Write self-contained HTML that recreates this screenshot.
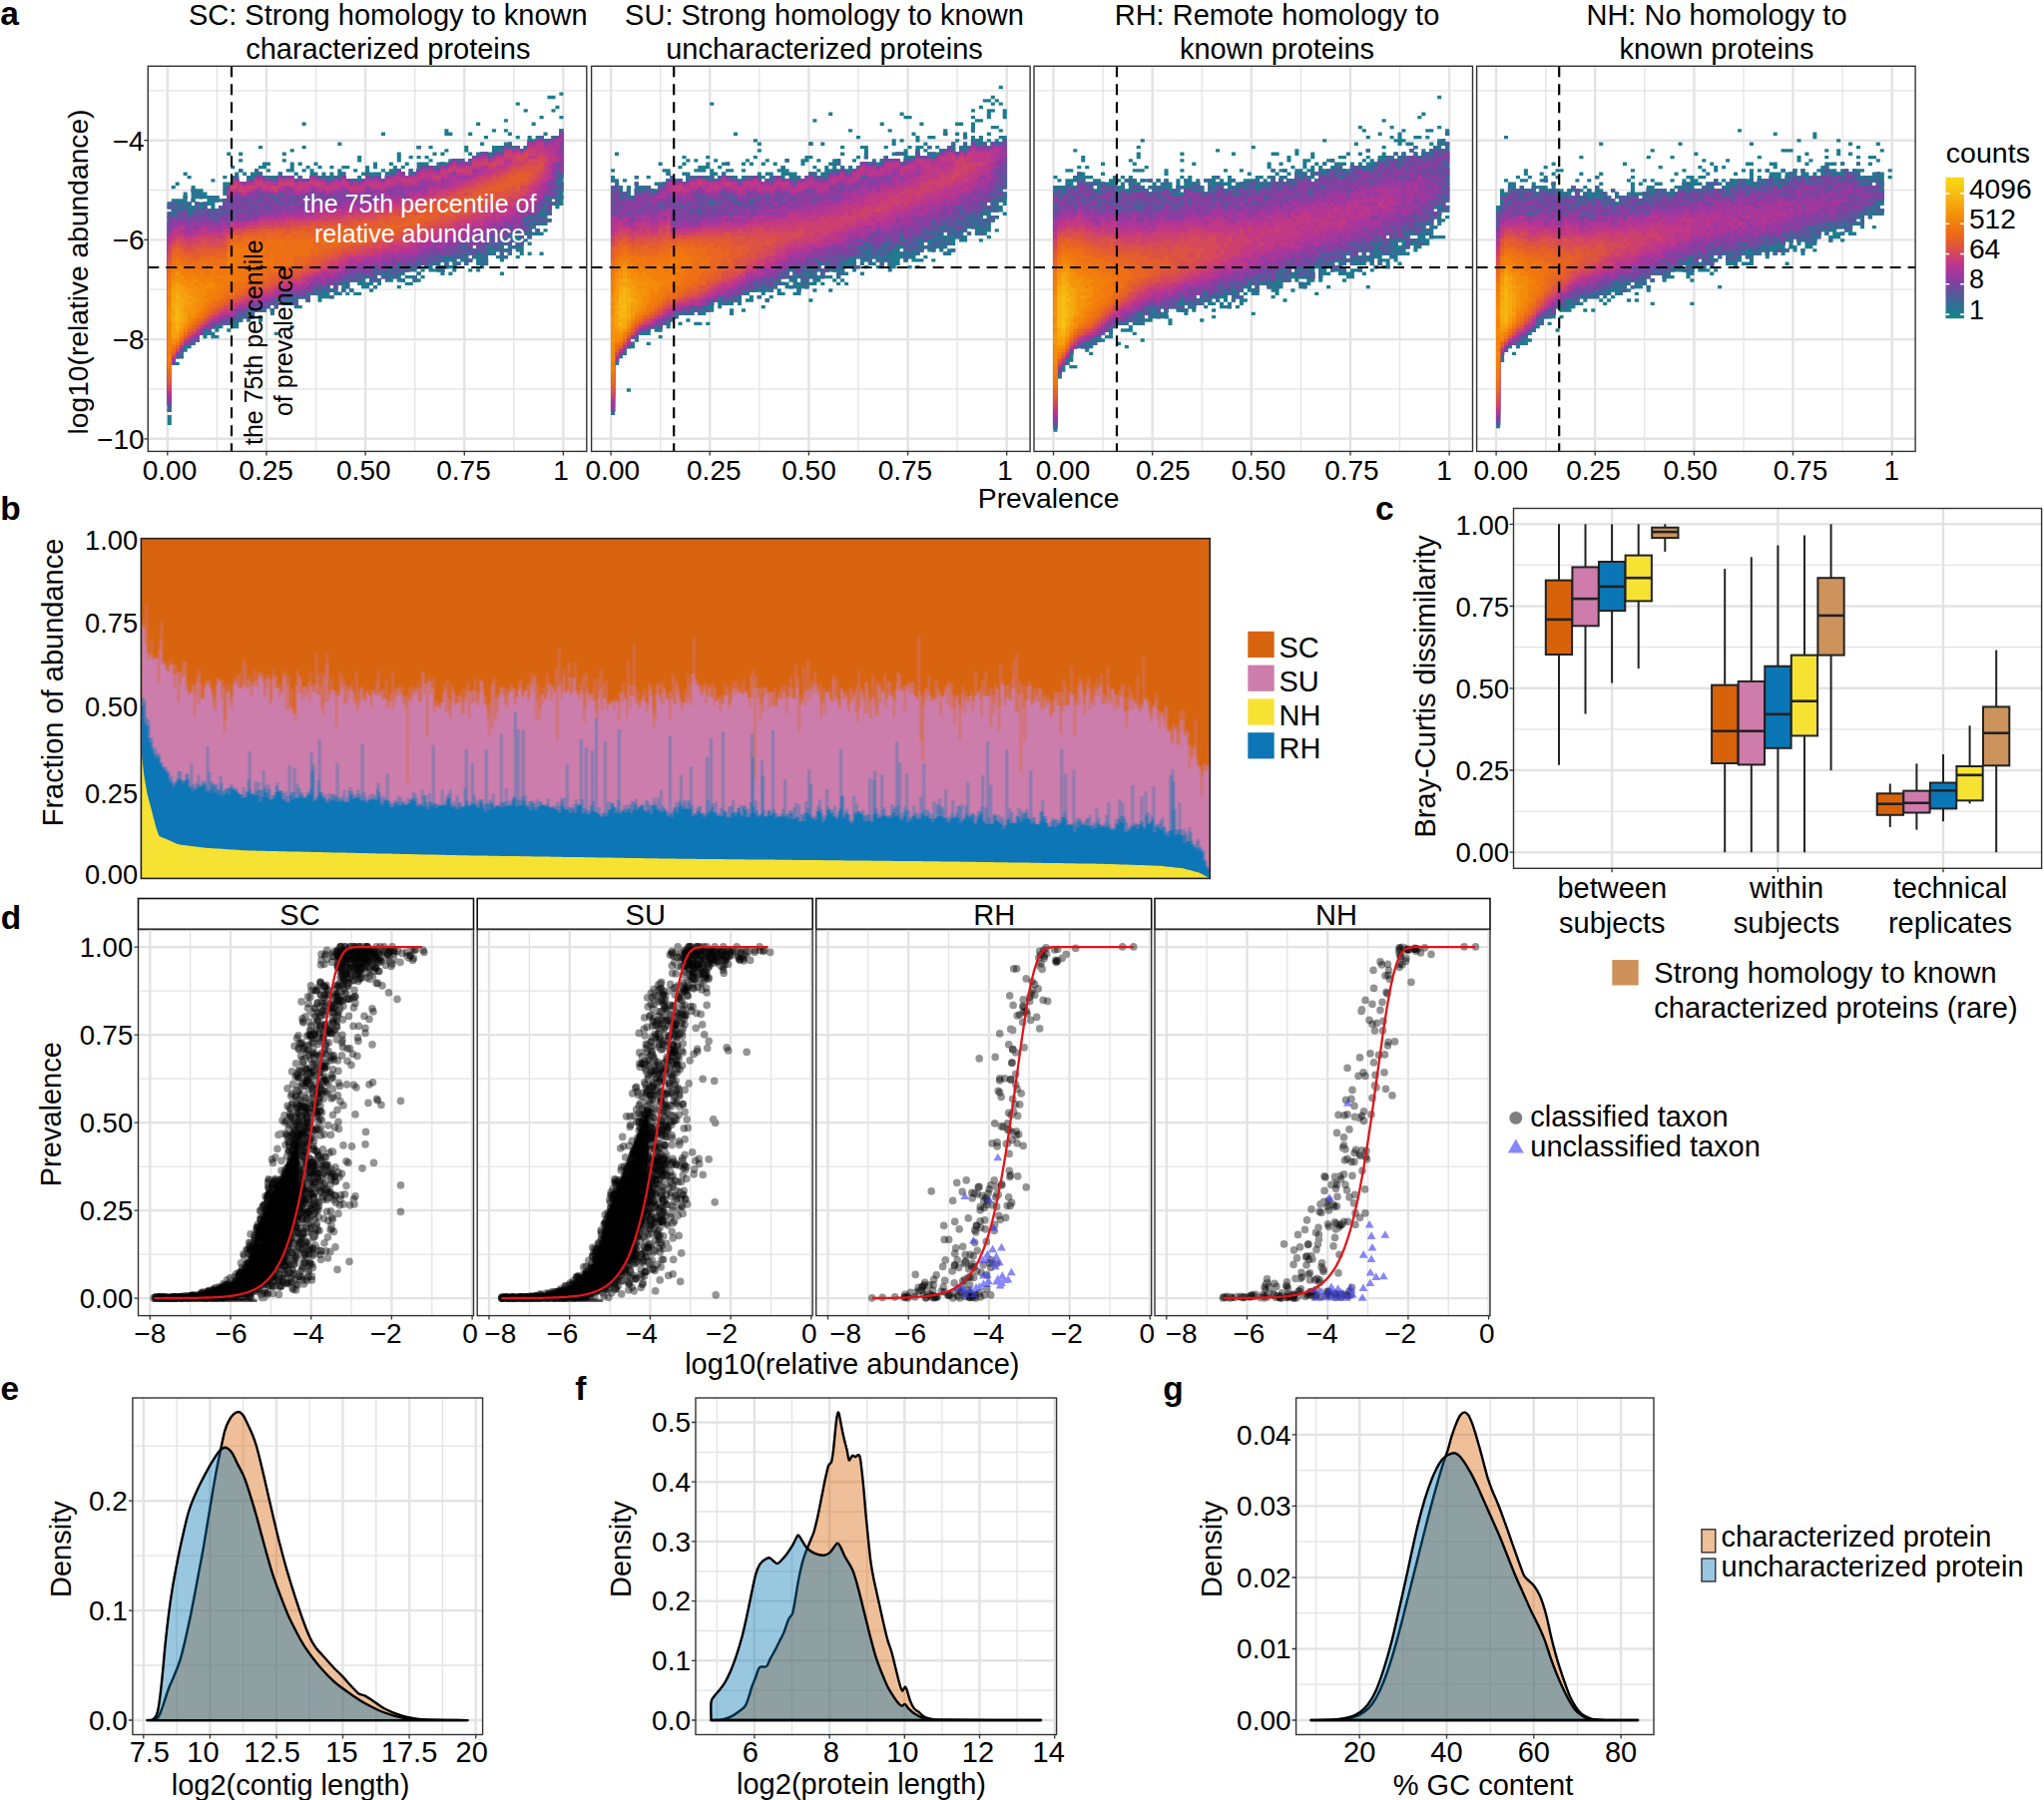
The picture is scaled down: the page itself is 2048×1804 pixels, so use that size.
<!DOCTYPE html>
<html><head><meta charset="utf-8"><title>Figure</title>
<style>html,body{margin:0;padding:0;background:#fff}svg{display:block}text{font-family:"Liberation Sans", Arial, sans-serif}</style>
</head><body>
<svg width="2048" height="1804" viewBox="0 0 2048 1804">
<rect width="2048" height="1804" fill="#fff"/>
<clipPath id="ca0"><rect x="148.3" y="66.3" width="439.5" height="386.1"/></clipPath>
<g clip-path="url(#ca0)">
<path d="M217.4 66.3V452.4M316.5 66.3V452.4M415.7 66.3V452.4M514.8 66.3V452.4M148.3 90.8H587.8M148.3 190.5H587.8M148.3 290.2H587.8M148.3 389.9H587.8" stroke="#e3e3e3" stroke-width="1.3" fill="none"/>
<path d="M167.8 66.3V452.4M267.0 66.3V452.4M366.1 66.3V452.4M465.3 66.3V452.4M564.4 66.3V452.4M148.3 140.7H587.8M148.3 240.4H587.8M148.3 340.1H587.8M148.3 439.8H587.8" stroke="#e3e3e3" stroke-width="2.4" fill="none"/>
<g transform="translate(169.78 85.86) scale(3.966 3.335)" fill="none" stroke-width="1.03">
<path d="M0 35v2M0 38v60M0 99v3M1 30v1M1 34v50M2 29v1M2 34v48M2 83v1M3 34v48M4 26v1M4 32v48M5 27v1M5 35v44M6 30v5M6 36v42M7 31v3M7 35v42M8 31v3M8 35v40M9 32v2M9 35v41M10 33v3M10 37v38M11 28v1M11 33v40M11 74v2M12 33v2M12 37v37M12 75v1M13 34v1M13 36v37M14 27v1M14 29v4M14 34v38M15 20v1M15 29v43M15 73v1M16 24v1M16 27v46M17 26v47M18 20v1M18 22v1M18 25v1M18 29v42M19 26v1M19 29v41M20 27v44M21 26v44M22 25v43M23 18v1M23 24v1M23 26v42M23 69v2M24 23v2M24 27v41M25 23v1M25 25v1M25 27v40M26 27v39M26 67v2M27 27v40M27 74v1M28 26v39M29 20v1M29 22v1M29 27v39M30 25v1M30 27v39M31 19v1M31 23v3M31 27v39M31 72v1M32 26v1M32 28v39M33 23v1M33 27v37M33 66v1M34 11v1M34 18v1M34 25v1M34 28v36M35 24v1M35 28v37M36 25v38M37 23v1M37 26v37M38 24v1M38 27v38M39 26v38M40 27v37M41 24v1M41 26v34M41 61v1M41 63v1M42 27v36M43 17v1M43 25v35M43 62v1M44 24v1M44 26v36M45 24v1M45 28v33M45 62v1M46 28v31M46 61v1M47 25v1M47 28v31M47 62v1M48 21v2M48 27v33M48 62v1M49 26v1M49 28v33M50 24v34M50 59v2M51 26v34M51 61v1M52 23v2M52 26v33M52 60v1M53 26v31M53 58v2M54 14v1M54 25v1M54 28v30M55 26v33M56 23v1M56 25v34M57 24v34M58 20v3M58 25v34M58 60v1M59 24v1M59 26v31M59 58v1M60 23v1M60 27v29M60 57v1M60 59v1M61 21v1M61 25v31M61 57v1M61 59v1M62 26v30M62 57v2M63 18v1M63 21v1M63 23v32M63 56v1M63 58v1M64 23v31M64 55v1M64 57v1M65 21v1M65 23v32M66 18v1M66 22v1M66 24v32M67 20v1M67 24v30M67 55v1M68 23v33M69 20v1M69 23v30M69 54v3M70 13v2M70 19v1M70 23v32M71 14v1M71 22v31M71 54v1M71 56v1M72 22v34M73 22v30M73 53v1M74 22v31M75 18v2M75 23v31M76 14v1M76 20v1M76 22v29M76 52v1M76 55v1M77 21v27M77 49v3M78 11v1M78 20v34M78 55v1M79 17v1M79 20v35M80 15v1M80 20v34M81 20v31M82 13v1M82 18v33M83 18v32M83 51v1M84 18v35M84 56v1M85 10v1M85 13v1M85 17v31M85 49v1M85 51v1M86 14v1M86 17v34M87 18v29M87 48v1M88 5v1M88 15v1M88 18v32M88 51v1M89 19v32M90 7v1M90 18v27M90 46v1M91 15v31M91 47v1M91 50v1M92 11v1M92 16v27M92 44v1M93 15v27M93 43v2M94 9v1M94 15v27M94 44v1M94 50v1M95 14v1M95 16v26M95 43v1M96 3v1M96 16v23M96 40v1M97 3v1M97 7v1M97 15v19M97 35v1M98 6v1M98 15v22M99 2v1M99 9v1M99 13v23" stroke="#1e7c8e"/>
<path d="M0 35v2M0 38v60M1 35v49M2 35v47M3 35v47M4 33v1M4 36v42M5 35v1M5 37v1M5 39v39M6 31v1M6 34v1M6 37v41M7 32v1M7 35v42M8 33v1M8 37v38M9 35v39M10 37v37M11 33v1M11 37v36M12 33v2M12 37v35M13 36v36M14 34v38M15 30v41M16 28v43M17 27v44M18 25v1M18 29v42M19 29v41M20 28v40M20 69v1M21 28v42M22 25v1M22 27v41M23 26v42M24 27v41M25 28v39M26 28v38M26 67v1M27 27v37M27 65v2M28 26v39M29 27v38M30 27v37M30 65v1M31 27v39M32 28v38M33 27v37M34 28v36M35 28v37M36 27v36M37 27v34M37 62v1M38 27v36M39 27v34M40 27v35M41 28v32M41 61v1M41 63v1M42 27v35M43 27v33M43 62v1M44 26v33M44 61v1M45 28v33M46 28v31M46 61v1M47 28v31M48 29v30M49 28v30M50 26v31M51 27v32M52 27v32M52 60v1M53 27v30M53 58v1M54 28v28M54 57v1M55 26v32M56 26v31M57 26v32M58 25v28M58 55v2M59 26v30M59 58v1M60 27v29M61 25v30M62 26v29M62 57v2M63 18v1M63 25v30M63 56v1M64 24v30M65 24v31M66 24v30M67 24v30M68 24v29M68 55v1M69 23v30M69 55v1M70 24v27M70 53v2M71 23v29M72 22v31M72 54v1M73 22v30M73 53v1M74 22v30M75 23v31M76 22v29M76 52v1M77 21v27M77 49v3M78 21v30M79 20v30M79 51v2M80 20v31M80 52v2M81 21v27M82 19v30M82 50v1M83 20v29M84 18v1M84 20v28M84 49v3M85 18v30M85 49v1M85 51v1M86 17v31M86 49v2M87 18v29M87 48v1M88 18v27M88 47v2M89 19v29M90 18v27M91 16v23M91 40v6M92 17v26M93 16v26M93 43v1M94 15v22M94 39v2M95 16v20M95 37v2M95 40v1M96 16v23M96 40v1M97 15v19M97 35v1M98 15v20M99 13v15M99 29v3M99 33v1" stroke="#2a7491"/>
<path d="M0 35v2M0 38v60M1 35v49M2 35v47M3 35v47M4 33v1M4 36v42M5 35v1M5 37v1M5 39v39M6 31v1M6 34v1M6 37v41M7 32v1M7 35v42M8 33v1M8 37v38M9 35v39M10 37v37M11 33v1M11 37v36M12 33v2M12 37v35M13 36v36M14 34v38M15 30v41M16 28v43M17 27v44M18 25v1M18 29v42M19 29v41M20 28v40M20 69v1M21 28v42M22 25v1M22 27v41M23 26v42M24 27v41M25 28v39M26 28v38M26 67v1M27 27v37M27 65v2M28 26v39M29 27v38M30 27v37M30 65v1M31 27v39M32 28v38M33 27v37M34 28v36M35 28v37M36 27v36M37 27v34M37 62v1M38 27v36M39 27v34M40 27v35M41 28v32M41 61v1M41 63v1M42 27v35M43 27v33M43 62v1M44 26v33M44 61v1M45 28v33M46 28v31M46 61v1M47 28v31M48 29v30M49 28v30M50 26v31M51 27v32M52 27v32M52 60v1M53 27v30M53 58v1M54 28v28M54 57v1M55 26v32M56 26v31M57 26v32M58 25v28M58 55v2M59 26v30M59 58v1M60 27v29M61 25v30M62 26v29M62 57v2M63 18v1M63 25v30M63 56v1M64 24v30M65 24v31M66 24v30M67 24v30M68 24v29M68 55v1M69 23v30M69 55v1M70 24v27M70 53v2M71 23v29M72 22v31M72 54v1M73 22v30M73 53v1M74 22v30M75 23v31M76 22v29M76 52v1M77 21v27M77 49v3M78 21v30M79 20v30M79 51v2M80 20v31M80 52v2M81 21v27M82 19v30M82 50v1M83 20v29M84 18v1M84 20v28M84 49v3M85 18v30M85 49v1M85 51v1M86 17v31M86 49v2M87 18v29M87 48v1M88 18v27M88 47v2M89 19v29M90 18v27M91 16v23M91 40v6M92 17v26M93 16v26M93 43v1M94 15v22M94 39v2M95 16v20M95 37v2M95 40v1M96 16v23M96 40v1M97 15v19M97 35v1M98 15v20M99 13v15M99 29v3M99 33v1" stroke="#376b94"/>
<path d="M0 36v1M0 38v58M0 97v1M1 35v2M1 39v45M2 36v1M2 38v44M3 37v43M4 36v42M5 35v1M5 39v39M6 38v39M7 35v42M8 37v38M9 35v1M9 37v36M10 37v37M11 38v35M12 37v35M13 36v36M14 34v38M15 30v41M16 28v42M17 28v43M18 29v40M19 29v41M20 28v39M20 69v1M21 28v40M21 69v1M22 25v1M22 27v41M23 26v41M24 27v41M25 28v38M26 28v38M26 67v1M27 28v36M27 65v2M28 27v38M29 27v38M30 27v37M31 27v37M31 65v1M32 28v36M32 65v1M33 28v36M34 28v36M35 28v34M35 63v2M36 27v36M37 27v34M38 28v34M39 28v33M40 29v33M41 28v32M41 63v1M42 27v34M43 28v32M44 27v32M45 28v31M46 28v31M47 28v31M48 29v30M49 28v30M50 26v31M51 28v31M52 27v29M52 57v2M53 27v30M53 58v1M54 28v28M54 57v1M55 27v29M55 57v1M56 27v27M56 55v2M57 26v29M57 56v2M58 25v28M58 55v1M59 26v30M60 27v29M61 26v29M62 27v28M63 25v28M63 54v1M64 24v30M65 24v30M66 24v30M67 24v29M68 25v28M69 24v29M70 24v27M70 53v1M71 23v29M72 22v29M73 23v27M73 51v1M73 53v1M74 22v26M74 49v2M75 23v25M75 49v1M76 22v29M76 52v1M77 21v27M77 49v2M78 21v28M79 20v30M80 20v31M81 21v27M82 21v26M82 48v1M83 20v29M84 20v27M84 49v2M85 18v30M86 18v30M86 49v1M87 19v26M87 46v1M88 18v27M88 47v2M89 19v29M90 19v21M90 41v3M91 17v22M91 40v1M91 42v2M91 45v1M92 17v23M93 16v26M93 43v1M94 15v22M94 40v1M95 17v19M95 37v1M95 40v1M96 16v18M96 35v4M97 16v15M97 32v2M97 35v1M98 15v13M98 29v4M98 34v1M99 14v13M99 29v2" stroke="#496199"/>
<path d="M0 36v1M0 39v1M0 41v55M1 35v1M1 40v44M2 38v44M3 38v42M4 37v41M5 39v39M6 38v39M7 35v1M7 37v40M8 37v38M9 37v36M10 37v37M11 38v35M12 37v3M12 41v31M13 36v35M14 34v3M14 38v34M15 30v41M16 28v42M17 28v42M18 29v40M19 29v39M20 28v39M20 69v1M21 28v39M22 27v39M22 67v1M23 27v40M24 28v39M25 28v38M26 28v37M27 28v5M27 34v30M27 65v1M28 27v5M28 33v31M29 27v36M29 64v1M30 27v37M31 27v37M32 29v34M32 65v1M33 28v36M34 28v36M35 28v34M35 63v1M36 27v6M36 34v28M37 27v34M38 28v34M39 28v33M40 29v31M41 28v32M42 28v31M42 60v1M43 28v32M44 27v31M45 28v29M45 58v1M46 29v29M47 28v30M48 29v28M49 28v30M50 27v30M51 28v30M52 27v27M53 27v28M53 56v1M54 28v28M55 27v28M55 57v1M56 27v27M57 27v28M57 56v1M58 25v28M58 55v1M59 26v29M60 27v27M60 55v1M61 26v29M62 27v28M63 25v27M63 54v1M64 24v30M65 24v30M66 24v29M67 25v28M68 25v26M68 52v1M69 24v27M70 24v27M71 23v28M72 22v29M73 23v27M73 51v1M74 22v26M74 49v2M75 23v25M75 49v1M76 22v27M76 50v1M76 52v1M77 21v27M77 49v2M78 21v28M79 20v28M79 49v1M80 20v29M80 50v1M81 22v26M82 21v24M82 46v1M82 48v1M83 20v29M84 20v27M85 18v27M85 46v1M86 19v26M86 46v1M87 19v26M88 18v26M89 19v26M89 47v1M90 19v21M90 41v3M91 17v22M91 40v1M92 17v22M93 16v22M93 39v2M94 15v22M94 40v1M95 17v16M95 34v2M95 37v1M95 40v1M96 16v17M96 35v2M97 16v15M97 32v1M98 15v11M98 27v1M98 30v1M99 14v12" stroke="#5c569d"/>
<path d="M0 39v1M0 41v55M1 40v44M2 40v41M3 38v1M3 40v40M4 38v40M5 40v37M6 39v38M7 39v37M8 39v36M9 37v36M10 40v33M11 40v32M12 38v1M12 41v31M13 39v32M14 35v2M14 38v32M14 71v1M15 30v6M15 37v1M15 39v32M16 29v6M16 36v4M16 41v29M17 28v9M17 38v30M18 29v8M18 38v30M19 29v39M20 29v5M20 36v2M20 39v28M21 29v7M21 37v30M22 27v7M22 35v1M22 37v29M22 67v1M23 27v5M23 33v1M23 35v32M24 28v38M25 28v4M25 33v3M25 38v28M26 29v4M26 34v31M27 29v4M27 35v29M28 27v5M28 33v1M28 36v28M29 28v35M30 27v35M31 27v6M31 34v28M31 63v1M32 29v5M32 35v28M33 28v35M34 28v7M34 36v27M35 28v34M36 27v5M36 34v28M37 27v7M37 35v26M38 28v32M39 28v6M39 35v25M40 29v31M41 29v4M41 34v26M42 28v5M42 34v25M42 60v1M43 28v31M44 27v31M45 28v29M46 29v29M47 29v27M48 29v27M49 28v5M49 34v22M50 27v30M51 28v29M52 27v27M53 28v27M54 28v28M55 27v28M56 27v27M57 27v28M58 25v28M58 55v1M59 26v28M60 27v27M61 27v26M62 27v26M63 25v26M64 24v29M65 25v26M66 24v28M67 25v26M68 25v26M69 24v27M70 24v25M70 50v1M71 23v26M71 50v1M72 22v4M72 27v23M73 23v25M74 23v25M74 49v1M75 23v23M76 23v26M77 21v27M78 21v28M79 21v27M79 49v1M80 20v28M81 22v23M81 46v1M82 21v24M82 46v1M83 20v27M84 20v25M85 19v26M86 19v23M86 43v1M87 19v24M87 44v1M88 19v24M89 20v23M90 19v20M90 42v1M91 17v22M91 40v1M92 17v22M93 16v20M93 37v1M94 16v19M94 36v1M95 17v16M95 40v1M96 16v17M96 36v1M97 16v15M97 32v1M98 15v8M98 24v2M99 14v12" stroke="#704a9f"/>
<path d="M0 41v2M0 44v52M1 40v43M2 40v41M3 40v39M4 38v40M5 41v36M6 40v36M7 39v1M7 41v35M8 39v1M8 41v34M9 39v34M10 40v33M11 40v31M12 41v31M13 40v31M14 36v1M14 39v31M15 30v4M15 39v1M15 42v29M16 29v5M16 36v2M16 41v29M17 28v9M17 39v29M18 29v5M18 36v1M18 38v30M19 29v5M19 35v2M19 38v30M20 29v5M20 36v1M20 40v26M21 29v5M21 35v1M21 37v29M22 27v7M22 35v1M22 39v26M23 27v5M23 36v2M23 39v27M24 28v4M24 33v1M24 35v1M24 37v29M25 28v4M25 33v3M25 38v26M26 29v4M26 34v1M26 36v29M27 29v4M27 35v29M28 27v5M28 33v1M28 36v28M29 28v4M29 34v1M29 36v27M30 28v7M30 37v25M31 27v6M31 36v26M32 29v5M32 36v26M33 28v5M33 34v28M34 28v5M34 34v1M34 36v25M35 29v33M36 27v5M36 35v27M37 27v7M37 35v25M38 28v4M38 34v25M39 28v6M39 35v25M40 29v30M41 29v4M41 34v26M42 28v5M42 34v25M43 28v30M44 27v5M44 33v25M45 28v5M45 34v21M45 56v1M46 29v27M47 29v27M48 29v27M49 28v5M49 34v22M50 27v29M51 28v27M51 56v1M52 27v27M53 28v5M53 34v21M54 29v26M55 27v28M56 27v27M57 27v27M58 26v27M59 26v7M59 34v20M60 27v26M61 27v26M62 27v26M63 25v26M64 25v28M65 25v26M66 24v26M67 25v25M68 25v25M69 24v27M70 25v24M70 50v1M71 23v26M72 22v4M72 27v23M73 23v24M74 23v23M74 47v1M75 23v23M76 24v22M76 47v2M77 22v24M77 47v1M78 21v24M78 48v1M79 21v27M79 49v1M80 20v26M81 22v23M82 21v24M83 20v23M83 45v1M84 21v24M85 19v26M86 19v23M86 43v1M87 19v24M88 19v24M89 20v21M90 19v20M91 17v22M92 17v21M93 16v19M93 37v1M94 16v19M95 17v16M96 17v16M96 36v1M97 16v12M97 29v2M97 32v1M98 16v7M98 24v1M99 14v12" stroke="#8340a0"/>
<path d="M0 44v50M1 40v1M1 42v41M2 41v40M3 41v38M4 41v37M5 42v35M6 41v35M7 41v1M7 43v32M8 42v32M9 40v33M10 41v32M11 42v29M12 42v29M13 40v30M14 41v29M15 31v2M15 42v27M16 29v4M16 41v28M17 28v4M17 40v27M18 29v4M18 38v1M18 41v26M19 29v4M19 39v28M20 29v4M20 40v26M21 29v3M21 39v26M22 28v3M22 35v1M22 40v25M23 27v5M23 37v1M23 39v26M24 28v4M24 39v26M25 28v4M25 38v26M26 29v3M26 36v1M26 38v26M27 29v4M27 35v1M27 38v26M28 28v4M28 38v26M29 28v4M29 34v1M29 37v25M30 28v3M30 32v1M30 38v24M31 27v5M31 36v1M31 38v24M32 29v4M32 38v24M33 28v5M33 35v1M33 37v25M34 29v4M34 34v1M34 36v25M35 29v3M35 37v23M35 61v1M36 27v5M36 36v23M37 28v4M37 36v23M38 28v4M38 34v25M39 28v4M39 35v25M40 29v4M40 34v1M40 36v22M41 29v4M41 36v22M42 28v5M42 37v21M43 28v4M43 36v20M44 28v3M44 33v1M44 35v22M45 28v4M45 34v21M46 30v3M46 34v21M47 29v26M48 29v3M48 34v20M49 28v5M49 34v1M49 36v18M50 28v2M50 33v1M50 35v20M51 28v4M51 35v20M52 28v3M52 32v21M53 28v5M53 34v21M54 29v24M55 28v3M55 32v21M56 27v4M56 33v19M56 53v1M57 27v25M58 26v4M58 31v1M58 33v20M59 27v5M59 34v18M60 27v25M61 27v24M62 27v25M63 26v4M63 31v20M64 25v3M64 29v21M65 25v24M66 25v24M67 26v22M68 26v21M68 48v1M69 24v4M69 29v20M70 25v23M71 24v23M72 23v3M72 27v19M72 47v1M73 24v23M74 24v22M75 23v23M76 24v22M77 22v3M77 26v20M77 47v1M78 21v24M79 21v23M80 21v23M80 45v1M81 22v21M82 21v22M83 21v22M84 21v21M85 19v22M85 42v1M86 19v22M87 19v22M88 19v24M89 20v20M90 19v20M91 17v21M92 17v19M93 16v19M93 37v1M94 17v17M95 18v14M96 17v12M97 16v10M97 27v1M97 30v1M98 16v7M99 15v3M99 20v3M99 24v2" stroke="#943ba0"/>
<path d="M0 45v49M1 40v1M1 43v39M2 42v38M3 42v37M4 42v36M5 44v33M6 41v1M6 43v33M7 43v32M8 42v31M9 42v30M10 41v1M10 43v29M11 42v29M12 42v29M13 41v1M13 43v27M14 41v28M15 31v2M15 42v27M16 29v4M16 41v28M17 28v4M17 40v27M18 29v4M18 41v26M19 30v3M19 41v26M20 29v3M20 41v25M21 29v3M21 40v25M22 28v3M22 40v25M23 28v3M23 39v26M24 28v4M24 39v25M25 28v4M25 39v25M26 29v3M26 39v25M27 29v4M27 39v24M28 28v3M28 39v23M29 28v4M29 38v24M30 28v3M30 38v23M31 28v3M31 36v1M31 38v24M32 29v4M32 38v24M33 29v4M33 37v24M34 29v3M34 38v23M35 29v3M35 37v23M36 27v4M36 37v22M37 28v3M37 36v21M38 28v4M38 36v23M39 28v4M39 37v22M40 30v3M40 36v21M41 29v3M41 36v22M42 28v3M42 37v20M43 29v2M43 37v19M44 28v3M44 36v20M45 29v2M45 35v20M46 30v3M46 36v18M47 29v3M47 36v19M48 30v2M48 36v17M49 29v4M49 34v1M49 36v17M50 28v2M50 35v19M51 28v3M51 36v18M52 28v3M52 32v1M52 34v19M53 28v4M53 35v19M54 29v4M54 34v18M55 28v3M55 33v1M55 35v17M56 28v3M56 33v18M57 27v3M57 34v17M58 26v4M58 33v17M58 51v1M59 27v3M59 34v17M60 27v4M60 32v1M60 34v17M61 27v3M61 32v19M62 27v4M62 32v19M63 26v4M63 32v18M64 25v3M64 31v18M65 25v5M65 32v17M66 25v4M66 30v18M67 26v3M67 30v18M68 26v21M68 48v1M69 24v4M69 29v19M70 25v3M70 29v16M70 46v2M71 24v22M72 23v3M72 27v19M73 24v23M74 24v22M75 24v22M76 24v21M77 22v3M77 26v18M78 22v22M79 21v23M80 21v23M81 22v21M82 22v19M83 21v20M84 21v21M85 19v22M86 19v22M87 20v19M88 19v21M89 20v18M90 19v19M91 17v19M91 37v1M92 17v19M93 16v17M93 34v1M94 17v17M95 18v14M96 17v11M97 17v7M97 25v1M97 27v1M98 16v7M99 15v2M99 21v2" stroke="#a4379d"/>
<path d="M0 45v48M1 43v39M2 43v37M3 42v37M4 44v33M5 45v31M6 43v32M7 43v32M8 43v30M9 42v30M10 44v27M11 43v28M12 44v26M13 44v25M14 42v27M15 32v1M15 43v26M16 29v3M16 41v27M17 29v3M17 41v26M18 30v3M18 41v25M19 30v3M19 41v25M20 29v3M20 41v25M21 29v3M21 41v24M22 28v3M22 41v24M23 28v3M23 40v24M24 29v3M24 39v25M25 29v3M25 40v24M26 29v3M26 40v23M27 30v2M27 40v22M28 28v3M28 39v22M29 28v3M29 39v22M30 28v2M30 39v22M31 28v3M31 39v22M32 29v3M32 39v21M33 29v3M33 39v22M34 29v3M34 38v22M35 29v3M35 39v21M36 28v2M36 39v19M37 28v3M37 38v19M38 29v3M38 37v20M39 29v2M39 38v18M39 57v1M40 30v2M40 36v1M40 38v19M41 29v3M41 37v20M42 29v2M42 37v19M43 29v2M43 37v19M44 28v2M44 37v18M45 29v2M45 37v17M46 30v2M46 37v16M47 29v3M47 36v18M48 30v2M48 37v16M49 29v3M49 37v15M50 28v2M50 36v16M51 29v2M51 37v15M52 28v3M52 34v18M53 29v2M53 35v17M54 29v3M54 35v16M55 28v3M55 35v15M55 51v1M56 28v2M56 35v15M57 27v3M57 34v17M58 27v2M58 33v1M58 35v15M59 28v2M59 34v16M60 27v3M60 34v16M61 27v3M61 32v18M62 27v3M62 33v17M63 26v3M63 32v16M64 26v2M64 33v15M65 26v2M65 32v15M66 25v3M66 30v17M67 26v3M67 31v16M68 26v21M69 25v3M69 31v16M70 25v3M70 29v1M70 31v14M71 24v2M71 29v17M72 23v3M72 27v17M73 24v3M73 28v16M74 24v3M74 29v15M75 24v3M75 28v17M76 24v3M76 28v15M77 22v3M77 27v15M77 43v1M78 22v3M78 26v17M79 22v3M79 26v17M80 21v21M81 23v18M82 22v19M83 21v20M84 21v19M85 19v20M86 19v21M87 20v19M88 19v19M89 20v17M90 19v18M91 18v16M91 35v1M92 18v15M93 17v16M94 17v14M95 18v11M96 17v11M97 18v5M98 17v2M98 21v2" stroke="#b43693"/>
<path d="M0 47v45M1 44v38M2 43v37M3 42v1M3 44v34M4 45v32M5 45v31M6 45v30M7 45v29M8 44v29M9 43v29M10 44v27M11 44v26M12 44v26M13 44v25M14 43v25M15 43v25M16 29v3M16 41v26M17 29v2M17 42v25M18 30v2M18 42v24M19 30v3M19 42v24M20 30v2M20 41v24M21 30v1M21 41v23M22 28v3M22 41v23M23 28v2M23 40v24M24 29v2M24 41v22M25 29v2M25 40v23M26 30v2M26 40v23M27 30v2M27 40v22M28 28v3M28 40v21M29 29v1M29 40v21M30 28v2M30 40v20M31 28v2M31 39v22M32 30v2M32 40v20M33 29v2M33 40v20M34 29v2M34 40v19M35 29v2M35 39v19M36 28v2M36 39v19M37 29v1M37 38v19M38 29v2M38 38v19M39 29v2M39 38v18M40 30v2M40 38v18M41 30v1M41 38v18M42 29v2M42 38v17M43 30v1M43 37v17M44 28v2M44 38v16M45 29v2M45 37v16M46 30v2M46 38v14M47 30v2M47 37v15M48 30v2M48 38v15M49 30v1M49 38v14M50 29v1M50 36v15M51 29v2M51 37v14M52 29v2M52 37v14M53 29v2M53 36v15M54 30v1M54 36v14M55 28v2M55 36v14M56 28v2M56 35v15M57 28v1M57 35v15M58 27v1M58 35v15M59 28v1M59 34v15M60 28v2M60 35v14M61 28v1M61 34v14M62 28v2M62 33v15M63 27v1M63 33v14M64 26v2M64 33v14M65 26v2M65 33v13M66 26v1M66 31v15M67 26v2M67 31v15M68 27v2M68 31v14M69 25v2M69 31v15M70 25v3M70 31v14M71 24v2M71 31v14M72 24v1M72 30v14M73 25v2M73 29v14M74 24v2M74 29v14M75 24v3M75 29v13M76 24v3M76 28v14M77 22v3M77 28v14M78 22v3M78 27v14M78 42v1M79 22v2M79 27v15M80 22v2M80 26v14M81 23v17M82 22v17M83 21v3M83 25v15M84 21v18M85 20v2M85 24v15M86 19v3M86 23v15M87 20v17M88 20v17M89 20v16M90 20v15M91 18v16M92 18v15M93 17v14M94 17v12M95 19v10M96 20v4M96 25v1M97 21v2" stroke="#c13885"/>
<path d="M0 48v44M1 46v36M2 45v35M3 45v33M4 46v31M5 46v30M6 46v29M7 45v29M8 45v28M9 45v27M10 45v26M11 45v25M12 45v24M13 46v22M14 44v24M15 44v24M16 30v1M16 43v24M17 29v2M17 43v23M18 30v2M18 43v22M19 31v1M19 43v22M20 30v1M20 42v22M21 30v1M21 42v22M22 29v1M22 42v22M23 29v1M23 41v22M24 30v1M24 41v22M25 41v21M26 30v1M26 41v21M27 30v2M27 41v20M28 29v1M28 41v20M29 29v1M29 41v19M30 29v1M30 40v19M31 29v1M31 40v19M32 40v19M33 30v1M33 40v19M34 40v18M35 40v17M36 40v17M37 29v1M37 40v16M38 29v1M38 40v16M39 39v16M40 39v16M41 39v15M42 39v15M43 39v14M44 39v14M45 38v14M46 39v12M47 38v13M48 38v13M49 38v13M50 38v13M51 38v13M52 37v13M53 37v13M54 37v12M55 37v12M56 37v11M57 36v12M58 36v12M59 28v1M59 36v12M60 35v13M61 28v1M61 35v12M62 35v12M63 34v12M64 34v12M65 33v13M66 33v12M67 27v1M67 33v11M68 27v1M68 32v13M69 26v1M69 32v12M70 31v12M71 25v1M71 31v12M72 24v1M72 31v12M73 25v1M73 31v10M74 25v1M74 30v12M75 25v1M75 29v12M76 25v1M76 29v12M77 23v1M77 28v12M78 23v1M78 28v12M79 23v1M79 27v13M80 22v2M80 27v12M81 23v2M81 27v12M82 23v2M82 26v12M83 22v2M83 25v12M84 22v2M84 25v12M85 20v2M85 25v11M86 20v2M86 24v12M87 21v15M88 20v15M89 21v14M90 20v13M91 19v2M91 22v10M92 19v2M92 22v8M93 21v9M94 20v8M95 21v5" stroke="#cc406f"/>
<path d="M0 50v41M1 47v34M2 46v34M3 46v32M4 47v29M5 48v27M6 47v27M7 47v26M8 46v26M9 46v25M10 46v24M11 47v22M12 46v23M13 46v22M14 46v21M15 45v22M16 30v1M16 44v22M17 43v22M18 43v22M19 43v21M20 43v21M21 43v20M22 42v21M23 42v20M24 42v20M25 42v20M26 42v19M27 41v19M28 42v18M29 42v17M30 41v18M31 41v17M32 41v17M33 41v17M34 41v16M35 41v16M36 41v15M37 41v15M38 40v15M39 41v14M40 41v13M41 40v13M42 40v13M43 40v12M44 40v11M45 39v12M46 39v12M47 39v12M48 39v11M49 39v11M50 39v10M51 39v10M52 38v11M53 38v11M54 38v10M55 38v10M56 37v10M57 37v10M58 37v10M59 36v11M60 36v10M61 36v9M62 35v10M63 36v9M64 35v10M65 35v9M66 34v10M67 34v9M68 33v10M69 33v9M70 33v10M71 32v10M72 32v9M73 31v10M74 31v9M75 31v9M76 30v9M77 30v9M78 29v9M79 29v9M80 28v10M81 28v9M82 23v1M82 27v10M83 27v8M84 26v10M85 26v9M86 25v9M87 24v10M88 21v1M88 24v10M89 21v2M89 24v9M90 20v2M90 23v9M91 22v8M92 22v7M93 22v6M94 21v5M95 22v1" stroke="#d54959"/>
<path d="M0 52v38M1 48v33M2 47v32M3 48v30M4 48v28M5 49v26M6 48v26M7 48v25M8 48v24M9 47v24M10 48v22M11 48v21M12 48v20M13 48v19M14 47v19M15 45v21M16 44v21M17 44v21M18 44v20M19 44v19M20 43v20M21 43v19M22 43v19M23 43v19M24 43v18M25 43v18M26 43v17M27 43v17M28 43v16M29 42v16M30 43v15M31 42v15M32 42v16M33 42v15M34 42v14M35 42v14M36 41v14M37 41v13M38 41v13M39 41v12M40 41v12M41 41v11M42 41v11M43 41v10M44 41v9M45 41v9M46 40v10M47 40v9M48 41v8M49 40v8M50 40v8M51 40v8M52 40v7M53 39v8M54 39v8M55 39v8M56 38v8M57 38v8M58 39v7M59 38v7M60 38v7M61 37v7M62 37v7M63 37v7M64 36v7M65 35v8M66 35v7M67 35v7M68 34v7M69 34v8M70 34v7M71 33v7M72 33v7M73 32v7M74 32v7M75 31v1M75 33v6M76 31v7M77 31v7M78 30v7M79 30v7M80 29v7M81 29v6M82 28v7M83 28v6M84 27v7M85 27v7M86 26v7M87 25v7M88 25v7M89 25v5M90 24v6M91 24v5M92 24v4M93 24v2M94 23v2" stroke="#dd5342"/>
<path d="M0 53v36M1 49v32M2 48v31M3 49v28M4 50v26M5 50v24M6 50v24M7 49v23M8 49v22M9 49v21M10 49v20M11 49v19M12 49v18M13 49v18M14 49v17M15 46v19M16 45v19M17 45v19M18 45v18M19 44v19M20 44v18M21 44v17M22 44v17M23 44v17M24 43v17M25 43v17M26 44v15M27 43v16M28 43v14M29 43v14M30 44v13M31 43v14M32 43v13M33 43v13M34 42v13M35 43v11M36 42v12M37 43v10M38 43v10M39 42v10M40 42v9M41 42v9M42 42v8M43 42v8M44 42v7M45 42v7M46 42v6M47 41v7M48 41v7M49 41v7M50 41v6M51 41v6M52 41v5M53 40v6M54 40v5M55 41v4M56 39v6M57 39v6M58 39v5M59 40v4M60 39v4M61 38v5M62 39v4M63 38v4M64 38v4M65 37v4M66 37v4M67 36v4M68 36v4M69 37v2M70 35v4M71 35v4M72 34v4M73 34v3M74 34v3M75 33v2M76 33v2M77 32v4M78 32v3M79 31v3M80 31v2M81 30v3M81 34v1M82 30v2M82 33v1M83 29v3M84 29v3M85 28v3M86 27v4M87 27v3M88 26v5M89 26v3M90 26v3M91 26v1" stroke="#e45d2e"/>
<path d="M0 54v34M1 50v30M2 49v30M3 50v27M4 51v24M5 51v23M6 52v21M7 52v20M8 51v20M9 51v19M10 51v17M11 51v16M12 50v17M13 50v16M14 50v15M15 47v17M16 45v19M17 45v18M18 46v17M19 45v17M20 45v16M21 45v16M22 45v14M23 44v16M24 45v14M25 44v14M26 44v13M27 44v13M28 44v12M29 45v11M30 45v10M31 44v11M32 44v10M33 44v10M34 44v10M35 44v9M36 45v6M37 43v8M38 44v7M39 44v6M40 44v6M41 44v5M42 44v5M43 45v3M44 42v1M44 44v3M45 44v3M46 43v5M47 43v3M48 44v2M49 45v1M50 43v1M51 43v3M52 43v2M53 43v1M54 43v1M55 42v2M56 42v1M56 44v1M57 42v1M58 42v1M60 41v1M61 41v1M62 40v2M63 39v1M64 39v1" stroke="#e86621"/>
<path d="M0 56v30M1 52v28M2 51v27M3 52v24M4 52v23M5 53v20M6 52v20M7 53v18M8 52v18M9 52v17M10 52v16M11 51v16M12 52v13M13 52v13M14 52v12M15 49v14M16 47v16M17 47v15M18 47v14M19 46v15M20 46v13M21 46v13M22 46v12M23 46v12M24 47v10M25 46v9M26 46v10M27 46v10M28 46v8M29 46v9M30 45v1M30 47v7M31 46v8M32 46v5M33 46v5M34 46v5M35 46v5M36 46v3M37 49v1M38 46v1M39 46v2M42 47v1" stroke="#ed6f16"/>
<path d="M0 58v27M1 54v25M2 52v26M3 53v23M4 55v19M5 55v18M6 54v18M7 55v15M8 54v16M9 53v15M10 54v12M11 54v11M12 54v11M13 55v9M14 54v8M15 50v11M16 48v12M17 48v11M18 49v10M19 48v5M19 54v5M20 48v7M20 56v1M21 49v6M21 56v1M22 49v6M23 48v6M23 56v1M24 49v1M24 52v2M26 50v1M26 52v2M28 47v1" stroke="#f1770f"/>
<path d="M0 61v19M0 81v2M1 55v23M2 54v23M3 54v21M4 56v18M5 56v16M6 56v15M7 57v13M8 56v12M9 57v10M10 57v8M11 56v8M12 57v1M12 59v3M13 57v1M13 59v2M14 58v1M15 53v1M15 57v1M16 51v1" stroke="#f3800a"/>
<path d="M0 67v4M1 57v21M2 56v21M3 57v18M4 58v15M5 59v12M6 58v12M7 58v1M7 60v8M8 59v8M9 60v3M9 64v1M10 59v2M11 59v2" stroke="#f48b0b"/>
<path d="M1 59v17M2 56v1M2 58v18M3 57v1M3 59v15M4 60v12M5 61v8M6 61v1M6 63v6M7 64v1" stroke="#f5950c"/>
<path d="M1 61v15M2 59v17M3 60v13M4 62v5M4 68v3M5 63v1M5 65v1" stroke="#f6a00e"/>
<path d="M1 65v2M1 69v2M2 62v12M3 64v7" stroke="#f6ab0f"/>
<path d="M2 63v1M2 66v5M2 72v1" stroke="#f7b611"/>
</g>
<path d="M148.3 268H587.8M232.0 66.3V452.4" stroke="#000" stroke-width="2.2" stroke-dasharray="11 7" fill="none"/>
</g>
<rect x="148.3" y="66.3" width="439.5" height="386.1" fill="none" stroke="#333" stroke-width="1.4"/>
<path d="M167.8 452.4v4M267.0 452.4v4M366.1 452.4v4M465.3 452.4v4M564.4 452.4v4" stroke="#333" stroke-width="1.3" fill="none"/>
<text x="170.0" y="480.6" font-size="28" text-anchor="middle">0.00</text>
<text x="266.6" y="480.6" font-size="28" text-anchor="middle">0.25</text>
<text x="364.3" y="480.6" font-size="28" text-anchor="middle">0.50</text>
<text x="464.5" y="480.6" font-size="28" text-anchor="middle">0.75</text>
<text x="562.0" y="480.6" font-size="28" text-anchor="middle">1</text>
<clipPath id="ca1"><rect x="592.6" y="66.3" width="439.5" height="386.1"/></clipPath>
<g clip-path="url(#ca1)">
<path d="M661.7 66.3V452.4M760.8 66.3V452.4M860.0 66.3V452.4M959.1 66.3V452.4M592.6 90.8H1032.1M592.6 190.5H1032.1M592.6 290.2H1032.1M592.6 389.9H1032.1" stroke="#e3e3e3" stroke-width="1.3" fill="none"/>
<path d="M612.1 66.3V452.4M711.2 66.3V452.4M810.4 66.3V452.4M909.6 66.3V452.4M1008.7 66.3V452.4M592.6 140.7H1032.1M592.6 240.4H1032.1M592.6 340.1H1032.1M592.6 439.8H1032.1" stroke="#e3e3e3" stroke-width="2.4" fill="none"/>
<g transform="translate(614.08 85.86) scale(3.966 3.335)" fill="none" stroke-width="1.03">
<path d="M0 25v1M0 27v2M0 30v69M1 20v1M1 28v56M2 30v52M3 28v1M3 32v49M4 30v49M4 91v1M5 33v43M5 77v2M6 27v1M6 29v48M7 30v45M8 30v45M9 27v1M9 30v45M9 77v1M10 31v42M11 29v1M11 31v43M12 23v1M12 29v45M12 75v1M13 25v1M13 29v43M14 25v2M14 28v45M15 27v44M16 28v42M17 24v1M17 28v41M17 71v1M18 21v1M18 23v1M18 26v1M18 29v40M19 22v1M19 26v43M19 70v1M20 27v42M21 22v1M21 25v1M21 27v41M21 71v1M22 24v2M22 27v42M22 71v1M23 24v2M23 27v42M24 21v1M24 23v2M24 27v41M24 71v1M25 5v1M25 25v43M26 22v1M26 26v1M26 28v37M27 24v1M27 27v40M28 23v1M28 26v40M29 23v1M29 25v1M29 27v39M30 25v1M30 27v39M30 67v2M31 14v1M31 27v38M32 28v38M33 23v1M33 25v1M33 27v36M33 67v1M34 22v1M34 27v36M34 64v1M35 23v1M35 27v35M35 63v2M36 16v1M36 21v1M36 27v35M37 17v1M37 19v1M37 26v36M37 63v1M38 23v1M38 27v1M38 29v34M38 66v1M39 22v1M39 26v1M39 28v34M39 64v1M40 26v36M40 63v1M41 23v1M41 27v34M42 25v1M42 27v33M42 61v2M43 24v34M43 59v1M43 62v1M44 22v1M44 25v2M44 28v30M44 59v2M45 26v30M45 57v2M45 60v1M46 26v35M46 62v1M47 27v31M47 59v4M48 22v2M48 28v33M49 21v2M49 27v34M50 17v1M50 21v1M50 26v32M50 59v1M50 64v1M51 10v1M51 24v1M51 26v34M51 61v1M52 22v1M52 25v1M52 27v29M52 57v2M53 17v1M53 26v28M53 55v3M53 59v1M54 24v32M54 57v1M55 8v1M55 23v1M55 25v31M55 57v1M55 61v1M56 22v34M56 58v1M57 22v2M57 25v33M57 59v1M58 18v1M58 20v1M58 24v33M58 58v1M59 25v30M59 56v1M59 59v1M60 13v1M60 24v31M61 22v1M61 25v31M62 15v1M62 21v1M62 24v28M62 54v1M63 18v1M63 23v31M63 56v1M64 18v4M64 23v30M64 54v1M65 23v31M66 22v30M66 53v1M67 23v30M67 54v1M68 11v1M68 22v33M69 18v1M69 21v32M70 13v1M70 22v34M71 16v2M71 20v1M71 22v33M72 20v1M72 22v32M73 8v1M73 16v1M73 20v1M73 23v26M73 50v2M74 9v1M74 19v34M75 9v1M75 18v1M75 21v31M75 54v1M76 14v1M76 21v32M77 15v2M77 18v33M77 52v1M77 54v1M78 11v1M78 18v1M78 21v29M78 52v1M79 17v1M79 19v1M79 21v26M79 48v1M79 51v1M80 15v1M80 18v1M80 20v30M81 15v1M81 20v30M81 52v1M82 18v1M82 20v29M83 19v31M84 13v2M84 19v25M84 45v4M84 50v1M85 18v30M85 49v2M86 17v31M86 49v1M87 11v1M87 14v1M87 16v1M87 20v26M88 11v1M88 18v29M89 14v2M89 17v27M89 45v2M90 18v25M90 44v1M91 7v1M91 9v1M91 11v3M91 15v28M92 10v1M92 16v29M93 6v1M93 10v1M93 15v30M93 46v1M94 4v1M94 17v22M94 40v5M95 4v1M95 7v3M95 14v1M95 16v1M95 18v17M95 36v8M95 45v1M96 3v1M96 5v1M96 7v1M96 12v1M96 17v21M96 39v2M97 4v1M97 12v1M97 16v22M97 39v1M97 43v1M98 0v1M98 5v1M98 13v1M98 15v1M98 17v18M98 36v2M99 7v3M99 15v16M99 32v4M99 38v1" stroke="#1e7c8e"/>
<path d="M0 28v1M0 30v68M1 29v54M2 30v1M2 32v1M2 34v47M3 32v49M4 31v1M4 33v46M5 33v43M5 77v1M6 27v1M6 29v1M6 31v45M7 31v43M8 30v44M9 30v44M10 31v42M11 32v41M12 30v43M13 29v43M14 26v1M14 28v44M15 27v43M16 28v40M16 69v1M17 28v41M18 29v40M19 27v42M20 27v40M20 68v1M21 27v41M22 27v42M23 27v40M24 28v38M24 67v1M25 27v39M26 28v37M27 27v37M28 26v40M29 23v1M29 27v38M30 27v38M31 28v37M32 29v34M32 64v1M33 28v35M34 27v35M35 27v35M36 27v35M37 27v34M37 63v1M38 29v33M39 28v33M39 64v1M40 28v34M41 27v32M41 60v1M42 27v31M42 59v1M43 24v1M43 28v30M43 59v1M44 22v1M44 28v30M45 28v27M45 57v1M45 60v1M46 28v29M46 58v1M47 28v29M47 61v1M48 28v32M49 27v29M49 57v4M50 17v1M50 26v28M50 55v3M51 26v32M52 27v26M52 54v1M53 27v27M53 55v3M54 27v29M55 26v29M56 25v31M57 22v2M57 26v29M57 56v2M58 24v29M58 54v3M59 26v27M60 26v26M61 25v27M61 53v2M62 24v28M62 54v1M63 23v29M63 53v1M64 21v1M64 23v29M65 23v27M65 52v1M66 23v29M67 24v27M67 52v1M68 22v30M68 53v1M69 21v30M69 52v1M70 22v29M70 52v3M71 22v27M72 20v1M72 22v27M73 20v1M73 23v25M73 50v1M74 22v28M74 51v2M75 22v30M76 22v28M77 19v32M78 21v25M78 47v1M78 49v1M79 21v26M79 48v1M80 18v1M80 20v26M80 48v1M81 20v1M81 22v24M81 47v3M82 21v24M82 46v2M83 19v23M83 43v6M84 14v1M84 19v25M84 46v2M84 50v1M85 18v27M85 46v2M86 17v26M86 44v1M86 49v1M87 20v26M88 18v28M89 15v1M89 17v1M89 19v25M90 18v22M90 41v1M90 44v1M91 13v1M91 16v27M92 16v1M92 18v24M92 44v1M93 17v26M93 44v1M94 17v21M94 40v3M95 18v17M95 36v2M95 39v3M96 17v21M96 39v2M97 17v18M97 36v2M97 39v1M98 17v18M99 16v15M99 32v2" stroke="#2a7491"/>
<path d="M0 28v1M0 30v68M1 29v54M2 30v1M2 32v1M2 34v47M3 32v49M4 31v1M4 33v46M5 33v43M5 77v1M6 27v1M6 29v1M6 31v45M7 31v43M8 30v44M9 30v44M10 31v42M11 32v41M12 30v43M13 29v43M14 26v1M14 28v44M15 27v43M16 28v40M16 69v1M17 28v41M18 29v40M19 27v42M20 27v40M20 68v1M21 27v41M22 27v42M23 27v40M24 28v38M24 67v1M25 27v39M26 28v37M27 27v37M28 26v40M29 23v1M29 27v38M30 27v38M31 28v37M32 29v34M32 64v1M33 28v35M34 27v35M35 27v35M36 27v35M37 27v34M37 63v1M38 29v33M39 28v33M39 64v1M40 28v34M41 27v32M41 60v1M42 27v31M42 59v1M43 24v1M43 28v30M43 59v1M44 22v1M44 28v30M45 28v27M45 57v1M45 60v1M46 28v29M46 58v1M47 28v29M47 61v1M48 28v32M49 27v29M49 57v4M50 17v1M50 26v28M50 55v3M51 26v32M52 27v26M52 54v1M53 27v27M53 55v3M54 27v29M55 26v29M56 25v31M57 22v2M57 26v29M57 56v2M58 24v29M58 54v3M59 26v27M60 26v26M61 25v27M61 53v2M62 24v28M62 54v1M63 23v29M63 53v1M64 21v1M64 23v29M65 23v27M65 52v1M66 23v29M67 24v27M67 52v1M68 22v30M68 53v1M69 21v30M69 52v1M70 22v29M70 52v3M71 22v27M72 20v1M72 22v27M73 20v1M73 23v25M73 50v1M74 22v28M74 51v2M75 22v30M76 22v28M77 19v32M78 21v25M78 47v1M78 49v1M79 21v26M79 48v1M80 18v1M80 20v26M80 48v1M81 20v1M81 22v24M81 47v3M82 21v24M82 46v2M83 19v23M83 43v6M84 14v1M84 19v25M84 46v2M84 50v1M85 18v27M85 46v2M86 17v26M86 44v1M86 49v1M87 20v26M88 18v28M89 15v1M89 17v1M89 19v25M90 18v22M90 41v1M90 44v1M91 13v1M91 16v27M92 16v1M92 18v24M92 44v1M93 17v26M93 44v1M94 17v21M94 40v3M95 18v17M95 36v2M95 39v3M96 17v21M96 39v2M97 17v18M97 36v2M97 39v1M98 17v18M99 16v15M99 32v2" stroke="#376b94"/>
<path d="M0 30v68M1 30v53M2 32v1M2 34v47M3 32v48M4 34v44M5 34v42M6 29v1M6 31v45M7 32v42M8 30v1M8 32v42M9 30v43M10 33v40M11 32v40M12 30v5M12 36v37M13 30v42M14 28v43M15 27v43M16 29v39M17 28v41M18 29v39M19 29v39M20 28v39M21 27v41M22 27v41M23 28v39M24 28v38M24 67v1M25 27v7M25 36v29M26 28v37M27 28v36M28 27v39M29 27v38M30 28v37M31 28v36M32 29v6M32 36v27M33 28v35M34 27v35M35 27v7M35 35v26M36 27v34M37 28v33M37 63v1M38 29v31M39 28v33M40 28v33M41 27v32M41 60v1M42 27v31M42 59v1M43 28v30M44 28v29M45 28v27M45 57v1M46 29v28M47 28v29M48 28v28M48 57v1M49 27v29M49 57v2M49 60v1M50 26v28M51 27v25M51 53v3M51 57v1M52 27v26M52 54v1M53 28v26M53 55v2M54 28v25M54 54v2M55 26v29M56 26v29M57 26v29M58 25v28M59 26v26M60 26v26M61 25v27M61 54v1M62 25v26M63 23v26M63 50v2M64 23v24M64 48v1M64 51v1M65 24v23M65 48v1M65 52v1M66 23v29M67 24v26M67 52v1M68 24v25M68 50v2M68 53v1M69 21v26M69 49v1M70 22v28M71 22v27M72 20v1M72 22v25M73 23v22M73 47v1M74 22v24M74 47v3M75 22v28M76 22v27M77 20v27M77 48v2M78 21v25M78 49v1M79 21v22M79 44v3M79 48v1M80 21v25M80 48v1M81 22v24M81 47v1M82 21v23M82 46v2M83 20v22M83 43v1M84 19v23M84 43v1M84 47v1M85 18v24M85 43v2M86 20v23M87 20v20M87 41v4M88 19v22M88 42v1M89 20v23M90 18v22M90 41v1M90 44v1M91 17v22M91 40v1M91 42v1M92 18v22M93 18v20M93 40v3M93 44v1M94 17v19M94 37v1M94 40v1M94 42v1M95 18v17M95 36v1M95 40v1M96 17v17M96 35v1M96 39v1M97 17v17M98 17v14M98 32v2M99 16v15" stroke="#496199"/>
<path d="M0 30v1M0 32v66M1 31v52M2 32v1M2 34v47M3 32v48M4 34v44M5 34v42M6 29v1M6 31v44M7 32v42M8 32v42M9 31v4M9 36v37M10 33v40M11 32v40M12 30v5M12 36v37M13 30v6M13 37v34M14 28v43M15 28v42M16 29v39M17 28v40M18 29v7M18 37v31M19 29v6M19 36v32M20 28v39M21 28v38M21 67v1M22 27v10M22 38v29M23 28v38M24 28v38M25 28v6M25 36v29M26 29v8M26 38v27M27 28v36M28 27v38M29 27v37M30 28v37M31 28v6M31 35v29M32 29v6M32 36v27M33 28v33M33 62v1M34 28v34M35 28v6M35 35v26M36 27v34M37 28v33M38 29v30M39 28v5M39 34v26M40 29v31M41 27v32M42 27v31M42 59v1M43 28v28M43 57v1M44 28v27M44 56v1M45 28v27M45 57v1M46 30v26M47 28v29M48 28v27M48 57v1M49 27v27M50 27v27M51 28v6M51 35v17M51 53v1M51 55v1M52 27v25M52 54v1M53 28v25M53 55v2M54 28v25M54 55v1M55 26v29M56 26v28M57 26v28M58 25v28M59 26v26M60 26v25M61 25v26M62 25v21M62 47v1M62 49v2M63 23v25M64 23v24M64 48v1M65 24v23M65 52v1M66 23v25M66 49v2M67 24v25M68 24v24M68 50v1M69 22v25M69 49v1M70 22v25M70 48v1M71 22v27M72 22v25M73 23v22M73 47v1M74 22v24M74 47v2M75 22v26M76 22v24M76 47v2M77 20v26M78 21v24M79 21v22M79 45v2M80 21v23M80 45v1M81 22v19M81 42v2M81 45v1M81 47v1M82 21v22M83 20v22M83 43v1M84 19v22M84 43v1M85 18v24M85 43v2M86 20v21M86 42v1M87 20v20M87 41v3M88 20v18M88 39v2M88 42v1M89 20v19M89 40v1M90 19v20M90 41v1M91 17v21M92 18v21M93 18v17M93 36v1M94 18v18M95 19v16M95 36v1M95 40v1M96 17v15M96 33v1M96 39v1M97 18v15M98 17v14M98 32v2M99 16v12M99 29v2" stroke="#5c569d"/>
<path d="M0 30v1M0 32v2M0 35v63M1 31v6M1 38v45M2 34v2M2 37v44M3 32v1M3 34v45M4 34v44M5 35v41M6 33v42M7 32v5M7 38v36M8 32v42M9 32v3M9 36v37M10 33v40M11 32v40M12 30v5M12 37v35M13 31v5M13 37v34M14 29v41M15 28v6M15 35v34M16 29v39M17 29v6M17 37v31M18 29v7M18 37v30M19 29v6M19 36v32M20 28v9M20 38v29M21 28v9M21 38v28M22 27v6M22 34v1M22 36v1M22 39v28M23 28v5M23 34v32M24 28v7M24 36v30M25 29v5M25 37v28M26 29v6M26 36v1M26 38v27M27 28v7M27 36v27M28 27v5M28 33v30M29 27v6M29 34v30M30 28v4M30 35v3M30 39v24M31 28v6M31 35v28M32 29v6M32 36v27M33 29v32M34 28v8M34 37v23M34 61v1M35 28v6M35 36v25M36 27v7M36 35v24M37 28v5M37 34v25M38 29v30M39 28v4M39 34v24M39 59v1M40 29v29M40 59v1M41 28v30M42 27v29M42 57v1M43 28v6M43 35v21M43 57v1M44 28v4M44 33v22M45 28v26M46 30v25M47 28v26M47 55v1M48 28v26M49 28v26M50 27v25M50 53v1M51 28v6M51 35v17M51 53v1M52 28v24M53 28v25M54 28v25M55 26v26M56 26v25M56 52v2M57 26v25M58 25v26M59 26v26M60 26v22M60 49v2M61 25v24M61 50v1M62 25v21M62 47v1M62 49v2M63 23v4M63 28v20M64 23v4M64 28v19M65 24v21M65 46v1M66 23v21M66 45v3M66 49v1M67 24v25M68 24v24M69 22v25M70 22v24M70 48v1M71 22v25M72 22v25M73 24v20M73 47v1M74 23v23M75 23v24M76 22v23M77 21v24M78 21v24M79 21v22M79 45v1M80 22v21M80 45v1M81 22v18M82 21v22M83 20v20M83 41v1M84 20v20M85 19v20M85 41v1M86 20v18M86 39v2M87 20v16M87 37v3M87 42v1M88 20v16M88 39v1M88 42v1M89 20v18M90 19v19M91 17v21M92 18v20M93 18v17M93 36v1M94 18v18M95 19v13M95 33v2M95 36v1M96 17v15M96 33v1M97 18v7M97 26v3M97 32v1M98 18v9M98 28v2M98 32v1M99 17v6M99 25v1" stroke="#704a9f"/>
<path d="M0 37v1M0 39v59M1 32v2M1 35v2M1 38v45M2 34v2M2 37v2M2 40v41M3 35v44M4 34v4M4 39v39M5 35v4M5 40v36M6 33v42M7 33v4M7 38v36M8 33v1M8 35v38M9 32v1M9 34v1M9 36v37M10 33v4M10 38v34M11 33v4M11 38v34M12 31v4M12 37v35M13 31v5M13 37v33M14 29v41M15 29v5M15 38v2M15 41v28M16 29v6M16 36v2M16 39v2M16 42v26M17 29v6M17 37v1M17 39v29M18 29v7M18 37v30M19 29v6M19 36v2M19 39v1M19 41v26M20 28v8M20 39v28M21 28v4M21 35v2M21 38v28M22 28v5M22 39v28M23 28v5M23 36v1M23 39v27M24 29v4M24 36v29M25 29v5M25 37v1M25 39v25M26 29v6M26 36v1M26 38v26M27 28v4M27 33v1M27 36v27M28 27v4M28 33v1M28 35v2M28 38v25M29 28v5M29 34v2M29 37v27M30 28v4M30 35v3M30 39v24M31 28v5M31 36v1M31 38v24M32 29v6M32 36v26M33 29v6M33 36v25M34 28v4M34 33v2M34 37v22M34 61v1M35 28v6M35 37v22M35 60v1M36 27v5M36 33v1M36 35v1M36 37v21M37 28v5M37 34v24M38 29v29M39 29v3M39 34v1M39 36v22M40 29v7M40 37v20M40 59v1M41 28v6M41 35v23M42 27v5M42 34v22M43 28v6M43 35v21M44 28v4M44 33v22M45 29v4M45 34v20M46 30v24M47 28v25M47 55v1M48 28v26M49 28v3M49 32v20M50 27v4M50 32v20M50 53v1M51 28v6M51 35v17M51 53v1M52 29v23M53 28v25M54 29v21M55 27v22M55 50v1M56 27v3M56 31v2M56 34v17M56 52v1M57 26v24M58 25v5M58 32v18M59 27v24M60 27v4M60 32v16M60 50v1M61 25v24M62 25v5M62 31v15M62 47v1M63 23v4M63 28v18M63 47v1M64 23v4M64 28v19M65 24v4M65 29v16M65 46v1M66 23v21M66 45v3M67 24v19M67 44v3M68 24v23M69 23v21M70 23v4M70 28v17M71 22v25M72 22v22M72 45v2M73 24v19M74 23v23M75 23v20M75 44v2M76 22v22M77 21v19M77 41v4M78 22v19M78 42v1M79 22v20M80 22v19M80 42v1M81 22v18M82 21v20M83 20v20M84 20v20M85 19v20M85 41v1M86 20v18M86 39v1M87 21v15M87 37v1M88 20v16M88 39v1M89 20v18M90 19v19M91 18v17M92 18v18M92 37v1M93 18v14M93 33v1M93 36v1M94 18v17M95 19v13M96 18v13M97 18v7M97 27v2M98 18v7M99 18v3M99 22v1M99 25v1" stroke="#8340a0"/>
<path d="M0 39v58M1 39v44M2 37v2M2 40v41M3 37v1M3 39v40M4 35v2M4 39v39M5 41v35M6 33v1M6 35v2M6 38v37M7 34v1M7 39v35M8 33v1M8 35v1M8 38v35M9 32v1M9 34v1M9 37v1M9 39v33M10 34v2M10 38v1M10 40v32M11 33v2M11 38v33M12 32v2M12 37v33M13 32v2M13 38v32M14 29v4M14 37v32M15 29v3M15 42v27M16 29v5M16 42v25M17 29v5M17 41v26M18 30v6M18 37v1M18 40v27M19 29v6M19 41v25M20 28v7M20 42v24M21 28v4M21 42v24M22 28v3M22 41v25M23 28v4M23 40v26M24 29v4M24 40v24M25 29v4M25 40v24M26 29v4M26 39v25M27 28v4M27 39v24M28 27v4M28 36v1M28 39v24M29 28v4M29 39v24M30 29v3M30 37v1M30 39v23M31 28v5M31 39v23M32 30v4M32 38v23M33 29v4M33 37v1M33 39v22M34 28v4M34 37v22M35 28v4M35 39v20M36 28v4M36 39v19M37 29v4M37 37v21M38 29v4M38 35v1M38 37v20M39 29v3M39 36v21M40 30v4M40 37v20M41 29v3M41 35v1M41 37v1M41 39v17M42 28v3M42 37v18M43 29v3M43 36v19M44 28v4M44 34v1M44 36v18M45 29v4M45 35v1M45 37v17M46 30v3M46 36v17M47 29v3M47 35v1M47 37v16M48 29v4M48 34v1M48 36v17M49 28v3M49 33v18M50 27v4M50 34v16M50 51v1M51 28v3M51 32v1M51 36v13M51 50v1M51 53v1M52 29v4M52 35v15M53 28v5M53 34v17M54 29v21M55 27v6M55 34v15M56 27v3M56 31v2M56 34v14M57 27v4M57 34v14M58 26v3M58 32v16M59 27v22M60 27v4M60 32v14M61 26v3M61 31v16M61 48v1M62 25v4M62 31v15M62 47v1M63 24v3M63 28v18M64 23v4M64 28v18M65 24v4M65 31v14M66 24v5M66 30v14M67 25v4M67 30v13M68 24v22M69 23v4M69 29v15M70 23v4M70 28v17M71 23v3M71 27v16M72 23v17M72 41v3M73 24v3M73 28v14M74 24v21M75 23v19M76 22v18M76 41v1M77 21v19M77 41v2M78 22v17M79 22v18M79 41v1M80 22v17M80 40v1M81 22v18M82 21v18M82 40v1M83 21v17M84 20v16M85 20v19M86 20v16M86 39v1M87 21v15M88 20v13M88 34v1M89 20v14M90 19v14M90 35v1M91 18v14M91 33v1M92 19v13M93 19v12M93 33v1M94 19v13M95 19v10M95 31v1M96 18v10M96 29v1M97 18v7M98 18v4M99 20v1M99 22v1" stroke="#943ba0"/>
<path d="M0 39v57M1 39v43M2 40v40M3 40v39M4 39v39M5 41v34M6 39v35M7 41v32M8 39v34M9 39v33M10 34v1M10 40v32M11 33v2M11 39v1M11 41v30M12 33v1M12 38v32M13 32v2M13 38v1M13 40v29M14 29v3M14 37v32M15 29v3M15 42v27M16 30v3M16 43v24M17 29v4M17 41v1M17 43v24M18 30v3M18 42v25M19 29v4M19 41v25M20 28v3M20 42v24M21 28v3M21 42v24M22 28v3M22 42v24M23 28v3M23 40v25M24 29v4M24 40v24M25 29v4M25 41v23M26 29v4M26 41v22M27 29v3M27 40v23M28 28v3M28 39v23M29 28v3M29 39v1M29 41v20M30 29v3M30 41v20M31 29v3M31 39v22M32 30v3M32 39v21M33 29v4M33 39v1M33 41v18M34 28v3M34 37v1M34 39v20M35 29v3M35 40v18M36 28v3M36 39v18M37 29v3M37 39v19M38 29v4M38 38v17M38 56v1M39 29v3M39 37v1M39 39v16M40 30v3M40 37v1M40 39v17M41 29v3M41 35v1M41 37v1M41 39v16M42 28v3M42 37v17M43 29v3M43 36v1M43 38v15M43 54v1M44 29v2M44 36v17M45 30v3M45 38v13M46 30v3M46 37v15M47 29v3M47 37v15M48 29v3M48 36v14M48 51v2M49 28v3M49 36v15M50 27v4M50 36v14M51 29v2M51 36v13M52 29v3M52 35v14M53 29v4M53 35v14M54 29v3M54 34v14M55 27v3M55 34v14M56 27v3M56 35v12M57 27v2M57 35v13M58 26v3M58 32v1M58 34v14M59 27v3M59 32v15M60 27v3M60 32v13M61 26v3M61 32v14M62 25v4M62 31v14M63 24v3M63 30v2M63 33v13M64 24v3M64 29v1M64 31v14M65 24v4M65 32v12M66 24v4M66 30v14M67 25v2M67 30v1M67 32v11M68 24v3M68 29v14M69 23v4M69 29v14M70 23v4M70 30v13M71 23v3M71 27v2M71 30v12M72 23v3M72 27v13M72 41v1M73 24v3M73 28v14M74 24v17M75 23v16M75 40v2M76 23v16M77 21v5M77 27v12M78 22v17M79 22v17M79 41v1M80 22v16M81 23v13M81 37v1M82 21v15M82 37v1M83 21v15M84 21v13M84 35v1M85 20v16M86 20v15M87 21v15M88 20v13M88 34v1M89 21v12M90 19v13M91 18v13M91 33v1M92 19v11M93 19v8M93 28v2M94 19v8M94 28v3M95 19v10M96 18v7M97 19v4M97 24v1M98 19v3M99 20v1M99 22v1" stroke="#a4379d"/>
<path d="M0 41v54M1 40v42M2 40v40M3 40v1M3 42v37M4 42v35M5 43v32M6 41v33M7 41v32M8 39v1M8 41v31M9 40v32M10 42v30M11 41v29M12 33v1M12 40v30M13 32v1M13 38v1M13 40v29M14 30v2M14 37v31M15 29v3M15 44v23M16 30v2M16 43v24M17 29v3M17 43v23M18 30v3M18 43v23M19 30v2M19 43v23M20 29v2M20 43v23M21 29v2M21 42v24M22 28v2M22 42v24M23 28v3M23 41v23M24 29v3M24 42v22M25 29v3M25 42v21M26 29v3M26 42v21M27 29v2M27 42v20M28 28v2M28 41v21M29 29v2M29 41v20M30 29v2M30 41v20M31 29v2M31 39v1M31 41v19M32 30v3M32 41v18M33 29v4M33 41v18M34 29v2M34 41v16M35 29v2M35 40v17M36 28v3M36 39v18M37 29v3M37 39v16M37 56v1M38 30v2M38 39v16M38 56v1M39 30v1M39 40v15M40 30v2M40 39v16M41 29v2M41 40v14M42 28v2M42 40v13M43 29v2M43 40v13M44 29v2M44 39v13M45 30v2M45 38v13M46 31v1M46 37v13M47 29v3M47 38v12M48 29v2M48 38v12M49 29v2M49 37v13M50 28v2M50 38v10M50 49v1M51 29v2M51 37v11M52 29v3M52 36v1M52 38v11M53 30v2M53 37v11M54 29v2M54 36v1M54 38v10M55 28v1M55 36v12M56 27v3M56 36v11M57 27v2M57 36v11M58 26v2M58 35v12M59 28v1M59 34v11M60 28v1M60 34v10M61 26v3M61 32v2M61 35v9M62 25v3M62 33v10M63 24v3M63 33v12M64 25v1M64 31v11M65 25v2M65 32v10M66 25v2M66 31v12M67 26v1M67 32v9M68 25v2M68 30v12M69 23v3M69 30v13M70 23v4M70 30v11M71 23v2M71 28v1M71 30v11M72 23v2M72 28v10M73 24v3M73 30v10M74 24v2M74 27v1M74 29v10M74 40v1M75 24v3M75 28v11M76 23v3M76 27v10M77 22v2M77 27v10M78 22v14M78 38v1M79 22v16M80 22v13M81 23v13M82 22v14M83 21v14M84 21v13M85 20v15M86 20v14M87 21v12M88 20v12M89 21v11M90 20v12M91 19v12M92 20v8M92 29v1M93 19v8M94 20v7M95 20v6M95 27v1M96 19v4M97 19v2" stroke="#b43693"/>
<path d="M0 44v50M1 42v39M2 41v39M3 42v36M4 42v35M5 43v32M6 41v1M6 43v31M7 41v32M8 41v31M9 42v30M10 42v29M11 42v28M12 41v28M13 41v28M14 40v28M15 30v2M15 44v23M16 30v2M16 44v22M17 30v2M17 43v23M18 31v1M18 43v23M19 31v1M19 43v23M20 29v2M20 43v22M21 29v2M21 43v22M22 28v2M22 43v21M23 29v1M23 42v22M24 31v1M24 42v21M25 30v1M25 42v21M26 29v2M26 42v20M27 30v1M27 42v19M28 28v2M28 41v20M29 29v1M29 41v20M30 29v2M30 42v18M31 30v1M31 42v17M32 31v1M32 42v17M33 30v1M33 42v16M34 29v1M34 41v15M35 29v1M35 41v15M36 28v2M36 40v16M37 30v1M37 41v14M38 41v14M39 30v1M39 41v13M40 31v1M40 40v13M41 30v1M41 40v13M42 29v1M42 40v12M43 29v2M43 40v12M44 29v1M44 40v10M45 38v12M46 31v1M46 39v10M47 30v1M47 38v11M48 30v1M48 40v9M49 29v1M49 39v9M50 39v9M51 38v10M52 39v9M53 39v8M54 30v1M54 36v1M54 38v8M55 38v8M56 28v1M56 37v10M57 36v1M57 38v6M58 27v1M58 36v8M59 35v9M60 28v1M60 36v7M61 35v8M62 26v2M62 35v7M63 24v2M63 36v6M64 34v8M65 26v1M65 33v9M66 25v1M66 32v8M66 41v1M67 26v1M67 33v8M68 25v1M68 32v9M69 32v8M70 24v1M70 31v8M71 31v7M72 23v1M72 30v8M73 25v2M73 31v7M74 24v2M74 29v8M75 24v1M75 30v7M76 24v1M76 29v7M77 22v1M77 28v8M78 22v2M78 27v8M79 23v12M80 23v10M81 24v2M81 27v7M82 23v10M82 34v1M83 21v2M83 25v7M84 21v2M84 24v7M84 32v1M85 20v3M85 24v8M86 21v10M86 32v1M87 22v8M88 21v9M88 31v1M89 21v8M89 30v1M90 20v9M91 19v9M92 20v2M92 23v5M93 20v6M94 20v4M95 20v3M95 24v1M96 22v1M97 19v1" stroke="#c13885"/>
<path d="M0 45v49M1 44v37M2 43v36M3 43v35M4 43v33M5 44v31M6 44v29M7 43v29M8 44v28M9 43v28M10 44v26M11 44v26M12 42v27M13 42v26M14 41v26M15 45v22M16 44v22M17 30v1M17 44v21M18 44v21M19 44v21M20 44v20M21 44v20M22 29v1M22 44v20M23 43v20M24 43v19M25 43v18M26 43v18M27 43v17M28 43v16M29 29v1M29 43v16M30 43v16M31 43v15M32 43v14M33 43v14M34 42v14M35 42v13M36 42v13M37 42v12M38 42v12M39 41v1M39 43v9M40 42v11M41 42v9M42 42v8M43 42v8M44 41v7M45 42v6M46 41v6M47 41v7M48 41v6M49 41v6M50 41v6M51 41v5M52 41v3M52 45v1M53 39v6M54 40v5M55 39v5M56 40v3M57 39v5M58 39v4M59 38v3M60 39v3M61 37v4M62 38v2M63 37v3M64 36v4M65 36v3M66 37v1M67 36v2M68 34v4M69 35v3M70 33v4M71 33v3M72 33v3M73 32v1M73 34v1M74 31v2M74 34v2M75 31v4M76 31v2M77 31v3M78 29v4M79 29v3M80 28v4M81 28v2M81 31v1M82 28v3M83 26v5M84 27v3M85 26v4M86 21v1M86 25v4M87 22v6M88 21v7M89 22v5M89 28v1M90 21v1M90 23v3M91 23v3M92 23v1M93 23v1" stroke="#cc406f"/>
<path d="M0 47v46M1 45v36M2 44v35M3 44v34M4 45v31M5 46v29M6 45v28M7 45v27M8 45v26M9 44v27M10 45v25M11 45v24M12 43v26M13 44v23M14 42v25M15 45v21M16 45v20M17 45v20M18 45v20M19 45v19M20 45v19M21 44v20M22 44v19M23 44v18M24 44v18M25 44v17M26 44v16M27 44v15M28 44v15M29 44v15M30 44v14M31 44v14M32 43v14M33 44v12M34 44v10M35 44v10M36 43v10M37 43v9M38 43v9M39 44v7M40 43v8M41 44v5M42 44v4M43 44v4M44 44v3M45 44v2M46 44v2M47 43v3M48 43v2M50 44v1M52 43v1M67 37v1M86 27v1M87 26v1M89 24v1" stroke="#d54959"/>
<path d="M0 48v44M1 46v34M2 46v33M3 45v32M4 46v30M5 47v27M6 46v27M7 46v26M8 46v25M9 46v24M10 46v24M11 45v24M12 46v22M13 45v22M14 44v22M15 46v20M16 46v19M17 45v19M18 46v18M19 45v18M20 45v18M21 45v18M22 45v17M23 45v17M24 45v16M25 45v15M26 45v14M27 45v14M28 45v12M29 44v13M30 45v12M31 45v11M32 45v11M33 45v9M34 46v7M35 45v7M36 45v7M37 46v4M38 45v1M38 47v1M38 49v1M39 46v2M40 46v2M41 45v2" stroke="#dd5342"/>
<path d="M0 49v42M1 48v32M2 47v32M3 46v31M4 47v28M5 48v26M6 47v25M7 48v23M8 48v22M9 47v23M10 47v22M11 47v21M12 47v20M13 46v20M14 46v19M15 47v18M16 46v18M17 46v18M18 46v17M19 46v17M20 46v16M21 46v16M22 46v14M23 46v14M24 46v13M25 47v12M26 46v12M27 46v12M28 46v10M29 46v9M30 47v8M31 48v4M32 48v4M33 48v1M33 50v1M34 48v2" stroke="#e45d2e"/>
<path d="M0 52v38M1 49v31M2 47v31M3 48v29M4 48v27M5 49v24M6 49v23M7 49v22M8 48v22M9 49v20M10 49v19M11 49v18M12 48v18M13 48v17M14 47v17M15 47v17M16 48v16M17 47v16M18 47v15M19 47v14M20 47v14M21 48v13M22 47v13M23 48v12M24 48v10M25 47v10M26 49v7M27 48v6M28 50v2M29 49v2M29 52v1" stroke="#e86621"/>
<path d="M0 53v36M1 51v28M2 50v28M3 48v28M4 50v24M5 51v22M6 50v21M7 51v19M8 51v18M9 51v18M10 51v17M11 51v16M12 50v16M13 50v14M14 49v14M15 49v15M16 48v15M17 48v14M18 48v13M19 49v11M20 48v12M21 49v10M22 49v8M23 49v2M23 52v4M24 51v4" stroke="#ed6f16"/>
<path d="M0 56v31M1 52v26M2 51v26M3 50v26M4 51v23M5 51v1M5 53v19M6 51v20M7 52v18M8 51v18M9 53v15M10 53v14M11 52v14M12 52v13M13 52v12M14 52v10M15 50v12M16 50v10M17 50v10M18 50v7M18 58v1M19 51v4M19 56v1M20 52v1M20 54v1" stroke="#f1770f"/>
<path d="M0 58v28M1 54v23M2 52v25M3 52v23M4 52v22M5 53v18M6 54v16M7 54v15M8 55v13M9 55v11M10 54v11M11 54v1M11 56v8M12 54v8M13 55v6M14 56v4M15 52v7M16 53v1M16 55v1" stroke="#f3800a"/>
<path d="M0 62v21M1 56v21M2 54v22M3 53v21M4 54v19M5 54v17M6 56v13M7 57v11M8 56v11M9 57v8M10 58v3M11 59v3M12 59v1" stroke="#f48b0b"/>
<path d="M0 64v1M0 66v1M0 69v3M0 73v1M0 76v1M1 58v17M2 56v19M3 54v20M4 56v16M5 58v12M6 58v10M7 59v1M7 61v5M8 59v1M8 61v2" stroke="#f5950c"/>
<path d="M1 62v1M1 64v9M2 58v16M3 56v17M4 58v13M5 60v7M5 68v1M6 62v1M6 64v2" stroke="#f6a00e"/>
<path d="M1 66v1M1 68v1M2 60v13M3 58v1M3 60v13M4 61v9M5 64v1" stroke="#f6ab0f"/>
<path d="M2 63v7M2 71v1M3 61v9M4 64v1" stroke="#f7b611"/>
<path d="M3 66v1" stroke="#f7c112"/>
</g>
<path d="M592.6 268H1032.1M675.2 66.3V452.4" stroke="#000" stroke-width="2.2" stroke-dasharray="11 7" fill="none"/>
</g>
<rect x="592.6" y="66.3" width="439.5" height="386.1" fill="none" stroke="#333" stroke-width="1.4"/>
<path d="M612.1 452.4v4M711.2 452.4v4M810.4 452.4v4M909.6 452.4v4M1008.7 452.4v4" stroke="#333" stroke-width="1.3" fill="none"/>
<text x="613.8" y="480.6" font-size="28" text-anchor="middle">0.00</text>
<text x="715.3" y="480.6" font-size="28" text-anchor="middle">0.25</text>
<text x="810.5" y="480.6" font-size="28" text-anchor="middle">0.50</text>
<text x="906.9" y="480.6" font-size="28" text-anchor="middle">0.75</text>
<text x="1007.1" y="480.6" font-size="28" text-anchor="middle">1</text>
<clipPath id="ca2"><rect x="1036.0" y="66.3" width="439.5" height="386.1"/></clipPath>
<g clip-path="url(#ca2)">
<path d="M1105.1 66.3V452.4M1204.2 66.3V452.4M1303.4 66.3V452.4M1402.5 66.3V452.4M1036.0 90.8H1475.5M1036.0 190.5H1475.5M1036.0 290.2H1475.5M1036.0 389.9H1475.5" stroke="#e3e3e3" stroke-width="1.3" fill="none"/>
<path d="M1055.5 66.3V452.4M1154.7 66.3V452.4M1253.8 66.3V452.4M1353.0 66.3V452.4M1452.1 66.3V452.4M1036.0 140.7H1475.5M1036.0 240.4H1475.5M1036.0 340.1H1475.5M1036.0 439.8H1475.5" stroke="#e3e3e3" stroke-width="2.4" fill="none"/>
<g transform="translate(1057.48 85.86) scale(3.966 3.335)" fill="none" stroke-width="1.03">
<path d="M0 27v1M0 30v74M1 28v1M1 30v58M2 30v56M3 25v1M3 28v56M4 25v1M4 28v55M4 84v1M5 19v1M5 27v2M5 30v49M5 84v1M6 24v1M6 26v53M7 21v2M7 26v53M8 24v1M8 27v1M8 29v51M9 27v1M9 29v50M9 80v1M10 28v2M10 31v47M11 28v49M12 23v1M12 26v1M12 29v46M12 76v1M13 29v45M13 75v1M14 28v48M15 27v46M16 28v1M16 30v42M16 77v1M17 27v1M17 29v43M17 73v1M18 28v1M18 31v41M18 73v1M18 78v1M19 22v1M19 27v44M19 72v2M20 23v1M20 25v1M20 28v44M20 74v1M21 18v1M21 20v2M21 25v1M21 29v43M22 16v1M22 25v1M22 28v1M22 30v42M22 76v1M23 24v1M23 28v1M23 31v38M23 70v1M24 28v1M24 30v1M24 32v39M25 29v41M26 28v1M26 30v40M27 29v38M27 68v2M28 25v2M28 28v42M29 29v38M29 70v2M30 31v36M31 28v40M32 20v1M32 22v1M32 25v1M32 27v1M32 30v1M32 32v36M33 28v38M33 67v2M34 27v40M35 23v1M35 29v39M36 28v35M36 64v2M37 30v36M37 70v1M38 28v1M38 32v33M38 66v1M39 28v38M40 27v37M40 65v1M40 67v1M40 69v1M41 19v1M41 27v1M41 29v36M42 28v36M42 65v2M43 25v1M43 29v1M43 31v34M43 66v1M44 27v36M44 65v2M45 20v1M45 28v1M45 30v35M46 29v35M46 66v1M47 25v1M47 29v33M47 63v3M48 28v33M48 62v1M48 64v1M49 26v1M49 28v34M50 18v1M50 28v32M50 61v2M50 68v1M51 27v36M52 27v1M52 29v31M53 28v32M54 23v2M54 27v1M54 29v32M55 20v1M55 25v1M55 27v35M55 63v1M56 20v1M56 26v1M56 29v34M57 23v1M57 25v1M57 27v34M58 25v1M58 27v1M58 29v30M58 64v1M59 21v2M59 26v1M59 28v31M60 24v1M60 28v27M60 56v2M60 61v1M61 19v2M61 25v34M62 25v33M62 59v2M63 22v3M63 26v32M63 59v2M64 22v1M64 25v1M64 27v33M65 20v2M65 24v4M65 29v30M66 23v1M66 26v1M66 28v27M66 62v1M67 24v35M68 16v1M68 23v1M68 25v32M69 22v1M69 25v30M69 56v1M69 60v1M70 22v1M70 24v32M71 23v30M71 54v2M72 21v1M72 23v34M73 21v1M73 23v1M73 25v29M73 55v2M73 58v1M74 20v1M74 25v26M74 52v1M74 56v2M75 23v31M75 55v3M76 17v1M76 24v30M76 55v1M77 12v1M77 20v1M77 23v27M77 51v3M77 55v1M78 13v1M78 22v1M78 24v30M78 56v1M79 15v1M79 19v1M79 21v1M79 23v27M79 51v2M79 60v1M80 22v32M80 55v1M81 23v29M81 54v1M82 14v1M82 21v33M83 10v1M83 18v1M83 20v31M83 52v1M83 54v1M84 21v24M84 46v5M84 52v3M85 12v1M85 15v1M85 21v31M86 16v1M86 20v1M86 22v31M87 14v4M87 21v26M87 48v3M87 53v1M88 13v1M88 16v1M88 20v31M89 17v1M89 21v28M89 50v1M90 17v1M90 19v1M90 21v24M90 46v2M91 15v1M91 18v1M91 20v25M91 46v4M92 9v1M92 15v1M92 21v28M93 8v1M93 19v29M94 13v1M94 15v1M94 20v22M94 43v2M94 46v2M95 13v1M95 17v1M95 19v27M96 18v19M96 38v2M96 42v1M96 45v1M97 3v1M97 12v1M97 16v26M97 45v1M98 16v2M98 19v19M98 40v1M98 45v1M99 13v2M99 17v18M99 36v2M99 39v1" stroke="#1e7c8e"/>
<path d="M0 30v73M1 31v57M2 30v1M2 32v52M3 30v52M3 83v1M4 30v51M5 27v1M5 30v49M6 26v1M6 28v50M7 28v51M8 29v48M8 78v1M9 29v49M10 29v1M10 32v44M10 77v1M11 29v1M11 31v46M12 29v46M13 30v44M14 30v44M15 28v1M15 30v42M16 32v40M17 30v42M18 28v1M18 32v39M19 28v2M19 31v40M20 28v1M20 30v1M20 32v39M21 30v1M21 32v36M21 69v2M22 28v1M22 30v42M23 31v38M24 28v1M24 30v1M24 32v38M25 30v37M26 28v1M26 30v40M27 30v37M28 28v2M28 31v37M28 69v1M29 32v35M30 31v1M30 33v34M31 30v2M31 33v32M31 66v1M32 30v1M32 33v31M32 66v2M33 28v1M33 31v35M33 67v1M34 30v37M35 29v38M36 29v2M36 32v31M36 64v2M37 30v34M37 65v1M38 28v1M38 32v30M38 63v2M39 28v1M39 30v1M39 32v33M40 30v34M41 27v1M41 29v36M42 29v34M43 31v32M44 31v32M44 66v1M45 28v1M45 30v31M45 62v1M45 64v1M46 31v1M46 33v31M47 29v33M47 63v1M48 29v1M48 31v29M49 29v30M49 60v1M50 29v31M50 61v1M51 28v1M51 31v31M52 29v30M53 29v31M54 29v30M54 60v1M55 25v1M55 27v32M56 29v29M56 60v1M57 28v31M58 25v1M58 27v1M58 29v26M58 56v3M59 28v29M59 58v1M60 28v27M61 26v32M62 28v27M62 56v2M62 59v1M63 26v32M63 60v1M64 28v30M65 26v1M65 29v26M65 56v2M66 26v1M66 28v26M67 25v33M68 23v1M68 26v29M69 25v28M70 22v1M70 25v31M71 24v29M71 54v1M72 24v3M72 28v24M72 53v3M73 25v29M73 55v1M74 26v25M74 52v1M75 24v28M75 53v1M76 24v28M77 24v26M77 52v1M77 55v1M78 24v29M79 19v1M79 24v26M79 51v1M80 24v30M81 23v25M81 54v1M82 22v25M82 48v3M82 52v2M83 23v28M84 21v24M84 46v5M84 54v1M85 21v26M85 48v2M85 51v1M86 20v1M86 22v26M86 50v1M87 21v26M87 49v2M88 20v26M88 48v1M89 21v23M89 45v4M90 19v1M90 21v24M90 46v1M91 18v1M91 20v25M91 46v1M92 21v24M92 47v1M93 20v23M93 47v1M94 20v22M94 43v2M95 19v23M95 45v1M96 18v19M96 38v2M96 42v1M97 17v1M97 19v17M97 37v2M97 40v1M98 16v1M98 19v19M99 14v1M99 17v18M99 36v2" stroke="#2a7491"/>
<path d="M0 30v73M1 31v57M2 30v1M2 32v52M3 30v52M3 83v1M4 30v51M5 27v1M5 30v49M6 26v1M6 28v50M7 28v51M8 29v48M8 78v1M9 29v49M10 29v1M10 32v44M10 77v1M11 29v1M11 31v46M12 29v46M13 30v44M14 30v44M15 28v1M15 30v42M16 32v40M17 30v42M18 28v1M18 32v39M19 28v2M19 31v40M20 28v1M20 30v1M20 32v39M21 30v1M21 32v36M21 69v2M22 28v1M22 30v42M23 31v38M24 28v1M24 30v1M24 32v38M25 30v37M26 28v1M26 30v40M27 30v37M28 28v2M28 31v37M28 69v1M29 32v35M30 31v1M30 33v34M31 30v2M31 33v32M31 66v1M32 30v1M32 33v31M32 66v2M33 28v1M33 31v35M33 67v1M34 30v37M35 29v38M36 29v2M36 32v31M36 64v2M37 30v34M37 65v1M38 28v1M38 32v30M38 63v2M39 28v1M39 30v1M39 32v33M40 30v34M41 27v1M41 29v36M42 29v34M43 31v32M44 31v32M44 66v1M45 28v1M45 30v31M45 62v1M45 64v1M46 31v1M46 33v31M47 29v33M47 63v1M48 29v1M48 31v29M49 29v30M49 60v1M50 29v31M50 61v1M51 28v1M51 31v31M52 29v30M53 29v31M54 29v30M54 60v1M55 25v1M55 27v32M56 29v29M56 60v1M57 28v31M58 25v1M58 27v1M58 29v26M58 56v3M59 28v29M59 58v1M60 28v27M61 26v32M62 28v27M62 56v2M62 59v1M63 26v32M63 60v1M64 28v30M65 26v1M65 29v26M65 56v2M66 26v1M66 28v26M67 25v33M68 23v1M68 26v29M69 25v28M70 22v1M70 25v31M71 24v29M71 54v1M72 24v3M72 28v24M72 53v3M73 25v29M73 55v1M74 26v25M74 52v1M75 24v28M75 53v1M76 24v28M77 24v26M77 52v1M77 55v1M78 24v29M79 19v1M79 24v26M79 51v1M80 24v30M81 23v25M81 54v1M82 22v25M82 48v3M82 52v2M83 23v28M84 21v24M84 46v5M84 54v1M85 21v26M85 48v2M85 51v1M86 20v1M86 22v26M86 50v1M87 21v26M87 49v2M88 20v26M88 48v1M89 21v23M89 45v4M90 19v1M90 21v24M90 46v1M91 18v1M91 20v25M91 46v1M92 21v24M92 47v1M93 20v23M93 47v1M94 20v22M94 43v2M95 19v23M95 45v1M96 18v19M96 38v2M96 42v1M97 17v1M97 19v17M97 37v2M97 40v1M98 16v1M98 19v19M99 14v1M99 17v18M99 36v2" stroke="#376b94"/>
<path d="M0 32v71M1 31v2M1 34v53M2 32v52M3 30v52M4 31v2M4 34v46M5 31v48M6 26v1M6 28v50M7 28v51M8 30v47M8 78v1M9 29v47M10 32v44M10 77v1M11 32v44M12 29v5M12 35v40M13 30v44M14 30v43M15 30v42M16 32v39M17 31v41M18 28v1M18 32v39M19 32v39M20 30v1M20 32v37M20 70v1M21 30v1M21 32v36M22 31v5M22 37v31M22 69v1M23 31v36M23 68v1M24 28v1M24 32v35M25 31v35M26 32v36M26 69v1M27 31v36M28 31v37M29 32v35M30 31v1M30 33v34M31 31v1M31 33v32M31 66v1M32 33v31M32 66v1M33 31v34M34 30v34M34 65v1M35 31v34M36 30v1M36 32v31M36 64v2M37 30v1M37 32v32M37 65v1M38 32v30M38 63v1M39 30v1M39 32v32M40 31v32M41 27v1M41 30v33M42 30v33M43 32v29M44 31v32M45 30v31M45 64v1M46 31v1M46 33v29M46 63v1M47 30v32M47 63v1M48 29v1M48 31v29M49 29v30M50 29v31M51 28v1M51 32v29M52 31v28M53 30v29M54 29v1M54 31v27M54 60v1M55 28v31M56 29v27M56 57v1M57 28v27M58 29v26M58 56v3M59 28v25M59 54v3M59 58v1M60 28v1M60 30v25M61 26v29M62 28v27M62 56v1M63 26v32M64 28v26M64 56v1M65 29v26M65 56v2M66 26v1M66 28v26M67 26v26M67 53v1M68 27v28M69 26v27M70 22v1M70 25v30M71 24v2M71 27v26M71 54v1M72 24v3M72 28v24M72 54v1M73 26v25M73 52v1M73 55v1M74 26v25M74 52v1M75 24v28M75 53v1M76 24v28M77 25v25M77 52v1M78 25v26M79 26v23M80 24v23M80 48v3M81 23v1M81 25v23M82 22v25M82 48v1M83 23v27M84 21v2M84 24v21M84 46v5M85 22v24M85 48v2M86 22v24M87 23v23M88 21v21M88 43v1M88 45v1M89 21v23M89 45v4M90 19v1M90 21v22M90 46v1M91 21v23M91 46v1M92 22v19M92 42v3M92 47v1M93 21v20M93 42v1M94 20v20M94 41v1M94 43v1M95 21v21M96 19v17M96 38v2M97 19v17M97 37v2M98 19v15M98 35v2M99 17v1M99 20v15M99 36v1" stroke="#496199"/>
<path d="M0 32v70M1 31v2M1 34v53M2 33v51M3 30v52M4 31v2M4 34v46M5 31v48M6 29v49M7 29v48M8 30v47M8 78v1M9 29v47M10 32v1M10 34v42M11 33v2M11 36v39M12 29v5M12 35v40M13 30v1M13 32v42M14 31v42M15 30v5M15 36v36M16 33v4M16 38v33M17 32v39M18 32v39M19 32v37M19 70v1M20 30v1M20 32v4M20 37v32M20 70v1M21 30v1M21 32v2M21 35v1M21 38v30M22 31v5M22 37v31M23 32v35M23 68v1M24 33v34M25 32v34M26 33v3M26 37v31M27 32v3M27 36v29M28 31v36M29 32v3M29 36v31M30 33v31M30 65v1M31 33v3M31 37v28M31 66v1M32 33v2M32 36v27M32 66v1M33 31v34M34 31v3M34 35v29M35 32v33M36 30v1M36 32v31M37 32v32M38 32v30M39 30v1M39 32v32M40 32v30M41 30v32M42 30v32M43 32v29M44 31v30M45 32v28M46 31v1M46 33v28M46 63v1M47 31v30M48 31v29M49 30v29M50 29v1M50 31v26M50 58v1M51 32v26M51 60v1M52 31v28M53 31v2M53 34v25M54 31v27M54 60v1M55 28v31M56 29v27M56 57v1M57 28v27M58 29v26M58 56v1M58 58v1M59 29v24M59 54v3M60 30v22M60 53v2M61 27v28M62 28v27M62 56v1M63 27v29M64 28v4M64 33v21M65 29v26M65 57v1M66 26v1M66 29v24M67 27v25M68 27v3M68 31v23M69 26v24M69 51v2M70 25v27M70 54v1M71 27v25M71 54v1M72 26v1M72 28v22M72 51v1M73 28v22M74 26v24M74 52v1M75 24v23M75 48v4M75 53v1M76 24v27M77 25v23M77 52v1M78 25v25M79 26v23M80 26v21M80 48v2M81 25v22M82 23v24M82 48v1M83 23v25M83 49v1M84 22v1M84 24v21M84 46v2M85 22v24M86 22v22M86 45v1M87 25v21M88 22v20M88 43v1M88 45v1M89 22v22M89 45v4M90 21v22M91 21v20M91 42v2M92 22v19M92 42v2M92 47v1M93 21v20M94 21v17M94 39v1M94 43v1M95 21v18M95 40v1M96 19v17M96 38v2M97 19v1M97 21v14M98 19v4M98 24v4M98 29v5M98 35v2M99 17v1M99 20v3M99 25v2M99 28v6M99 36v1" stroke="#5c569d"/>
<path d="M0 33v2M0 38v1M0 40v62M1 34v52M2 33v51M3 33v1M3 35v47M4 31v2M4 34v46M5 32v3M5 36v43M6 29v3M6 33v45M7 29v4M7 35v42M8 30v1M8 32v3M8 36v41M9 31v3M9 35v41M10 32v1M10 34v2M10 37v38M11 33v1M11 37v38M12 30v2M12 33v1M12 35v2M12 38v36M13 32v40M14 31v3M14 35v38M15 33v2M15 36v36M16 35v1M16 38v33M17 32v1M17 34v37M18 33v1M18 35v2M18 38v33M19 33v4M19 38v31M20 30v1M20 32v2M20 37v31M21 32v2M21 38v30M22 32v3M22 37v31M23 32v1M23 34v1M23 36v30M23 68v1M24 33v33M25 32v4M25 37v29M26 34v2M26 37v29M26 67v1M27 32v1M27 37v28M28 31v2M28 34v33M29 32v3M29 36v29M30 34v2M30 37v27M30 65v1M31 33v3M31 37v28M32 34v1M32 36v27M33 31v34M34 31v3M34 36v28M35 32v31M35 64v1M36 32v31M37 33v30M38 34v27M39 32v31M40 33v1M40 35v27M41 32v28M41 61v1M42 31v28M43 33v2M43 37v24M44 32v27M44 60v1M45 33v26M46 31v1M46 33v26M46 60v1M47 31v28M48 31v3M48 35v23M48 59v1M49 33v25M50 29v1M50 31v4M50 36v21M51 33v24M52 31v25M52 58v1M53 31v2M53 34v21M53 56v1M54 31v25M54 57v1M55 30v29M56 29v1M56 31v24M57 32v23M58 30v22M58 53v2M59 31v22M59 55v1M60 30v22M60 53v2M61 28v1M61 30v2M61 33v21M62 28v26M63 28v26M64 28v3M64 33v19M64 53v1M65 29v1M65 31v1M65 33v20M66 29v23M67 27v2M67 31v19M68 27v3M68 31v19M68 51v1M69 28v22M69 52v1M70 26v24M70 51v1M71 27v23M72 26v1M72 28v22M72 51v1M73 28v22M74 27v20M74 48v1M75 27v1M75 29v18M75 48v1M76 24v1M76 26v1M76 28v19M76 49v2M77 25v23M78 26v21M78 49v1M79 26v22M80 26v2M80 30v16M80 48v1M81 25v20M81 46v1M82 23v3M82 27v18M83 23v24M83 49v1M84 22v1M84 24v21M85 23v19M85 43v3M86 22v22M87 25v2M87 28v18M88 22v1M88 24v18M88 45v1M89 22v3M89 26v18M89 47v1M90 21v2M90 24v19M91 21v18M91 40v1M91 43v1M92 22v17M92 40v1M92 43v1M93 23v18M94 22v16M94 39v1M95 22v3M95 26v9M95 36v1M96 20v8M96 29v5M96 35v1M96 38v1M97 21v3M97 25v8M97 34v1M98 20v2M98 24v2M98 27v1M98 29v1M98 32v1M98 35v1M99 20v3M99 25v2M99 31v1" stroke="#704a9f"/>
<path d="M0 33v2M0 38v1M0 40v61M1 34v2M1 38v47M2 33v3M2 37v47M3 33v1M3 35v47M4 31v2M4 34v1M4 36v44M5 32v1M5 37v42M6 30v2M6 33v45M7 30v3M7 36v41M8 32v1M8 36v41M9 35v1M9 37v39M10 34v2M10 37v38M11 33v1M11 37v38M12 33v1M12 35v1M12 38v36M13 32v2M13 36v36M14 31v2M14 36v1M14 38v34M15 36v2M15 39v31M16 39v31M17 32v1M17 34v1M17 38v32M18 33v1M18 38v31M19 33v1M19 36v1M19 38v31M20 30v1M20 32v2M20 37v31M21 32v2M21 38v30M22 32v3M22 38v29M23 34v1M23 36v30M24 33v1M24 37v1M24 39v26M25 38v27M26 34v2M26 38v28M27 32v1M27 37v28M28 31v2M28 35v29M28 65v1M29 33v2M29 36v1M29 38v26M30 34v1M30 37v27M31 33v1M31 35v1M31 37v27M32 37v25M33 31v1M33 33v1M33 35v28M34 32v1M34 37v25M34 63v1M35 32v31M36 32v5M36 38v23M36 62v1M37 33v2M37 36v26M38 34v27M39 33v3M39 37v25M40 37v25M41 32v2M41 35v25M42 31v2M42 35v23M43 33v2M43 37v23M44 32v3M44 36v23M45 33v3M45 37v21M46 34v1M46 37v19M46 57v1M47 31v1M47 33v26M48 32v1M48 35v22M49 33v25M50 31v1M50 33v1M50 36v19M50 56v1M51 33v2M51 36v20M52 32v24M53 31v1M53 35v20M54 32v1M54 34v21M55 30v1M55 32v1M55 34v23M56 31v24M57 32v3M57 36v18M58 30v3M58 35v17M58 53v2M59 31v2M59 34v19M60 30v1M60 32v20M60 53v1M61 30v1M61 33v21M62 29v5M62 35v15M62 51v2M63 28v24M63 53v1M64 28v2M64 33v19M65 29v1M65 33v20M66 29v20M66 50v1M67 28v1M67 32v18M68 28v2M68 31v18M69 28v22M70 26v1M70 28v1M70 30v20M70 51v1M71 28v21M72 28v21M72 51v1M73 28v21M74 27v4M74 32v15M74 48v1M75 29v2M75 32v15M75 48v1M76 26v1M76 28v19M76 50v1M77 25v3M77 29v17M78 26v17M78 44v2M79 26v2M79 29v18M80 27v1M80 30v16M80 48v1M81 26v17M81 44v1M82 24v2M82 28v17M83 26v20M84 25v18M85 23v2M85 26v16M85 43v1M86 25v17M87 25v2M87 28v15M87 44v1M88 24v3M88 28v13M89 23v1M89 26v1M89 28v13M90 21v2M90 24v15M90 40v2M91 21v1M91 23v2M91 26v12M92 22v1M92 24v15M92 40v1M93 23v2M93 27v10M93 39v1M94 23v2M94 26v1M94 28v8M94 39v1M95 23v1M95 27v7M95 36v1M96 20v1M96 22v4M96 27v1M96 29v5M96 35v1M96 38v1M97 21v3M97 28v1M97 30v2M98 21v1M98 27v1M98 29v1M99 20v1M99 25v1" stroke="#8340a0"/>
<path d="M0 40v60M1 39v46M2 35v1M2 37v47M3 37v45M4 37v42M5 39v40M6 36v41M7 37v40M8 32v1M8 36v1M8 39v38M9 37v39M10 35v1M10 37v1M10 39v36M11 39v35M12 33v1M12 39v35M13 32v2M13 38v34M14 38v33M15 39v31M16 39v31M17 34v1M17 38v32M18 40v28M19 38v1M19 40v28M20 33v1M20 38v30M21 38v2M21 41v26M22 41v25M23 39v26M24 40v25M25 40v24M26 38v1M26 40v26M27 38v27M28 36v28M29 38v1M29 40v23M30 40v24M31 39v23M32 37v1M32 40v22M33 33v1M33 35v2M33 38v23M33 62v1M34 32v1M34 37v23M35 33v1M35 35v26M36 38v22M37 36v2M37 39v22M38 34v1M38 39v22M39 34v1M39 37v24M40 37v21M40 59v1M41 35v24M42 37v21M43 38v21M44 36v21M45 37v20M46 34v1M46 38v18M46 57v1M47 35v1M47 37v21M48 37v19M49 33v2M49 37v19M50 31v1M50 33v1M50 36v19M50 56v1M51 33v1M51 38v17M52 33v2M52 37v17M53 37v18M54 35v1M54 37v16M55 34v1M55 36v19M56 33v1M56 35v20M57 32v2M57 37v17M58 30v1M58 35v17M59 32v1M59 36v17M60 34v2M60 37v14M61 34v18M62 35v15M63 29v3M63 33v16M64 34v17M65 35v13M65 49v1M66 29v1M66 32v1M66 34v15M66 50v1M67 33v15M68 31v1M68 34v14M69 32v16M69 49v1M70 31v18M71 32v15M72 28v1M72 31v14M72 46v1M73 32v14M73 47v1M74 34v13M75 30v1M75 32v14M76 29v1M76 31v15M77 30v15M78 26v2M78 30v13M78 44v1M79 26v2M79 29v1M79 31v13M79 45v1M80 30v9M80 40v4M80 45v1M81 30v2M81 33v6M81 40v3M82 30v13M82 44v1M83 26v1M83 28v13M83 45v1M84 28v1M84 30v12M85 28v12M85 43v1M86 25v2M86 29v12M87 26v1M87 28v10M87 40v1M87 42v1M87 44v1M88 29v1M88 31v8M89 26v1M89 29v10M90 25v3M90 29v9M91 28v4M91 33v1M91 36v1M92 24v1M92 27v8M92 37v2M93 28v3M93 32v3M94 23v1M94 28v1M94 31v3M95 29v1M95 31v1M95 33v1M95 36v1M96 27v1M96 29v3M98 21v1M99 20v1" stroke="#943ba0"/>
<path d="M0 40v2M0 43v57M1 39v46M2 38v46M3 39v42M4 38v41M5 39v39M6 37v40M7 38v39M8 39v37M9 38v38M10 41v34M11 39v2M11 42v32M12 39v34M13 38v1M13 40v31M14 39v31M15 39v31M16 39v1M16 41v29M17 41v28M18 40v28M19 40v27M20 39v29M21 41v26M22 41v24M23 40v2M23 43v22M24 41v24M25 40v24M26 38v1M26 40v25M27 39v25M28 41v21M28 63v1M29 40v23M30 41v21M31 40v22M32 41v21M33 39v22M33 62v1M34 39v21M35 38v23M36 39v21M37 39v20M38 39v21M39 39v20M40 37v2M40 40v18M41 37v21M42 37v1M42 39v17M42 57v1M43 38v1M43 40v17M44 38v19M45 37v1M45 40v16M46 38v1M46 40v16M47 35v1M47 38v18M48 37v18M49 40v15M50 39v16M51 38v15M51 54v1M52 37v2M52 40v11M52 52v2M53 37v14M54 39v14M55 36v1M55 38v15M56 36v16M57 37v15M58 35v17M59 36v1M59 38v12M59 51v1M60 35v1M60 37v13M61 35v15M61 51v1M62 35v1M62 37v13M63 36v12M64 36v11M64 48v1M65 35v13M65 49v1M66 34v14M67 34v14M68 35v12M69 33v14M70 34v12M71 32v1M71 34v13M72 33v1M72 35v10M73 33v13M73 47v1M74 34v12M75 32v12M76 31v13M77 30v1M77 32v1M77 34v10M78 31v12M78 44v1M79 31v1M79 33v9M80 31v8M80 40v3M81 31v1M81 33v2M81 36v3M81 41v2M82 30v9M82 40v2M82 44v1M83 29v11M84 31v8M85 29v9M85 39v1M86 30v6M86 37v1M87 30v6M87 37v1M88 31v1M88 37v2M89 29v7M89 37v1M90 29v1M90 31v3M90 35v1M90 37v1M91 29v3M91 33v1M91 36v1M92 27v2M92 32v1M93 30v1M93 32v1M93 34v1M94 33v1M95 33v1" stroke="#a4379d"/>
<path d="M0 43v56M1 41v44M2 40v43M3 40v41M4 40v39M5 39v39M6 38v39M7 39v37M8 40v35M9 41v34M10 42v33M11 42v31M12 40v32M13 41v30M14 40v30M15 41v28M16 43v25M16 69v1M17 42v25M18 42v26M19 41v1M19 43v24M20 39v1M20 42v23M21 42v24M22 42v23M23 41v1M23 43v21M24 42v22M25 43v19M26 41v23M27 40v22M28 41v21M29 41v22M30 41v20M31 41v20M32 41v19M33 40v19M34 41v19M35 40v20M36 40v19M37 41v18M38 39v1M38 42v17M39 39v19M40 40v18M41 39v18M42 39v17M43 40v15M44 39v1M44 41v15M45 42v13M46 41v13M47 38v1M47 40v15M48 40v15M49 40v12M50 40v14M51 40v13M52 38v1M52 40v11M53 39v12M54 39v1M54 41v9M55 39v10M55 51v1M56 38v12M57 38v11M58 39v10M59 40v10M60 38v11M61 37v1M61 39v8M61 48v1M62 37v10M62 48v1M63 36v11M64 38v8M65 36v9M65 46v1M66 37v9M66 47v1M67 35v10M68 35v1M68 37v9M69 36v8M70 35v1M70 37v7M71 36v8M71 46v1M72 33v1M72 36v8M73 37v5M74 35v6M74 42v1M75 35v5M75 41v1M76 34v3M76 38v3M77 32v1M77 34v6M78 33v2M78 36v4M79 34v1M79 36v5M80 33v2M80 36v1M80 38v1M81 31v1M81 34v1M81 36v1M81 38v1M82 31v1M82 34v3M83 31v6M83 38v1M84 31v7M85 33v3M85 37v1M86 31v1M86 35v1M89 30v1M90 32v1M91 29v1M91 31v1" stroke="#b43693"/>
<path d="M0 44v54M1 41v44M2 41v42M3 40v41M4 41v38M5 40v38M6 39v37M7 41v35M8 41v34M9 41v34M10 42v32M11 42v31M12 41v31M13 42v29M14 42v28M15 41v1M15 43v26M16 43v25M17 43v24M18 44v23M19 43v24M20 43v22M21 43v22M22 44v20M23 44v20M24 44v19M25 44v18M26 42v20M27 42v20M28 42v19M29 42v20M30 43v18M31 43v17M32 42v17M33 41v18M34 41v18M35 42v16M36 42v16M37 42v15M38 42v15M39 41v17M40 41v15M41 40v15M42 41v14M43 42v12M44 42v13M45 42v11M45 54v1M46 41v12M47 42v10M47 53v1M48 41v1M48 43v8M48 53v1M49 41v11M50 42v8M51 42v8M52 42v8M53 41v7M53 49v1M54 39v1M54 42v8M55 40v1M55 42v7M56 41v6M57 40v8M58 40v6M58 47v1M59 40v6M60 38v2M60 41v5M60 47v1M61 39v3M61 43v3M61 48v1M62 39v4M62 44v1M63 38v3M63 42v2M64 38v4M65 40v1M65 42v1M66 40v1M66 43v1M67 40v3M68 40v2M69 38v2M69 41v1M70 39v1M70 41v1M71 36v2M72 38v1M72 40v3M73 40v2M74 36v2M75 39v1M76 34v1M76 36v1M77 38v1M78 36v1M79 37v1M82 35v1M83 36v1M85 34v1" stroke="#c13885"/>
<path d="M0 46v51M1 43v41M2 43v39M3 42v38M4 42v36M5 42v35M6 42v34M7 42v33M8 43v32M9 43v31M10 44v29M11 44v28M12 43v28M13 44v26M14 44v25M15 44v24M16 45v22M17 45v22M18 45v21M19 45v20M20 45v19M21 44v19M22 45v18M23 45v17M24 45v16M25 44v17M26 44v17M27 44v17M28 44v16M29 44v16M30 44v15M31 44v15M32 44v15M33 44v14M34 43v15M35 43v14M36 43v14M37 43v13M38 44v12M39 44v11M40 44v11M41 44v10M42 44v9M43 45v8M44 44v8M45 44v1M45 46v5M46 45v6M47 43v6M48 45v3M49 43v1M49 46v2M51 45v1M52 44v1M52 47v1M54 43v1M56 43v1" stroke="#cc406f"/>
<path d="M0 47v49M1 44v40M2 44v38M3 43v37M4 43v35M5 44v33M6 43v33M7 43v32M8 44v30M9 44v30M10 45v28M11 45v27M12 45v26M13 45v24M14 45v23M15 46v21M16 46v21M17 47v18M18 47v18M19 47v17M20 47v17M21 46v16M22 48v14M23 47v14M24 47v13M25 47v13M26 47v12M27 46v13M28 46v13M29 46v13M30 47v12M31 46v12M32 45v12M33 46v11M34 45v11M35 45v11M36 45v10M37 46v8M38 46v7M39 45v8M40 45v7M41 47v2M41 51v1M42 49v2M43 47v2M44 46v1" stroke="#d54959"/>
<path d="M0 49v46M1 45v38M2 44v38M3 45v35M4 45v33M5 44v32M6 44v31M7 45v30M8 46v28M9 46v27M10 47v25M11 47v24M12 46v24M13 47v22M14 46v22M15 48v18M16 48v18M17 48v17M18 49v15M19 48v14M20 48v14M21 48v13M22 48v12M23 49v11M24 48v11M25 50v9M26 49v10M27 48v9M28 49v8M29 50v7M30 49v8M31 48v6M31 55v1M32 49v4M33 48v5M34 49v1M34 52v2M35 49v1M35 52v1M36 49v3M37 49v1" stroke="#dd5342"/>
<path d="M0 50v44M1 46v37M2 46v35M3 46v33M4 46v31M5 46v30M6 46v29M7 47v27M8 47v26M9 48v25M10 48v23M11 49v21M12 49v20M13 49v19M14 48v19M15 49v17M16 50v15M17 50v14M18 50v13M19 50v12M20 50v10M21 50v10M22 51v8M23 51v7M24 50v1M24 52v6M25 52v5M26 52v5M27 53v2M28 51v4M29 53v1M30 54v1" stroke="#e45d2e"/>
<path d="M0 52v41M1 48v34M2 47v34M3 46v33M4 47v30M5 48v27M6 48v26M7 48v25M8 49v24M9 49v23M10 50v21M11 50v20M12 51v17M13 51v16M14 51v15M15 51v14M16 52v12M17 51v12M18 52v10M19 53v6M20 53v6M21 54v4M22 55v3M23 54v1M23 56v1" stroke="#e86621"/>
<path d="M0 54v37M1 50v32M2 48v32M3 49v30M4 49v27M5 49v26M6 49v24M7 50v23M8 51v21M9 51v20M10 52v18M11 52v17M12 52v15M13 53v13M14 53v12M15 54v9M16 54v8M17 54v7M18 55v4M19 56v2" stroke="#ed6f16"/>
<path d="M0 56v34M1 51v31M2 50v30M3 50v28M4 50v26M5 51v23M6 52v21M7 51v1M7 53v19M8 53v18M9 53v17M10 55v13M11 55v12M12 56v10M13 56v9M14 56v7M15 57v2M15 60v2" stroke="#f1770f"/>
<path d="M0 59v29M1 53v28M2 51v29M3 52v25M4 52v23M5 54v19M6 54v18M7 55v16M8 54v1M8 56v14M9 55v1M9 57v11M10 56v11M11 57v8M12 58v3M12 62v2M13 58v1" stroke="#f3800a"/>
<path d="M0 62v22M1 54v26M2 53v26M3 53v24M4 55v19M5 56v17M6 57v14M7 57v13M8 58v2M8 61v6M9 58v1M9 60v4M9 65v1" stroke="#f48b0b"/>
<path d="M0 66v1M0 68v1M0 71v2M0 74v4M1 56v23M2 55v23M3 55v21M4 56v18M5 58v12M5 71v1M6 58v11M7 60v2M7 63v4M8 61v1M8 63v1" stroke="#f5950c"/>
<path d="M1 58v20M2 56v22M3 56v19M4 60v12M5 61v8M7 63v1" stroke="#f6a00e"/>
<path d="M1 60v16M2 57v19M3 59v14M4 61v1M4 63v7" stroke="#f6ab0f"/>
<path d="M1 63v10M2 60v15M3 62v1M3 64v1M3 66v4M3 71v1" stroke="#f7b611"/>
<path d="M2 63v10" stroke="#f7c112"/>
</g>
<path d="M1036.0 268H1475.5M1119.0 66.3V452.4" stroke="#000" stroke-width="2.2" stroke-dasharray="11 7" fill="none"/>
</g>
<rect x="1036.0" y="66.3" width="439.5" height="386.1" fill="none" stroke="#333" stroke-width="1.4"/>
<path d="M1055.5 452.4v4M1154.7 452.4v4M1253.8 452.4v4M1353.0 452.4v4M1452.1 452.4v4" stroke="#333" stroke-width="1.3" fill="none"/>
<text x="1065.0" y="480.6" font-size="28" text-anchor="middle">0.00</text>
<text x="1165.3" y="480.6" font-size="28" text-anchor="middle">0.25</text>
<text x="1261.0" y="480.6" font-size="28" text-anchor="middle">0.50</text>
<text x="1354.4" y="480.6" font-size="28" text-anchor="middle">0.75</text>
<text x="1447.1" y="480.6" font-size="28" text-anchor="middle">1</text>
<clipPath id="ca3"><rect x="1479.6" y="66.3" width="439.5" height="386.1"/></clipPath>
<g clip-path="url(#ca3)">
<path d="M1548.7 66.3V452.4M1647.8 66.3V452.4M1747.0 66.3V452.4M1846.1 66.3V452.4M1479.6 90.8H1919.1M1479.6 190.5H1919.1M1479.6 290.2H1919.1M1479.6 389.9H1919.1" stroke="#e3e3e3" stroke-width="1.3" fill="none"/>
<path d="M1499.1 66.3V452.4M1598.2 66.3V452.4M1697.4 66.3V452.4M1796.5 66.3V452.4M1895.7 66.3V452.4M1479.6 140.7H1919.1M1479.6 240.4H1919.1M1479.6 340.1H1919.1M1479.6 439.8H1919.1" stroke="#e3e3e3" stroke-width="2.4" fill="none"/>
<g transform="translate(1501.08 85.86) scale(3.966 3.335)" fill="none" stroke-width="1.03">
<path d="M0 36v67M1 31v52M2 15v1M2 28v1M2 32v48M3 29v50M4 29v49M4 80v1M5 27v1M5 31v48M6 28v1M6 30v48M7 25v2M7 28v1M7 31v47M8 27v1M8 31v44M8 76v1M9 29v45M10 30v1M10 32v41M11 26v1M11 28v1M11 30v42M12 24v1M12 27v2M12 30v40M13 31v39M13 71v1M14 23v1M14 26v1M14 29v41M15 25v1M15 27v1M15 31v36M15 73v1M16 25v1M16 31v37M16 69v1M17 32v36M18 31v37M19 30v2M19 33v34M20 28v1M20 31v35M21 21v1M21 26v1M21 31v1M21 33v31M21 65v1M22 30v1M22 32v33M22 67v1M23 28v1M23 31v33M24 32v32M24 67v1M25 27v1M25 30v34M26 17v1M26 26v1M26 29v1M26 31v32M26 64v1M27 32v32M27 65v1M28 33v30M28 64v1M29 31v1M29 34v28M29 63v1M30 32v2M30 35v28M31 33v30M32 23v1M32 33v29M33 28v1M33 32v28M33 61v1M33 64v1M34 25v1M34 27v1M34 29v30M34 60v1M35 32v29M35 62v1M35 64v1M36 29v1M36 32v1M36 34v27M37 28v1M37 32v28M38 21v1M38 30v28M38 60v2M39 19v1M39 28v1M39 30v27M39 58v1M39 65v1M40 29v1M40 31v26M41 24v1M41 29v1M41 31v26M42 31v28M43 32v26M44 21v1M44 28v1M44 31v25M44 57v1M45 26v1M45 30v1M45 32v24M46 17v1M46 30v26M47 25v1M47 28v26M47 55v1M48 27v1M48 29v29M49 27v30M49 58v1M49 65v1M50 20v1M50 28v2M50 31v24M51 24v1M51 27v1M51 29v1M51 31v21M51 53v3M52 22v1M52 25v1M52 27v1M52 30v26M53 26v1M53 29v25M53 55v1M54 23v1M54 29v26M54 56v1M55 24v2M55 28v2M55 31v20M55 52v1M55 55v1M56 29v1M56 31v21M56 60v1M57 24v1M57 28v1M57 30v21M58 22v1M58 29v25M59 28v26M60 26v1M60 28v27M61 13v1M61 28v25M62 25v1M62 28v23M62 53v1M63 23v1M63 28v24M63 53v1M64 17v1M64 23v1M64 25v29M65 29v22M66 21v1M66 25v1M66 27v24M67 28v22M68 25v1M68 28v24M69 23v1M69 26v24M70 14v1M70 23v2M70 26v25M71 26v24M72 19v1M72 25v1M72 28v23M73 19v1M73 26v21M73 49v1M73 53v1M74 19v1M74 26v23M75 25v21M75 48v2M76 16v1M76 21v2M76 27v21M77 25v22M77 49v2M78 20v1M78 23v1M78 26v23M79 22v1M79 27v22M80 14v2M80 26v22M80 49v1M81 25v1M81 27v19M82 24v20M83 19v1M83 21v1M83 23v22M84 23v1M84 25v19M84 45v2M85 23v1M85 25v21M86 16v1M86 19v2M86 26v17M86 44v2M87 23v1M87 25v18M87 44v1M87 46v1M88 25v19M89 17v1M89 20v1M89 26v19M90 25v17M90 44v1M91 18v1M91 21v1M91 23v1M91 25v15M91 41v1M92 25v1M92 27v16M93 27v12M94 21v1M94 23v1M94 27v13M95 21v1M95 26v3M95 30v9M95 42v1M96 17v1M96 22v1M96 26v13M97 19v1M97 26v10M97 37v2M99 25v1M99 27v1" stroke="#1e7c8e"/>
<path d="M0 38v64M1 33v1M1 35v46M1 82v1M2 33v47M3 30v48M4 31v47M5 31v47M6 30v47M7 31v45M8 31v43M9 30v44M10 32v40M11 31v41M12 28v1M12 31v39M13 31v39M14 29v1M14 31v38M15 31v36M16 33v33M17 32v35M18 31v1M18 33v31M19 30v1M19 33v33M20 31v35M21 33v31M22 32v32M23 31v1M23 34v30M24 33v31M25 27v1M25 30v2M25 34v30M26 32v1M26 34v29M27 32v31M28 33v28M28 62v1M29 31v1M29 34v27M30 32v1M30 35v24M30 60v1M31 33v29M32 33v26M32 60v2M33 33v27M34 32v27M34 60v1M35 33v27M36 34v25M37 32v26M37 59v1M38 31v27M38 60v1M39 32v25M39 58v1M40 31v26M41 31v26M42 31v27M43 32v25M44 31v1M44 33v23M45 32v22M46 30v22M46 53v2M47 29v1M47 31v23M47 55v1M48 29v23M48 54v2M49 31v21M49 53v1M49 55v1M50 31v23M51 31v21M51 54v1M52 30v25M53 29v25M54 29v22M54 52v2M55 28v2M55 31v20M55 52v1M56 31v21M57 31v19M58 29v1M58 31v22M59 28v22M59 51v1M60 30v23M61 28v23M62 28v19M62 48v3M63 30v19M63 51v1M64 28v1M64 30v20M64 51v1M65 29v22M66 28v23M67 28v20M67 49v1M68 25v1M68 28v23M69 27v21M70 28v1M70 30v18M70 50v1M71 28v2M71 31v16M71 49v1M72 25v1M72 28v20M72 49v1M73 27v19M73 49v1M74 26v21M74 48v1M75 25v1M75 27v19M76 27v20M77 25v1M77 27v19M77 49v1M78 28v19M79 27v20M80 27v18M80 46v1M81 27v19M82 25v1M82 27v16M83 24v21M84 26v17M84 46v1M85 26v17M86 26v17M87 23v1M87 27v16M87 44v1M88 25v19M89 26v17M90 25v16M91 23v1M91 26v14M91 41v1M92 28v14M93 27v12M94 28v10M94 39v1M95 28v1M95 30v7M95 38v1M96 26v9M96 36v3M97 29v1M97 31v4M97 37v1" stroke="#2a7491"/>
<path d="M0 38v64M1 33v1M1 35v46M1 82v1M2 33v47M3 30v48M4 31v47M5 31v47M6 30v47M7 31v45M8 31v43M9 30v44M10 32v40M11 31v41M12 28v1M12 31v39M13 31v39M14 29v1M14 31v38M15 31v36M16 33v33M17 32v35M18 31v1M18 33v31M19 30v1M19 33v33M20 31v35M21 33v31M22 32v32M23 31v1M23 34v30M24 33v31M25 27v1M25 30v2M25 34v30M26 32v1M26 34v29M27 32v31M28 33v28M28 62v1M29 31v1M29 34v27M30 32v1M30 35v24M30 60v1M31 33v29M32 33v26M32 60v2M33 33v27M34 32v27M34 60v1M35 33v27M36 34v25M37 32v26M37 59v1M38 31v27M38 60v1M39 32v25M39 58v1M40 31v26M41 31v26M42 31v27M43 32v25M44 31v1M44 33v23M45 32v22M46 30v22M46 53v2M47 29v1M47 31v23M47 55v1M48 29v23M48 54v2M49 31v21M49 53v1M49 55v1M50 31v23M51 31v21M51 54v1M52 30v25M53 29v25M54 29v22M54 52v2M55 28v2M55 31v20M55 52v1M56 31v21M57 31v19M58 29v1M58 31v22M59 28v22M59 51v1M60 30v23M61 28v23M62 28v19M62 48v3M63 30v19M63 51v1M64 28v1M64 30v20M64 51v1M65 29v22M66 28v23M67 28v20M67 49v1M68 25v1M68 28v23M69 27v21M70 28v1M70 30v18M70 50v1M71 28v2M71 31v16M71 49v1M72 25v1M72 28v20M72 49v1M73 27v19M73 49v1M74 26v21M74 48v1M75 25v1M75 27v19M76 27v20M77 25v1M77 27v19M77 49v1M78 28v19M79 27v20M80 27v18M80 46v1M81 27v19M82 25v1M82 27v16M83 24v21M84 26v17M84 46v1M85 26v17M86 26v17M87 23v1M87 27v16M87 44v1M88 25v19M89 26v17M90 25v16M91 23v1M91 26v14M91 41v1M92 28v14M93 27v12M94 28v10M94 39v1M95 28v1M95 30v7M95 38v1M96 26v9M96 36v3M97 29v1M97 31v4M97 37v1" stroke="#376b94"/>
<path d="M0 38v64M1 33v1M1 36v45M2 33v47M3 31v4M3 36v42M4 31v47M5 31v46M6 30v47M7 32v44M8 31v7M8 39v35M9 31v42M10 33v39M11 31v39M12 28v1M12 32v38M13 32v35M13 68v1M14 29v1M14 31v38M15 33v33M16 33v33M17 33v32M17 66v1M18 33v31M19 30v1M19 33v32M20 31v4M20 36v29M21 34v29M22 33v31M23 34v29M24 33v29M25 34v28M26 32v1M26 34v28M27 32v29M27 62v1M28 33v28M29 31v1M29 34v1M29 36v24M30 36v23M31 33v27M31 61v1M32 33v26M32 61v1M33 33v27M34 33v26M34 60v1M35 33v26M36 34v1M36 36v21M36 58v1M37 32v26M38 31v1M38 33v25M39 33v24M39 58v1M40 31v25M41 31v26M42 32v24M43 33v20M43 54v2M44 33v22M45 32v22M46 31v21M46 53v1M47 31v22M48 30v1M48 32v20M48 54v1M49 31v20M49 53v1M50 31v23M51 32v20M51 54v1M52 30v24M53 30v23M54 31v20M54 52v2M55 28v2M55 31v20M56 31v20M57 31v1M57 33v17M58 32v19M58 52v1M59 31v19M59 51v1M60 30v23M61 28v23M62 29v18M62 48v2M63 30v19M63 51v1M64 30v19M65 31v19M66 28v21M67 30v18M68 28v18M68 47v2M69 27v21M70 30v18M70 50v1M71 28v2M71 31v16M71 49v1M72 28v1M72 30v18M73 28v1M73 30v16M73 49v1M74 26v1M74 28v17M74 46v1M75 27v19M76 27v20M77 25v1M77 27v19M78 28v19M79 27v15M79 43v1M79 45v2M80 27v16M80 44v1M81 28v13M81 42v3M82 27v16M83 24v17M83 42v1M84 26v15M84 42v1M85 27v15M86 27v16M87 27v1M87 29v12M88 25v15M88 41v2M89 26v2M89 29v12M89 42v1M90 26v15M91 26v1M91 28v11M92 28v1M92 30v8M93 28v1M93 30v7M93 38v1M94 29v9M95 28v1M95 30v6M96 26v1M96 28v7M96 37v1M97 29v1M97 31v3M97 37v1" stroke="#496199"/>
<path d="M0 38v64M1 33v1M1 37v44M2 33v47M3 32v3M3 36v42M4 31v47M5 32v45M6 31v1M6 34v42M7 32v2M7 35v40M8 32v6M8 39v35M9 32v1M9 34v4M9 39v34M10 33v4M10 38v32M11 31v2M11 34v35M12 32v36M13 32v35M13 68v1M14 31v38M15 33v33M16 34v32M17 34v4M17 39v25M17 66v1M18 33v31M19 30v1M19 33v31M20 31v4M20 36v28M21 35v28M22 34v1M22 36v27M23 35v27M24 34v1M24 36v3M24 40v22M25 34v28M26 34v27M27 36v25M28 35v26M29 34v1M29 36v23M30 36v23M31 33v1M31 35v22M31 58v1M32 33v25M33 33v25M34 33v4M34 38v20M35 33v25M36 34v1M36 36v21M36 58v1M37 32v1M37 35v23M38 34v24M39 33v1M39 35v22M40 32v23M41 32v1M41 34v20M41 55v2M42 33v23M43 34v19M43 54v2M44 33v21M45 32v22M46 31v21M47 32v21M48 33v19M48 54v1M49 32v19M50 31v22M51 32v1M51 34v16M51 51v1M52 31v21M52 53v1M53 32v21M54 31v18M54 50v1M54 53v1M55 29v1M55 31v20M56 31v20M57 31v1M57 33v17M58 33v17M59 31v1M59 33v17M59 51v1M60 31v20M60 52v1M61 28v21M61 50v1M62 29v1M62 31v16M62 48v2M63 30v1M63 33v16M64 30v19M65 31v18M66 31v18M67 30v18M68 28v1M68 30v16M68 47v1M69 28v2M69 31v16M70 30v16M71 31v16M71 49v1M72 30v14M72 45v3M73 30v16M74 29v16M75 27v17M75 45v1M76 29v17M77 27v18M78 29v16M79 28v14M79 46v1M80 27v15M81 28v13M81 42v3M82 27v16M83 25v1M83 27v14M83 42v1M84 27v14M85 27v14M86 27v15M87 29v12M88 25v15M89 26v2M89 29v12M89 42v1M90 27v12M90 40v1M91 29v10M92 28v1M92 30v8M93 30v7M94 30v7M95 30v1M95 32v4M96 30v5M96 37v1M97 32v2" stroke="#5c569d"/>
<path d="M0 38v1M0 40v1M0 43v58M1 37v1M1 39v42M2 34v2M2 37v42M3 33v1M3 36v42M4 32v1M4 34v44M5 33v44M6 35v40M7 32v2M7 35v40M8 32v1M8 34v2M8 37v1M8 39v35M9 34v2M9 37v1M9 39v33M10 33v4M10 38v32M11 32v1M11 34v3M11 38v31M12 32v3M12 36v32M13 33v34M14 33v1M14 35v1M14 37v31M15 34v32M16 35v30M17 34v1M17 36v2M17 39v25M18 34v1M18 37v27M19 34v2M19 37v26M20 31v3M20 37v26M21 36v2M21 39v23M22 36v2M22 39v22M23 35v3M23 39v23M24 36v3M24 40v21M25 34v25M25 60v1M26 35v26M27 37v1M27 39v21M28 36v23M29 34v1M29 38v20M30 36v22M31 36v21M31 58v1M32 36v3M32 40v18M33 34v2M33 37v20M34 34v2M34 38v17M34 56v2M35 34v1M35 36v2M35 39v19M36 34v1M36 36v1M36 38v19M37 35v21M38 35v3M38 39v17M39 37v18M40 33v22M41 35v19M42 33v19M42 53v2M43 35v18M43 54v1M44 34v20M45 33v21M46 32v20M47 32v21M48 34v17M49 32v2M49 35v16M50 32v19M50 52v1M51 32v1M51 34v16M51 51v1M52 33v18M53 32v17M54 33v2M54 36v11M54 48v1M55 31v17M56 32v16M56 50v1M57 31v1M57 34v16M58 33v17M59 31v1M59 34v15M60 32v1M60 34v13M60 48v1M61 31v17M62 31v16M63 30v1M63 33v14M63 48v1M64 31v17M65 31v17M66 32v15M67 30v1M67 32v13M67 46v1M68 30v1M68 32v13M69 29v1M69 31v16M70 30v15M71 31v15M72 30v2M72 33v11M72 45v2M73 30v14M74 29v14M75 28v1M75 31v13M76 29v15M77 28v8M77 37v5M78 30v13M78 44v1M79 28v1M79 30v12M80 27v1M80 29v13M81 29v12M82 27v14M83 27v4M83 32v7M83 40v1M84 27v3M84 31v10M85 28v1M85 30v11M86 27v1M86 29v11M87 29v10M87 40v1M88 26v14M89 27v1M89 29v4M89 34v4M89 40v1M90 28v10M90 40v1M91 30v3M91 34v4M92 30v6M92 37v1M93 30v6M94 30v1M94 32v2M94 35v1M95 30v1M95 32v3M96 30v1M96 32v2M97 32v2" stroke="#704a9f"/>
<path d="M0 43v58M1 39v41M2 34v2M2 38v41M3 33v1M3 36v42M4 32v1M4 35v1M4 37v1M4 39v38M5 35v1M5 38v39M6 35v1M6 37v1M6 39v36M7 33v1M7 35v1M7 37v1M7 39v36M8 32v1M8 35v1M8 37v1M8 39v34M9 34v2M9 37v1M9 39v33M10 35v2M10 39v31M11 36v1M11 38v31M12 33v1M12 36v32M13 34v2M13 39v28M14 33v1M14 35v1M14 37v31M15 34v3M15 39v27M16 36v1M16 38v27M17 34v1M17 36v2M17 39v25M18 34v1M18 38v26M19 34v2M19 38v24M20 37v24M21 36v2M21 40v22M22 36v1M22 39v22M23 35v3M23 40v22M24 36v1M24 40v21M25 34v2M25 37v22M25 60v1M26 36v23M27 37v1M27 39v20M28 36v23M29 38v20M30 36v1M30 39v19M31 36v21M32 36v3M32 40v17M33 37v1M33 39v18M34 34v2M34 38v17M34 56v2M35 37v1M35 39v15M35 55v2M36 36v1M36 38v17M37 35v2M37 39v17M38 36v2M38 39v15M39 37v17M40 35v18M40 54v1M41 35v1M41 37v15M41 53v1M42 33v3M42 37v15M42 53v1M43 35v18M44 34v20M45 35v18M46 32v3M46 36v14M46 51v1M47 32v1M47 36v15M48 34v1M48 36v15M49 32v1M49 35v15M50 33v1M50 35v15M50 52v1M51 35v15M52 33v1M52 35v15M53 32v16M54 34v1M54 36v11M54 48v1M55 31v17M56 32v2M56 35v13M57 31v1M57 34v13M58 33v15M59 31v1M59 34v14M60 32v1M60 34v13M60 48v1M61 31v16M62 32v15M63 30v1M63 33v12M63 46v1M64 32v14M65 32v15M66 32v1M66 34v11M67 32v13M68 32v13M69 32v13M70 30v15M71 31v14M72 31v1M72 33v11M72 46v1M73 30v1M73 33v11M74 29v3M74 33v10M75 28v1M75 31v2M75 34v10M76 29v1M76 31v12M77 28v8M77 37v5M78 30v12M79 30v10M79 41v1M80 27v1M80 30v2M80 33v7M80 41v1M81 30v11M82 27v1M82 31v10M83 28v3M83 32v6M83 40v1M84 32v2M84 35v6M85 28v1M85 30v1M85 32v8M86 27v1M86 29v2M86 32v5M87 29v6M87 36v1M88 28v1M88 30v5M88 36v3M89 27v1M89 29v4M89 34v1M89 36v1M90 29v2M90 32v5M91 31v2M91 35v2M92 30v6M93 32v4M94 30v1M94 32v2M94 35v1M95 30v1M95 32v1M96 30v1M96 32v1M97 33v1" stroke="#8340a0"/>
<path d="M0 44v1M0 46v54M1 40v40M2 38v41M3 36v1M3 40v37M4 39v37M5 39v37M6 37v1M6 39v36M7 35v1M7 39v35M8 35v1M8 39v34M9 39v33M10 39v30M11 38v30M12 37v1M12 39v29M13 39v28M14 38v1M14 40v26M15 36v1M15 40v25M16 40v23M16 64v1M17 39v24M18 38v24M19 38v23M20 38v1M20 40v20M21 41v20M22 36v1M22 40v20M23 40v19M24 41v19M25 35v1M25 37v22M26 39v19M27 39v18M28 39v18M29 39v19M30 39v18M31 37v1M31 39v17M32 38v1M32 40v17M33 37v1M33 39v17M34 38v17M35 39v15M36 38v17M37 39v15M38 39v15M39 37v15M39 53v1M40 37v16M41 37v15M42 37v15M43 38v12M43 51v1M44 36v14M44 52v1M45 37v13M46 34v1M46 37v13M47 36v14M48 36v12M48 49v1M49 35v1M49 37v10M49 48v1M50 36v12M51 35v12M51 48v1M52 36v12M52 49v1M53 34v1M53 36v11M54 34v1M54 36v11M55 34v12M55 47v1M56 35v11M57 34v11M57 46v1M58 34v10M58 45v1M59 35v10M59 46v1M60 34v1M60 36v8M60 45v1M61 33v12M62 33v12M62 46v1M63 34v11M63 46v1M64 33v9M64 43v1M65 33v1M65 35v11M66 35v1M66 37v8M67 34v10M68 33v1M68 35v7M68 43v1M69 33v11M70 31v1M70 35v9M71 31v1M71 34v11M72 34v8M72 43v1M73 34v7M74 35v6M74 42v1M75 32v1M75 34v5M75 40v1M76 31v9M76 42v1M77 30v1M77 33v1M77 35v1M77 37v1M78 30v1M78 34v6M79 31v1M79 34v4M79 39v1M80 33v6M81 30v1M81 34v4M81 40v1M82 32v5M82 38v1M83 33v1M83 35v3M84 32v2M84 35v5M85 30v1M85 32v1M85 34v5M86 29v1M86 34v2M87 32v1M87 34v1M87 36v1M88 31v4M89 30v2M91 31v1M91 36v1M92 33v1M93 32v2" stroke="#943ba0"/>
<path d="M0 44v1M0 46v53M1 41v39M2 40v38M3 40v37M4 40v36M5 39v36M6 39v35M7 40v34M8 41v32M9 40v32M10 39v30M11 38v1M11 40v28M12 39v1M12 42v25M13 41v26M14 40v25M15 42v22M16 42v21M16 64v1M17 39v24M18 40v22M19 39v1M19 41v20M20 38v1M20 40v20M21 41v19M22 40v1M22 42v18M23 41v18M24 41v18M25 40v19M26 41v17M27 41v16M28 39v18M29 42v16M30 41v15M31 39v17M32 40v15M33 39v17M34 39v15M35 39v15M36 38v1M36 40v14M37 39v13M37 53v1M38 39v14M39 37v15M39 53v1M40 37v14M40 52v1M41 38v14M42 39v11M43 38v12M44 39v11M44 52v1M45 38v11M46 38v9M46 48v2M47 36v13M48 37v11M49 38v9M50 38v8M51 35v1M51 37v9M52 36v9M52 49v1M53 38v5M53 44v3M54 34v1M54 37v8M55 35v6M55 42v4M56 35v10M57 36v9M58 35v1M58 37v5M58 43v1M59 37v8M59 46v1M60 36v8M61 34v11M62 36v2M62 39v1M62 41v2M62 44v1M63 34v1M63 36v4M63 43v1M64 36v6M64 43v1M65 33v1M65 37v6M65 44v1M66 35v1M66 37v5M67 35v9M68 35v7M69 36v6M70 35v1M70 37v2M70 40v1M70 42v1M71 34v8M72 35v6M73 35v1M73 38v3M74 35v4M75 34v1M75 38v1M76 31v2M76 36v3M76 42v1M77 35v1M77 37v1M78 30v1M78 34v1M78 36v1M79 34v4M80 36v2M81 35v2M82 33v3M84 32v1M84 35v1M84 38v1M85 34v2M86 34v2M87 34v1M89 31v1M91 31v1" stroke="#a4379d"/>
<path d="M0 46v1M0 48v50M1 42v38M2 41v37M3 40v37M4 41v35M5 41v34M6 39v1M6 41v33M7 41v32M8 42v31M9 41v30M10 41v28M11 41v27M12 42v25M13 42v24M14 41v24M15 42v22M16 42v20M17 40v22M18 41v21M19 42v19M20 41v18M21 43v17M22 42v17M23 41v1M23 43v15M24 41v1M24 43v14M24 58v1M25 41v16M26 41v16M27 41v15M28 41v15M29 42v14M30 43v12M31 40v15M32 41v13M33 39v16M34 41v12M35 41v12M36 41v11M37 41v10M38 39v12M39 39v11M39 51v1M40 39v1M40 41v9M41 40v12M42 39v10M43 39v1M43 41v8M44 40v9M45 39v9M46 40v7M47 39v8M48 38v9M49 40v5M50 39v6M51 38v7M52 38v1M52 40v1M52 42v3M53 39v4M53 44v2M54 39v3M54 43v2M55 38v3M56 38v2M56 42v1M57 40v2M57 43v1M58 37v1M58 39v1M58 41v1M59 40v3M60 36v1M60 40v1M60 42v1M61 38v1M61 41v1M62 39v1M62 41v2M63 39v1M64 36v1M65 38v1M66 37v1M66 41v1M67 39v3M68 39v1M69 36v1M69 38v1M70 37v2M70 40v1M71 34v2M71 38v1M72 38v1M73 35v1M74 37v1M76 36v1" stroke="#b43693"/>
<path d="M0 48v50M1 42v38M2 42v36M3 42v35M4 42v34M5 41v34M6 39v1M6 41v33M7 41v32M8 42v30M9 42v28M10 43v26M11 42v26M12 43v24M13 43v22M14 43v21M15 43v20M16 44v18M17 42v20M18 42v18M19 43v16M20 42v17M21 44v14M22 44v14M23 43v14M24 43v14M25 43v14M26 43v13M27 43v13M28 43v12M29 43v12M30 43v10M30 54v1M31 43v10M32 43v10M33 42v11M34 43v10M35 42v9M36 43v8M37 42v8M38 42v8M39 41v9M40 39v1M40 41v7M40 49v1M41 41v7M42 42v6M43 42v5M44 42v6M45 42v2M45 46v1M46 40v1M46 42v3M47 39v2M47 43v1M47 45v1M48 40v6M49 40v1M53 41v1M61 41v1M63 39v1" stroke="#c13885"/>
<path d="M0 50v47M1 45v34M2 43v35M3 43v33M4 43v32M5 43v31M6 43v31M7 43v29M8 44v27M9 45v25M10 44v24M11 44v23M12 43v23M13 44v20M14 44v20M15 45v17M16 45v17M17 45v16M18 44v16M19 45v14M20 45v13M21 45v12M22 45v12M23 45v12M24 45v11M25 44v11M26 44v11M27 44v10M28 44v10M29 45v7M29 53v1M30 44v8M31 44v8M32 45v6M33 44v6M34 43v8M35 44v6M36 44v5M37 45v3M38 44v2M38 47v1M39 43v3M40 44v2M41 45v2" stroke="#cc406f"/>
<path d="M0 51v45M1 46v33M2 44v33M3 43v33M4 44v31M5 45v29M6 44v29M7 44v1M7 46v26M8 46v25M9 45v24M10 46v22M11 45v22M12 45v20M13 45v19M14 46v17M15 46v16M16 46v15M17 46v14M18 46v13M19 46v12M20 45v12M21 46v10M22 47v9M23 46v10M24 46v8M25 46v8M26 46v7M27 46v6M28 47v4M29 47v3M30 47v2M30 50v1M31 47v2M32 46v1M32 48v1M33 47v1" stroke="#d54959"/>
<path d="M0 53v42M1 46v33M2 45v32M3 45v31M4 45v30M5 46v27M6 46v27M7 46v25M8 47v23M9 47v22M10 47v20M11 46v20M12 46v18M13 47v16M14 46v16M15 48v13M16 48v12M17 46v1M17 48v11M18 49v9M19 48v8M20 48v8M21 48v7M22 48v7M23 48v6M24 49v4M25 48v5M26 47v4M27 49v2" stroke="#dd5342"/>
<path d="M0 54v39M1 48v30M2 46v31M3 46v29M4 46v28M5 47v26M6 47v25M7 48v23M8 48v21M9 48v20M10 49v18M11 48v17M12 48v15M13 49v13M14 49v11M15 48v1M15 50v9M16 49v9M17 50v8M18 50v6M19 51v3M20 49v5M21 50v3M23 50v1" stroke="#e45d2e"/>
<path d="M0 55v37M1 49v29M2 47v29M3 48v27M4 48v26M5 49v23M6 49v23M7 50v20M8 50v19M9 50v17M10 50v15M11 49v1M11 51v13M12 50v12M13 50v11M14 51v9M15 52v6M16 52v2M16 55v2M17 52v2M18 51v2" stroke="#e86621"/>
<path d="M0 57v33M1 51v26M2 49v27M3 49v26M4 49v24M5 50v22M6 50v21M7 51v18M8 51v17M9 52v14M10 52v12M11 52v11M12 53v8M13 53v5M14 54v2" stroke="#ed6f16"/>
<path d="M0 59v29M1 51v26M2 50v26M3 50v24M4 51v22M5 52v19M6 52v18M7 53v15M8 54v12M9 53v12M10 55v8M11 56v4" stroke="#f1770f"/>
<path d="M0 62v23M1 54v23M2 51v24M3 52v21M4 53v19M5 55v15M6 54v15M7 56v11M8 57v8M9 58v2M9 61v1M10 60v1" stroke="#f3800a"/>
<path d="M0 66v4M0 73v2M0 78v1M0 80v1M1 56v20M2 54v20M3 54v19M4 56v15M5 56v12M6 57v10M7 57v8" stroke="#f48b0b"/>
<path d="M1 57v17M2 54v20M3 56v16M4 57v13M5 60v7M6 60v1" stroke="#f5950c"/>
<path d="M1 60v14M2 56v17M3 57v14M4 60v1M4 62v5M4 68v1" stroke="#f6a00e"/>
<path d="M1 62v1M1 64v7M2 57v15M3 60v1M3 62v7" stroke="#f6ab0f"/>
<path d="M2 61v10" stroke="#f7b611"/>
</g>
<path d="M1479.6 268H1919.1M1562.2 66.3V452.4" stroke="#000" stroke-width="2.2" stroke-dasharray="11 7" fill="none"/>
</g>
<rect x="1479.6" y="66.3" width="439.5" height="386.1" fill="none" stroke="#333" stroke-width="1.4"/>
<path d="M1499.1 452.4v4M1598.2 452.4v4M1697.4 452.4v4M1796.5 452.4v4M1895.7 452.4v4" stroke="#333" stroke-width="1.3" fill="none"/>
<text x="1503.8" y="480.6" font-size="28" text-anchor="middle">0.00</text>
<text x="1596.5" y="480.6" font-size="28" text-anchor="middle">0.25</text>
<text x="1693.7" y="480.6" font-size="28" text-anchor="middle">0.50</text>
<text x="1804.0" y="480.6" font-size="28" text-anchor="middle">0.75</text>
<text x="1895.4" y="480.6" font-size="28" text-anchor="middle">1</text>
<path d="M148.3 140.7h-4M148.3 240.4h-4M148.3 340.1h-4M148.3 439.8h-4" stroke="#333" stroke-width="1.3" fill="none"/>
<text x="144.6" y="150.7" font-size="28" text-anchor="end">−4</text>
<text x="144.6" y="250.4" font-size="28" text-anchor="end">−6</text>
<text x="144.6" y="350.1" font-size="28" text-anchor="end">−8</text>
<text x="144.6" y="449.8" font-size="28" text-anchor="end">−10</text>
<text x="87.9" y="272.5" font-size="28.2" text-anchor="middle" transform="rotate(-90 87.9 272.5)">log10(relative abundance)</text>
<text x="1050.6" y="509.3" font-size="28.3" text-anchor="middle">Prevalence</text>
<text x="388.8" y="25.0" font-size="29" text-anchor="middle">SC: Strong homology to known</text>
<text x="388.8" y="59.0" font-size="29" text-anchor="middle">characterized proteins</text>
<text x="826.0" y="25.0" font-size="29" text-anchor="middle">SU: Strong homology to known</text>
<text x="826.0" y="59.0" font-size="29" text-anchor="middle">uncharacterized proteins</text>
<text x="1279.5" y="25.0" font-size="29" text-anchor="middle">RH: Remote homology to</text>
<text x="1279.5" y="59.0" font-size="29" text-anchor="middle">known proteins</text>
<text x="1720.0" y="25.0" font-size="29" text-anchor="middle">NH: No homology to</text>
<text x="1720.0" y="59.0" font-size="29" text-anchor="middle">known proteins</text>
<text x="420.6" y="212.8" font-size="25" text-anchor="middle" fill="#fff">the 75th percentile of</text>
<text x="420.6" y="242.9" font-size="25" text-anchor="middle" fill="#fff">relative abundance</text>
<text x="263.0" y="343.2" font-size="25" text-anchor="middle" transform="rotate(-90 263.0 343.2)">the 75th percentile</text>
<text x="293.0" y="342.0" font-size="25" text-anchor="middle" transform="rotate(-90 293.0 342.0)">of prevalence</text>
<text x="0.3" y="25.3" font-size="33.5" font-weight="bold">a</text>
<text x="1949.8" y="162.8" font-size="27.5" textLength="84.2" lengthAdjust="spacingAndGlyphs">counts</text>
<linearGradient id="cb" x1="0" y1="0" x2="0" y2="1"><stop offset="0.000" stop-color="#f9d814"/><stop offset="0.043" stop-color="#f8d014"/><stop offset="0.114" stop-color="#f7be12"/><stop offset="0.186" stop-color="#f6a80f"/><stop offset="0.257" stop-color="#f5920c"/><stop offset="0.329" stop-color="#f37d0a"/><stop offset="0.400" stop-color="#ec6c18"/><stop offset="0.471" stop-color="#e25a32"/><stop offset="0.543" stop-color="#d34660"/><stop offset="0.614" stop-color="#be368c"/><stop offset="0.686" stop-color="#a037a0"/><stop offset="0.757" stop-color="#7e42a0"/><stop offset="0.828" stop-color="#565a9c"/><stop offset="0.900" stop-color="#326e93"/><stop offset="0.971" stop-color="#1b7f8d"/><stop offset="1.000" stop-color="#18828d"/></linearGradient>
<rect x="1949.5" y="177.7" width="18.4" height="141.5" fill="url(#cb)"/>
<path d="M1949.5 193.9h3.7M1967.9 193.9h-3.7" stroke="#fff" stroke-width="1.6"/>
<text x="1972.9" y="198.5" font-size="27" textLength="62.8" lengthAdjust="spacingAndGlyphs">4096</text>
<path d="M1949.5 224.2h3.7M1967.9 224.2h-3.7" stroke="#fff" stroke-width="1.6"/>
<text x="1972.9" y="228.8" font-size="27" textLength="47.1" lengthAdjust="spacingAndGlyphs">512</text>
<path d="M1949.5 254.5h3.7M1967.9 254.5h-3.7" stroke="#fff" stroke-width="1.6"/>
<text x="1972.9" y="259.1" font-size="27" textLength="31.4" lengthAdjust="spacingAndGlyphs">64</text>
<path d="M1949.5 284.8h3.7M1967.9 284.8h-3.7" stroke="#fff" stroke-width="1.6"/>
<text x="1972.9" y="289.4" font-size="27">8</text>
<path d="M1949.5 315.1h3.7M1967.9 315.1h-3.7" stroke="#fff" stroke-width="1.6"/>
<text x="1972.9" y="319.7" font-size="27">1</text>
<filter id="hb" x="-1%" y="-5%" width="102%" height="110%"><feGaussianBlur stdDeviation="1.0 0.001"/></filter>
<clipPath id="cb_"><rect x="141.4" y="539.7" width="1070.9" height="340.7"/></clipPath><g clip-path="url(#cb_)">
<rect x="141.4" y="539.7" width="1070.9" height="340.7" fill="#d9640f"/>
<path d="M141.4 880.4V622.7h1.001V628.7h1.001V625.8h1.001V629.5h1.001V645.4h1.001V606.0h1.001V653.9h1.001V661.6h1.001V655.3h1.001V659.0h1.001V641.9h1.001V656.7h1.001V661.2h1.001V661.1h1.001V658.3h1.001V659.6h1.001V658.8h1.001V684.8h1.001V652.3h1.001V640.9h1.001V623.5h1.001V663.9h1.001V666.0h1.001V662.2h1.001V666.5h1.001V671.5h1.001V671.6h1.001V673.8h1.001V666.9h1.001V660.7h1.001V666.0h1.001V665.5h1.001V675.8h1.001V689.4h1.001V666.3h1.001V674.8h1.001V673.6h1.001V703.5h1.001V673.7h1.001V685.6h1.001V672.1h1.001V678.8h1.001V663.0h1.001V676.8h1.001V662.8h1.001V691.5h1.001V686.0h1.001V695.4h1.001V694.8h1.001V694.6h1.001V693.0h1.001V686.3h1.001V685.7h1.001V717.7h1.001V694.6h1.001V683.7h1.001V675.9h1.001V706.3h1.001V671.0h1.001V684.7h1.001V701.2h1.001V699.9h1.001V699.6h1.001V690.6h1.001V685.4h1.001V682.4h1.001V686.1h1.001V683.3h1.001V680.8h1.001V689.1h1.001V691.9h1.001V696.6h1.001V708.9h1.001V699.4h1.001V711.9h1.001V686.3h1.001V679.1h1.001V679.4h1.001V683.7h1.001V682.0h1.001V700.9h1.001V682.0h1.001V689.7h1.001V734.1h1.001V721.7h1.001V686.7h1.001V694.3h1.001V692.9h1.001V685.9h1.001V702.7h1.001V710.4h1.001V697.4h1.001V686.3h1.001V679.2h1.001V682.0h1.001V685.1h1.001V678.1h1.001V689.5h1.001V675.1h1.001V689.9h1.001V690.5h1.001V685.8h1.001V660.6h1.001V687.4h1.001V666.2h1.001V689.7h1.001V681.3h1.001V689.1h1.001V676.6h1.001V683.4h1.001V697.4h1.001V687.3h1.001V683.6h1.001V670.1h1.001V687.7h1.001V681.6h1.001V688.5h1.001V676.8h1.001V673.1h1.001V679.0h1.001V674.2h1.001V675.9h1.001V683.7h1.001V698.6h1.001V679.9h1.001V689.9h1.001V679.0h1.001V675.8h1.001V681.7h1.001V706.5h1.001V701.2h1.001V680.3h1.001V669.6h1.001V677.7h1.001V689.5h1.001V677.6h1.001V689.2h1.001V689.8h1.001V700.0h1.001V686.6h1.001V692.9h1.001V694.5h1.001V671.9h1.001V678.6h1.001V675.0h1.001V711.5h1.001V687.8h1.001V677.0h1.001V712.1h1.001V707.6h1.001V691.2h1.001V709.8h1.001V714.9h1.001V714.5h1.001V723.0h1.001V686.9h1.001V672.0h1.001V694.5h1.001V677.8h1.001V679.6h1.001V694.2h1.001V701.8h1.001V688.1h1.001V687.7h1.001V698.6h1.001V688.6h1.001V694.2h1.001V683.4h1.001V702.5h1.001V672.2h1.001V688.3h1.001V686.0h1.001V694.3h1.001V693.0h1.001V685.8h1.001V654.0h1.001V696.4h1.001V675.6h1.001V695.8h1.001V687.5h1.001V710.6h1.001V674.1h1.001V717.0h1.001V676.8h1.001V703.5h1.001V665.6h1.001V655.1h1.001V703.1h1.001V692.8h1.001V696.2h1.001V679.7h1.001V690.5h1.001V691.8h1.001V691.6h1.001V694.7h1.001V728.5h1.001V698.7h1.001V693.9h1.001V696.8h1.001V673.0h1.001V683.3h1.001V689.9h1.001V679.1h1.001V704.9h1.001V685.2h1.001V706.2h1.001V687.8h1.001V692.0h1.001V699.5h1.001V688.0h1.001V685.3h1.001V691.2h1.001V693.4h1.001V705.6h1.001V701.4h1.001V672.8h1.001V712.7h1.001V707.4h1.001V689.9h1.001V703.1h1.001V689.0h1.001V688.6h1.001V698.7h1.001V702.2h1.001V702.3h1.001V694.5h1.001V690.5h1.001V695.2h1.001V698.1h1.001V697.2h1.001V710.0h1.001V691.3h1.001V692.0h1.001V696.8h1.001V694.6h1.001V683.8h1.001V698.1h1.001V672.2h1.001V696.6h1.001V694.4h1.001V691.4h1.001V701.2h1.001V689.9h1.001V701.4h1.001V699.8h1.001V680.4h1.001V709.7h1.001V701.3h1.001V707.6h1.001V695.4h1.001V702.2h1.001V672.6h1.001V710.8h1.001V693.1h1.001V702.0h1.001V689.5h1.001V697.4h1.001V690.3h1.001V686.8h1.001V695.2h1.001V695.9h1.001V688.7h1.001V704.4h1.001V697.9h1.001V709.6h1.001V696.5h1.001V785.2h1.001V702.0h1.001V689.2h1.001V704.1h1.001V699.7h1.001V687.6h1.001V694.7h1.001V691.1h1.001V695.9h1.001V689.1h1.001V692.3h1.001V683.5h1.001V704.3h1.001V702.6h1.001V689.6h1.001V673.0h1.001V674.4h1.001V695.8h1.001V684.8h1.001V685.6h1.001V738.6h1.001V679.3h1.001V683.5h1.001V682.3h1.001V694.9h1.001V689.7h1.001V678.5h1.001V714.0h1.001V707.9h1.001V701.5h1.001V708.2h1.001V704.7h1.001V710.5h1.001V707.4h1.001V704.0h1.001V704.1h1.001V695.0h1.001V685.2h1.001V691.4h1.001V713.8h1.001V681.6h1.001V700.0h1.001V712.3h1.001V720.0h1.001V703.6h1.001V687.0h1.001V692.6h1.001V695.5h1.001V707.8h1.001V703.7h1.001V705.1h1.001V697.0h1.001V703.7h1.001V693.7h1.001V699.3h1.001V714.0h1.001V715.9h1.001V689.8h1.001V702.5h1.001V698.8h1.001V691.7h1.001V683.5h1.001V719.4h1.001V693.3h1.001V692.8h1.001V704.8h1.001V691.5h1.001V703.5h1.001V679.7h1.001V692.3h1.001V702.2h1.001V707.0h1.001V695.4h1.001V680.8h1.001V682.4h1.001V683.0h1.001V692.1h1.001V706.1h1.001V697.9h1.001V704.9h1.001V709.7h1.001V719.6h1.001V736.5h1.001V703.4h1.001V686.8h1.001V729.8h1.001V683.9h1.001V678.5h1.001V721.1h1.001V699.2h1.001V713.6h1.001V695.9h1.001V699.2h1.001V688.3h1.001V694.2h1.001V689.8h1.001V688.3h1.001V698.2h1.001V706.2h1.001V689.6h1.001V708.5h1.001V696.9h1.001V691.2h1.001V692.7h1.001V685.7h1.001V694.0h1.001V689.0h1.001V689.9h1.001V706.1h1.001V698.1h1.001V699.3h1.001V691.2h1.001V684.4h1.001V690.4h1.001V680.8h1.001V697.6h1.001V700.1h1.001V693.2h1.001V692.0h1.001V691.2h1.001V684.4h1.001V702.4h1.001V698.3h1.001V688.0h1.001V674.8h1.001V683.5h1.001V693.9h1.001V676.6h1.001V678.6h1.001V719.7h1.001V701.8h1.001V685.6h1.001V722.2h1.001V709.9h1.001V696.2h1.001V695.0h1.001V705.1h1.001V689.1h1.001V700.3h1.001V699.0h1.001V675.1h1.001V692.8h1.001V684.4h1.001V686.0h1.001V702.8h1.001V688.9h1.001V686.6h1.001V695.0h1.001V693.2h1.001V670.2h1.001V742.0h1.001V688.0h1.001V649.6h1.001V683.7h1.001V699.8h1.001V692.7h1.001V678.2h1.001V670.8h1.001V695.6h1.001V693.8h1.001V690.8h1.001V691.9h1.001V663.6h1.001V679.3h1.001V696.6h1.001V694.5h1.001V679.7h1.001V679.3h1.001V663.5h1.001V691.7h1.001V695.6h1.001V695.7h1.001V702.1h1.001V684.6h1.001V691.3h1.001V695.3h1.001V676.8h1.001V724.0h1.001V708.8h1.001V674.3h1.001V694.6h1.001V689.0h1.001V703.4h1.001V696.2h1.001V697.1h1.001V694.2h1.001V702.2h1.001V680.5h1.001V701.6h1.001V711.7h1.001V720.5h1.001V680.2h1.001V700.3h1.001V691.1h1.001V670.8h1.001V712.2h1.001V685.5h1.001V699.4h1.001V699.5h1.001V681.8h1.001V711.8h1.001V703.9h1.001V706.3h1.001V705.6h1.001V702.1h1.001V702.4h1.001V703.8h1.001V710.7h1.001V701.1h1.001V701.1h1.001V703.3h1.001V703.8h1.001V722.1h1.001V695.0h1.001V692.3h1.001V703.5h1.001V684.7h1.001V694.9h1.001V699.8h1.001V701.2h1.001V719.0h1.001V661.3h1.001V687.0h1.001V708.6h1.001V696.7h1.001V685.9h1.001V698.2h1.001V644.9h1.001V687.6h1.001V705.2h1.001V701.7h1.001V693.8h1.001V711.0h1.001V707.2h1.001V703.1h1.001V700.1h1.001V696.3h1.001V690.6h1.001V702.4h1.001V704.2h1.001V714.6h1.001V705.9h1.001V684.4h1.001V692.3h1.001V687.9h1.001V697.6h1.001V711.4h1.001V728.5h1.001V719.2h1.001V694.7h1.001V687.0h1.001V684.3h1.001V697.6h1.001V703.3h1.001V695.0h1.001V682.9h1.001V706.2h1.001V689.1h1.001V691.5h1.001V698.7h1.001V700.4h1.001V701.2h1.001V694.5h1.001V720.6h1.001V692.7h1.001V700.0h1.001V674.9h1.001V705.7h1.001V706.0h1.001V681.7h1.001V686.2h1.001V695.8h1.001V691.6h1.001V704.9h1.001V700.5h1.001V711.7h1.001V703.8h1.001V704.5h1.001V691.2h1.001V704.9h1.001V696.7h1.001V675.1h1.001V702.6h1.001V686.0h1.001V707.1h1.001V675.4h1.001V675.0h1.001V638.2h1.001V686.0h1.001V679.9h1.001V682.8h1.001V687.6h1.001V687.2h1.001V694.3h1.001V685.6h1.001V696.8h1.001V693.5h1.001V688.2h1.001V684.1h1.001V705.1h1.001V693.4h1.001V697.3h1.001V686.0h1.001V689.1h1.001V698.8h1.001V699.0h1.001V684.7h1.001V707.0h1.001V690.0h1.001V702.9h1.001V701.7h1.001V700.5h1.001V698.0h1.001V713.1h1.001V703.7h1.001V695.7h1.001V705.9h1.001V700.0h1.001V685.3h1.001V696.9h1.001V695.8h1.001V687.5h1.001V709.5h1.001V705.8h1.001V700.4h1.001V692.8h1.001V683.4h1.001V690.0h1.001V696.5h1.001V681.2h1.001V689.4h1.001V692.7h1.001V694.9h1.001V692.9h1.001V686.2h1.001V695.2h1.001V697.0h1.001V680.5h1.001V693.4h1.001V693.2h1.001V692.0h1.001V698.9h1.001V699.8h1.001V709.3h1.001V677.9h1.001V699.4h1.001V671.2h1.001V689.5h1.001V779.7h1.001V676.9h1.001V689.3h1.001V698.8h1.001V689.5h1.001V722.2h1.001V704.5h1.001V686.8h1.001V713.1h1.001V697.9h1.001V689.6h1.001V688.5h1.001V694.5h1.001V693.8h1.001V710.0h1.001V694.0h1.001V693.6h1.001V706.3h1.001V693.7h1.001V708.3h1.001V689.9h1.001V706.7h1.001V708.1h1.001V700.2h1.001V694.7h1.001V700.9h1.001V687.3h1.001V701.2h1.001V690.9h1.001V694.5h1.001V685.9h1.001V700.1h1.001V715.2h1.001V697.7h1.001V688.0h1.001V699.3h1.001V677.8h1.001V689.7h1.001V699.9h1.001V700.1h1.001V699.5h1.001V665.7h1.001V688.2h1.001V679.1h1.001V733.0h1.001V696.9h1.001V706.4h1.001V703.9h1.001V700.8h1.001V669.1h1.001V692.4h1.001V707.0h1.001V692.9h1.001V662.0h1.001V690.1h1.001V701.1h1.001V690.1h1.001V682.8h1.001V687.6h1.001V694.5h1.001V672.6h1.001V684.6h1.001V689.8h1.001V696.5h1.001V692.7h1.001V684.8h1.001V719.4h1.001V706.6h1.001V701.3h1.001V689.5h1.001V715.4h1.001V694.3h1.001V693.1h1.001V693.8h1.001V689.7h1.001V699.1h1.001V703.2h1.001V702.2h1.001V681.3h1.001V676.5h1.001V702.7h1.001V698.1h1.001V680.1h1.001V700.7h1.001V707.3h1.001V711.1h1.001V690.1h1.001V689.5h1.001V693.0h1.001V701.2h1.001V699.0h1.001V693.2h1.001V698.1h1.001V707.2h1.001V714.0h1.001V688.9h1.001V704.8h1.001V691.2h1.001V701.6h1.001V698.0h1.001V693.2h1.001V714.8h1.001V687.7h1.001V723.5h1.001V672.1h1.001V708.9h1.001V693.8h1.001V689.8h1.001V696.3h1.001V701.6h1.001V715.9h1.001V683.1h1.001V684.1h1.001V714.8h1.001V693.9h1.001V702.4h1.001V720.3h1.001V699.5h1.001V677.1h1.001V698.7h1.001V707.2h1.001V717.2h1.001V682.9h1.001V716.3h1.001V687.6h1.001V684.5h1.001V704.3h1.001V693.8h1.001V691.1h1.001V695.6h1.001V676.1h1.001V709.5h1.001V700.9h1.001V682.6h1.001V696.1h1.001V683.8h1.001V697.7h1.001V692.8h1.001V698.4h1.001V719.3h1.001V702.5h1.001V691.2h1.001V684.8h1.001V673.8h1.001V692.8h1.001V675.4h1.001V689.8h1.001V694.0h1.001V687.8h1.001V691.6h1.001V712.7h1.001V686.5h1.001V686.4h1.001V690.6h1.001V682.7h1.001V695.5h1.001V687.4h1.001V683.6h1.001V693.9h1.001V684.0h1.001V696.9h1.001V697.1h1.001V700.7h1.001V700.8h1.001V638.6h1.001V692.8h1.001V742.8h1.001V697.2h1.001V763.0h1.001V706.9h1.001V694.3h1.001V688.8h1.001V702.0h1.001V690.9h1.001V677.1h1.001V696.6h1.001V698.1h1.001V703.4h1.001V700.1h1.001V699.9h1.001V702.5h1.001V681.2h1.001V699.7h1.001V688.6h1.001V695.9h1.001V692.0h1.001V718.1h1.001V697.4h1.001V698.6h1.001V697.7h1.001V693.7h1.001V689.0h1.001V686.5h1.001V705.3h1.001V682.8h1.001V690.0h1.001V711.8h1.001V684.7h1.001V696.7h1.001V709.7h1.001V725.1h1.001V697.0h1.001V700.5h1.001V694.7h1.001V706.0h1.001V741.4h1.001V711.6h1.001V695.7h1.001V686.8h1.001V701.4h1.001V715.0h1.001V693.1h1.001V697.7h1.001V703.1h1.001V704.4h1.001V697.6h1.001V697.1h1.001V692.7h1.001V711.5h1.001V702.9h1.001V698.1h1.001V672.8h1.001V696.5h1.001V693.3h1.001V692.9h1.001V700.8h1.001V689.6h1.001V718.6h1.001V682.4h1.001V696.0h1.001V698.1h1.001V673.0h1.001V698.0h1.001V697.8h1.001V697.7h1.001V691.0h1.001V728.3h1.001V689.5h1.001V696.5h1.001V714.9h1.001V704.4h1.001V684.8h1.001V691.0h1.001V690.2h1.001V732.1h1.001V708.6h1.001V666.0h1.001V686.0h1.001V682.7h1.001V686.9h1.001V707.0h1.001V698.2h1.001V687.1h1.001V700.2h1.001V686.2h1.001V700.7h1.001V702.0h1.001V690.8h1.001V679.7h1.001V661.8h1.001V689.8h1.001V713.3h1.001V655.2h1.001V714.3h1.001V695.6h1.001V682.2h1.001V774.4h1.001V694.3h1.001V686.0h1.001V709.8h1.001V742.6h1.001V701.9h1.001V687.5h1.001V702.1h1.001V688.0h1.001V682.3h1.001V686.7h1.001V707.2h1.001V704.7h1.001V700.2h1.001V689.7h1.001V703.6h1.001V697.5h1.001V689.8h1.001V703.4h1.001V690.8h1.001V689.9h1.001V712.4h1.001V708.2h1.001V699.7h1.001V694.7h1.001V709.9h1.001V701.4h1.001V705.4h1.001V698.1h1.001V702.5h1.001V719.3h1.001V715.5h1.001V703.2h1.001V713.8h1.001V693.3h1.001V700.3h1.001V694.4h1.001V707.1h1.001V693.3h1.001V707.7h1.001V735.5h1.001V693.7h1.001V712.8h1.001V679.9h1.001V707.3h1.001V687.9h1.001V708.0h1.001V705.4h1.001V707.1h1.001V693.0h1.001V696.3h1.001V667.5h1.001V695.7h1.001V696.8h1.001V737.8h1.001V706.2h1.001V703.0h1.001V688.6h1.001V707.0h1.001V679.6h1.001V685.9h1.001V681.8h1.001V694.1h1.001V705.0h1.001V716.4h1.001V696.1h1.001V684.9h1.001V691.0h1.001V679.2h1.001V710.3h1.001V689.2h1.001V704.3h1.001V699.4h1.001V707.4h1.001V686.7h1.001V696.9h1.001V691.3h1.001V679.4h1.001V698.2h1.001V688.6h1.001V686.1h1.001V675.4h1.001V705.3h1.001V695.1h1.001V705.4h1.001V698.1h1.001V704.4h1.001V669.1h1.001V687.6h1.001V701.9h1.001V706.2h1.001V690.1h1.001V690.4h1.001V691.3h1.001V711.7h1.001V695.5h1.001V697.7h1.001V710.4h1.001V706.7h1.001V691.8h1.001V697.0h1.001V687.8h1.001V699.3h1.001V685.7h1.001V711.5h1.001V713.4h1.001V728.8h1.001V698.4h1.001V711.4h1.001V688.1h1.001V702.0h1.001V694.0h1.001V711.0h1.001V699.3h1.001V702.0h1.001V704.1h1.001V707.0h1.001V677.3h1.001V709.9h1.001V713.7h1.001V704.2h1.001V710.2h1.001V706.7h1.001V657.8h1.001V701.0h1.001V700.7h1.001V698.7h1.001V705.5h1.001V702.3h1.001V712.7h1.001V723.1h1.001V717.7h1.001V709.8h1.001V706.7h1.001V707.5h1.001V701.9h1.001V695.1h1.001V719.9h1.001V711.8h1.001V730.7h1.001V713.5h1.001V716.8h1.001V712.9h1.001V720.0h1.001V727.9h1.001V708.5h1.001V706.8h1.001V732.8h1.001V733.7h1.001V732.0h1.001V728.7h1.001V741.6h1.001V746.1h1.001V725.2h1.001V730.8h1.001V727.4h1.001V731.1h1.001V745.8h1.001V747.0h1.001V724.5h1.001V712.7h1.001V732.9h1.001V720.9h1.001V711.6h1.001V736.6h1.001V737.4h1.001V733.7h1.001V731.5h1.001V748.1h1.001V770.3h1.001V746.1h1.001V760.7h1.001V757.1h1.001V749.9h1.001V748.6h1.001V720.6h1.001V759.9h1.001V766.3h1.001V767.2h1.001V768.4h1.001V772.2h1.001V798.3h1.001V777.9h1.001V766.1h1.001V765.4h1.001V772.4h1.001V772.1h1.001V767.1h1.001V767.0h1.001V749.7h1.001V880.4z" fill="#cd7dab" filter="url(#hb)"/>
<path d="M141.4 880.4V700.2h1.001V707.2h1.001V698.9h1.001V703.0h1.001V725.7h1.001V719.2h1.001V727.9h1.001V721.6h1.001V739.4h1.001V743.9h1.001V739.2h1.001V748.7h1.001V752.1h1.001V756.0h1.001V749.6h1.001V760.0h1.001V756.7h1.001V754.5h1.001V758.2h1.001V764.7h1.001V764.2h1.001V768.2h1.001V769.2h1.001V772.2h1.001V768.3h1.001V771.7h1.001V775.1h1.001V773.6h1.001V780.3h1.001V783.5h1.001V777.5h1.001V784.3h1.001V788.7h1.001V785.9h1.001V783.4h1.001V783.3h1.001V779.8h1.001V772.5h1.001V780.9h1.001V773.2h1.001V781.7h1.001V782.7h1.001V785.0h1.001V782.0h1.001V781.8h1.001V775.3h1.001V776.2h1.001V780.9h1.001V787.7h1.001V788.9h1.001V765.3h1.001V793.0h1.001V786.0h1.001V789.6h1.001V791.4h1.001V784.7h1.001V790.0h1.001V776.5h1.001V786.6h1.001V788.6h1.001V788.0h1.001V782.5h1.001V785.0h1.001V782.8h1.001V786.4h1.001V792.2h1.001V748.2h1.001V794.6h1.001V773.8h1.001V791.7h1.001V783.0h1.001V786.6h1.001V784.9h1.001V794.8h1.001V787.2h1.001V785.6h1.001V791.1h1.001V796.6h1.001V792.2h1.001V777.5h1.001V784.5h1.001V797.4h1.001V792.4h1.001V795.4h1.001V791.5h1.001V789.9h1.001V790.4h1.001V796.2h1.001V788.9h1.001V788.7h1.001V785.3h1.001V790.4h1.001V791.8h1.001V789.1h1.001V791.9h1.001V790.6h1.001V793.6h1.001V794.4h1.001V795.6h1.001V796.2h1.001V796.3h1.001V799.8h1.001V789.1h1.001V798.7h1.001V799.1h1.001V793.7h1.001V793.6h1.001V781.0h1.001V753.1h1.001V791.6h1.001V796.4h1.001V795.2h1.001V795.2h1.001V797.2h1.001V783.2h1.001V792.7h1.001V797.1h1.001V784.1h1.001V791.5h1.001V804.0h1.001V792.6h1.001V798.7h1.001V772.1h1.001V790.8h1.001V787.1h1.001V794.1h1.001V799.2h1.001V785.4h1.001V791.0h1.001V801.2h1.001V801.5h1.001V797.1h1.001V800.1h1.001V796.9h1.001V793.9h1.001V787.7h1.001V784.1h1.001V793.5h1.001V792.6h1.001V791.8h1.001V793.0h1.001V795.1h1.001V800.9h1.001V802.7h1.001V793.3h1.001V797.7h1.001V804.6h1.001V803.7h1.001V766.7h1.001V797.0h1.001V793.7h1.001V801.3h1.001V793.9h1.001V770.0h1.001V799.5h1.001V799.4h1.001V785.3h1.001V800.0h1.001V789.7h1.001V797.5h1.001V794.1h1.001V795.6h1.001V799.2h1.001V799.6h1.001V800.0h1.001V798.0h1.001V794.2h1.001V794.7h1.001V797.1h1.001V790.4h1.001V753.9h1.001V772.6h1.001V766.3h1.001V803.2h1.001V801.9h1.001V799.8h1.001V798.1h1.001V782.1h1.001V740.9h1.001V793.4h1.001V794.1h1.001V796.7h1.001V799.2h1.001V800.1h1.001V796.0h1.001V804.2h1.001V801.2h1.001V803.8h1.001V795.0h1.001V799.9h1.001V801.7h1.001V796.6h1.001V795.8h1.001V802.4h1.001V797.3h1.001V798.6h1.001V765.0h1.001V803.5h1.001V799.1h1.001V801.1h1.001V803.2h1.001V797.5h1.001V801.7h1.001V791.7h1.001V804.1h1.001V803.5h1.001V799.5h1.001V804.0h1.001V792.6h1.001V789.0h1.001V796.1h1.001V792.9h1.001V800.7h1.001V796.9h1.001V799.5h1.001V799.3h1.001V795.2h1.001V791.6h1.001V799.8h1.001V796.7h1.001V802.5h1.001V745.6h1.001V801.7h1.001V793.9h1.001V799.3h1.001V804.2h1.001V802.8h1.001V801.8h1.001V797.1h1.001V801.0h1.001V800.9h1.001V795.5h1.001V801.7h1.001V797.1h1.001V800.0h1.001V801.7h1.001V790.6h1.001V784.6h1.001V794.3h1.001V799.1h1.001V804.8h1.001V807.5h1.001V797.2h1.001V801.6h1.001V802.5h1.001V800.3h1.001V775.3h1.001V802.4h1.001V802.4h1.001V806.2h1.001V809.6h1.001V805.0h1.001V808.6h1.001V803.6h1.001V802.0h1.001V804.5h1.001V806.5h1.001V797.2h1.001V803.2h1.001V807.6h1.001V799.8h1.001V805.2h1.001V804.1h1.001V802.7h1.001V807.1h1.001V806.4h1.001V805.7h1.001V799.4h1.001V805.1h1.001V802.0h1.001V801.3h1.001V800.0h1.001V794.1h1.001V802.7h1.001V795.6h1.001V800.2h1.001V806.9h1.001V808.4h1.001V804.8h1.001V806.4h1.001V806.3h1.001V791.8h1.001V809.1h1.001V797.5h1.001V797.0h1.001V803.5h1.001V808.0h1.001V811.3h1.001V794.9h1.001V803.5h1.001V804.6h1.001V807.7h1.001V746.5h1.001V805.6h1.001V804.9h1.001V810.0h1.001V805.5h1.001V807.8h1.001V806.5h1.001V807.7h1.001V807.1h1.001V791.2h1.001V806.7h1.001V805.6h1.001V807.7h1.001V802.3h1.001V799.0h1.001V795.6h1.001V800.1h1.001V791.3h1.001V805.5h1.001V809.2h1.001V807.3h1.001V802.8h1.001V807.5h1.001V811.3h1.001V797.2h1.001V810.7h1.001V804.6h1.001V803.8h1.001V808.5h1.001V808.3h1.001V809.6h1.001V807.3h1.001V789.5h1.001V751.1h1.001V802.5h1.001V806.6h1.001V808.0h1.001V807.2h1.001V804.0h1.001V764.7h1.001V805.9h1.001V796.5h1.001V806.3h1.001V802.8h1.001V808.1h1.001V810.0h1.001V801.2h1.001V804.3h1.001V801.5h1.001V801.3h1.001V809.6h1.001V805.9h1.001V813.7h1.001V751.3h1.001V804.7h1.001V806.0h1.001V811.9h1.001V801.5h1.001V804.1h1.001V805.4h1.001V795.8h1.001V810.3h1.001V808.5h1.001V807.0h1.001V807.6h1.001V807.5h1.001V808.5h1.001V804.7h1.001V734.9h1.001V808.7h1.001V804.1h1.001V803.4h1.001V807.5h1.001V789.7h1.001V807.8h1.001V802.8h1.001V806.9h1.001V807.8h1.001V805.3h1.001V801.6h1.001V799.8h1.001V798.1h1.001V712.9h1.001V808.6h1.001V800.9h1.001V731.3h1.001V807.5h1.001V802.1h1.001V806.9h1.001V798.3h1.001V731.6h1.001V802.4h1.001V796.9h1.001V808.1h1.001V805.9h1.001V808.7h1.001V803.1h1.001V812.3h1.001V802.7h1.001V802.5h1.001V805.6h1.001V809.6h1.001V804.5h1.001V812.3h1.001V800.5h1.001V809.3h1.001V807.4h1.001V803.0h1.001V803.6h1.001V806.8h1.001V806.4h1.001V807.1h1.001V806.8h1.001V808.8h1.001V805.2h1.001V800.0h1.001V808.3h1.001V808.9h1.001V810.6h1.001V808.0h1.001V807.8h1.001V810.5h1.001V811.0h1.001V808.3h1.001V804.1h1.001V811.7h1.001V814.4h1.001V806.9h1.001V799.7h1.001V803.1h1.001V808.5h1.001V799.5h1.001V810.7h1.001V811.2h1.001V766.0h1.001V811.7h1.001V809.1h1.001V814.9h1.001V808.5h1.001V810.3h1.001V812.3h1.001V805.9h1.001V815.1h1.001V801.1h1.001V808.5h1.001V806.1h1.001V806.5h1.001V806.9h1.001V740.8h1.001V801.1h1.001V815.6h1.001V809.7h1.001V813.8h1.001V749.1h1.001V811.7h1.001V816.6h1.001V814.8h1.001V811.9h1.001V807.2h1.001V752.8h1.001V802.7h1.001V812.8h1.001V813.6h1.001V719.9h1.001V814.3h1.001V815.7h1.001V809.1h1.001V816.4h1.001V819.0h1.001V818.1h1.001V815.1h1.001V814.6h1.001V742.9h1.001V818.2h1.001V814.7h1.001V803.7h1.001V811.7h1.001V811.3h1.001V803.6h1.001V805.3h1.001V805.6h1.001V809.5h1.001V808.5h1.001V815.3h1.001V812.1h1.001V801.8h1.001V730.9h1.001V815.8h1.001V813.2h1.001V811.8h1.001V813.0h1.001V807.1h1.001V810.8h1.001V814.2h1.001V807.1h1.001V811.2h1.001V809.9h1.001V806.1h1.001V815.2h1.001V802.8h1.001V811.4h1.001V803.5h1.001V806.2h1.001V800.7h1.001V812.1h1.001V809.0h1.001V809.6h1.001V807.9h1.001V805.9h1.001V807.8h1.001V806.7h1.001V811.7h1.001V813.1h1.001V801.3h1.001V813.6h1.001V803.2h1.001V811.5h1.001V806.9h1.001V816.1h1.001V806.9h1.001V805.9h1.001V799.2h1.001V807.7h1.001V806.0h1.001V811.6h1.001V799.5h1.001V810.5h1.001V813.4h1.001V791.7h1.001V813.4h1.001V807.1h1.001V810.1h1.001V811.2h1.001V813.5h1.001V813.3h1.001V818.3h1.001V816.2h1.001V737.6h1.001V815.1h1.001V818.9h1.001V813.1h1.001V810.4h1.001V808.2h1.001V803.9h1.001V814.8h1.001V809.1h1.001V802.2h1.001V805.1h1.001V776.4h1.001V808.1h1.001V811.0h1.001V801.9h1.001V804.5h1.001V810.1h1.001V811.1h1.001V801.4h1.001V803.9h1.001V811.0h1.001V768.3h1.001V807.3h1.001V818.2h1.001V815.1h1.001V815.8h1.001V816.6h1.001V810.2h1.001V813.2h1.001V807.9h1.001V808.6h1.001V816.0h1.001V815.1h1.001V814.6h1.001V818.9h1.001V815.0h1.001V817.5h1.001V758.5h1.001V801.4h1.001V814.7h1.001V812.2h1.001V739.7h1.001V809.0h1.001V805.0h1.001V813.4h1.001V814.4h1.001V802.7h1.001V817.8h1.001V814.4h1.001V816.8h1.001V817.5h1.001V809.3h1.001V818.0h1.001V733.2h1.001V811.7h1.001V814.2h1.001V813.3h1.001V819.5h1.001V818.3h1.001V808.5h1.001V819.4h1.001V808.0h1.001V815.5h1.001V801.5h1.001V813.3h1.001V814.7h1.001V817.7h1.001V813.9h1.001V810.2h1.001V809.6h1.001V807.0h1.001V816.0h1.001V818.4h1.001V806.9h1.001V808.7h1.001V807.6h1.001V811.9h1.001V818.7h1.001V810.6h1.001V819.3h1.001V815.1h1.001V804.0h1.001V735.2h1.001V758.7h1.001V808.5h1.001V814.9h1.001V802.4h1.001V811.9h1.001V818.7h1.001V816.2h1.001V817.7h1.001V815.8h1.001V762.1h1.001V777.8h1.001V812.0h1.001V818.7h1.001V818.2h1.001V817.6h1.001V812.2h1.001V812.8h1.001V811.7h1.001V817.5h1.001V815.5h1.001V731.4h1.001V811.2h1.001V814.2h1.001V819.6h1.001V815.3h1.001V818.5h1.001V818.3h1.001V818.2h1.001V817.5h1.001V815.2h1.001V810.4h1.001V818.5h1.001V781.1h1.001V818.3h1.001V815.7h1.001V815.9h1.001V820.6h1.001V812.8h1.001V812.5h1.001V815.1h1.001V820.8h1.001V809.2h1.001V820.5h1.001V804.6h1.001V819.1h1.001V818.2h1.001V805.7h1.001V824.1h1.001V822.4h1.001V816.5h1.001V815.8h1.001V823.1h1.001V814.2h1.001V803.0h1.001V815.1h1.001V810.3h1.001V771.4h1.001V816.7h1.001V785.2h1.001V819.1h1.001V821.0h1.001V818.8h1.001V818.5h1.001V821.7h1.001V812.6h1.001V807.8h1.001V813.6h1.001V801.2h1.001V810.9h1.001V815.6h1.001V824.0h1.001V818.6h1.001V821.9h1.001V816.9h1.001V790.9h1.001V808.7h1.001V811.7h1.001V810.7h1.001V815.2h1.001V811.5h1.001V814.3h1.001V818.0h1.001V807.7h1.001V818.9h1.001V820.7h1.001V817.2h1.001V812.8h1.001V810.5h1.001V750.6h1.001V797.3h1.001V798.2h1.001V819.7h1.001V816.6h1.001V813.4h1.001V810.4h1.001V816.1h1.001V816.2h1.001V822.6h1.001V823.8h1.001V825.0h1.001V822.3h1.001V797.4h1.001V814.1h1.001V816.2h1.001V805.3h1.001V813.3h1.001V813.7h1.001V812.9h1.001V816.1h1.001V815.4h1.001V811.5h1.001V818.3h1.001V823.6h1.001V817.2h1.001V816.4h1.001V822.9h1.001V816.4h1.001V780.0h1.001V822.6h1.001V824.0h1.001V816.3h1.001V782.0h1.001V772.4h1.001V814.7h1.001V810.4h1.001V820.1h1.001V815.8h1.001V818.9h1.001V818.5h1.001V775.9h1.001V811.1h1.001V817.5h1.001V808.9h1.001V816.9h1.001V818.1h1.001V819.8h1.001V817.5h1.001V817.0h1.001V819.6h1.001V805.9h1.001V814.5h1.001V810.8h1.001V807.7h1.001V817.9h1.001V743.6h1.001V807.2h1.001V816.9h1.001V764.5h1.001V819.9h1.001V822.3h1.001V813.7h1.001V818.4h1.001V808.4h1.001V812.5h1.001V775.0h1.001V823.8h1.001V812.1h1.001V820.1h1.001V822.2h1.001V818.5h1.001V817.3h1.001V807.0h1.001V817.5h1.001V814.2h1.001V820.7h1.001V815.4h1.001V819.5h1.001V820.7h1.001V798.5h1.001V814.2h1.001V816.2h1.001V765.2h1.001V811.4h1.001V818.2h1.001V817.8h1.001V811.3h1.001V813.9h1.001V820.3h1.001V820.8h1.001V816.0h1.001V824.1h1.001V803.0h1.001V820.7h1.001V819.7h1.001V805.6h1.001V818.1h1.001V807.0h1.001V799.9h1.001V817.9h1.001V810.8h1.001V808.6h1.001V819.3h1.001V819.7h1.001V790.9h1.001V819.9h1.001V824.6h1.001V818.5h1.001V822.4h1.001V819.5h1.001V815.0h1.001V802.2h1.001V820.0h1.001V819.6h1.001V817.9h1.001V814.3h1.001V807.9h1.001V819.9h1.001V808.0h1.001V824.5h1.001V805.6h1.001V822.2h1.001V821.3h1.001V819.2h1.001V807.3h1.001V815.5h1.001V784.3h1.001V817.6h1.001V820.5h1.001V817.2h1.001V814.9h1.001V816.2h1.001V815.3h1.001V824.7h1.001V826.2h1.001V817.6h1.001V820.3h1.001V813.0h1.001V813.5h1.001V816.1h1.001V808.0h1.001V776.9h1.001V822.4h1.001V824.4h1.001V809.3h1.001V825.9h1.001V742.9h1.001V818.7h1.001V826.3h1.001V786.4h1.001V825.7h1.001V825.2h1.001V817.3h1.001V815.2h1.001V817.3h1.001V821.7h1.001V822.8h1.001V816.5h1.001V824.2h1.001V826.1h1.001V818.5h1.001V821.0h1.001V830.9h1.001V827.7h1.001V826.4h1.001V751.0h1.001V822.1h1.001V819.4h1.001V810.2h1.001V825.2h1.001V813.9h1.001V824.7h1.001V823.6h1.001V824.8h1.001V825.5h1.001V817.4h1.001V818.0h1.001V809.4h1.001V819.8h1.001V824.1h1.001V812.5h1.001V816.2h1.001V820.7h1.001V813.9h1.001V814.5h1.001V810.7h1.001V818.8h1.001V821.1h1.001V820.9h1.001V772.2h1.001V825.4h1.001V819.1h1.001V823.7h1.001V818.9h1.001V825.7h1.001V826.2h1.001V826.4h1.001V825.8h1.001V823.6h1.001V813.3h1.001V813.6h1.001V801.6h1.001V818.3h1.001V821.2h1.001V818.1h1.001V824.8h1.001V825.1h1.001V829.2h1.001V828.6h1.001V827.8h1.001V823.5h1.001V819.6h1.001V821.1h1.001V829.6h1.001V822.4h1.001V820.7h1.001V827.2h1.001V825.3h1.001V821.4h1.001V824.5h1.001V750.7h1.001V818.9h1.001V818.7h1.001V814.0h1.001V775.6h1.001V821.7h1.001V827.2h1.001V826.0h1.001V826.8h1.001V825.5h1.001V827.3h1.001V825.7h1.001V771.6h1.001V833.7h1.001V824.4h1.001V820.9h1.001V829.3h1.001V819.2h1.001V822.9h1.001V821.6h1.001V826.6h1.001V825.1h1.001V826.5h1.001V823.6h1.001V827.6h1.001V820.7h1.001V820.1h1.001V828.4h1.001V816.8h1.001V827.1h1.001V827.3h1.001V830.8h1.001V823.8h1.001V826.2h1.001V829.8h1.001V809.9h1.001V824.5h1.001V819.7h1.001V826.3h1.001V826.9h1.001V828.9h1.001V827.0h1.001V826.5h1.001V829.3h1.001V824.0h1.001V816.7h1.001V829.1h1.001V803.7h1.001V826.4h1.001V831.6h1.001V829.5h1.001V831.9h1.001V829.9h1.001V830.8h1.001V824.9h1.001V820.6h1.001V826.2h1.001V821.2h1.001V801.0h1.001V817.8h1.001V824.4h1.001V804.4h1.001V817.8h1.001V820.5h1.001V833.7h1.001V824.2h1.001V832.8h1.001V830.1h1.001V831.8h1.001V827.4h1.001V827.6h1.001V786.7h1.001V828.9h1.001V825.3h1.001V826.4h1.001V825.1h1.001V831.1h1.001V826.6h1.001V826.5h1.001V822.4h1.001V798.2h1.001V823.8h1.001V828.8h1.001V830.6h1.001V792.9h1.001V817.6h1.001V813.9h1.001V826.1h1.001V825.3h1.001V823.5h1.001V816.7h1.001V820.8h1.001V788.3h1.001V834.2h1.001V827.9h1.001V825.4h1.001V826.5h1.001V829.8h1.001V825.7h1.001V821.8h1.001V831.8h1.001V818.7h1.001V828.7h1.001V828.5h1.001V836.0h1.001V834.0h1.001V838.2h1.001V833.1h1.001V832.1h1.001V776.7h1.001V832.6h1.001V770.7h1.001V783.2h1.001V811.8h1.001V837.1h1.001V830.9h1.001V836.1h1.001V831.9h1.001V803.9h1.001V831.1h1.001V837.3h1.001V837.1h1.001V830.8h1.001V844.8h1.001V833.2h1.001V837.0h1.001V843.2h1.001V842.8h1.001V829.0h1.001V833.9h1.001V842.7h1.001V846.2h1.001V846.2h1.001V848.2h1.001V849.7h1.001V842.9h1.001V852.2h1.001V841.0h1.001V849.8h1.001V848.4h1.001V852.1h1.001V854.4h1.001V852.2h1.001V862.5h1.001V862.5h1.001V867.8h1.001V868.8h1.001V871.1h1.001V870.0h1.001V880.4z" fill="#0c76b6" filter="url(#hb)"/>
<path d="M141.4 880.4L141.4 752.6L144.4 777.7L147.4 795.0L150.4 806.5L153.4 818.0L156.4 829.4L159.4 837.9L162.4 839.2L165.4 840.5L168.4 841.8L171.4 843.1L174.4 844.4L177.4 845.7L180.4 846.5L183.4 846.9L186.4 847.3L189.4 847.7L192.4 848.1L195.4 848.4L198.4 848.8L201.5 849.2L204.5 849.6L207.5 849.9L210.5 850.0L213.5 850.2L216.5 850.4L219.5 850.6L222.5 850.8L225.5 851.0L228.5 851.2L231.5 851.4L234.5 851.6L237.5 851.8L240.5 852.0L243.5 852.2L246.5 852.3L249.5 852.5L252.5 852.6L255.5 852.6L258.5 852.7L261.5 852.8L264.5 852.8L267.5 852.9L270.5 853.0L273.5 853.0L276.5 853.1L279.5 853.2L282.5 853.2L285.5 853.3L288.5 853.4L291.5 853.4L294.5 853.5L297.5 853.6L300.5 853.6L303.5 853.7L306.5 853.8L309.5 853.8L312.5 853.9L315.5 854.0L318.5 854.0L321.6 854.1L324.6 854.2L327.6 854.2L330.6 854.3L333.6 854.4L336.6 854.4L339.6 854.5L342.6 854.6L345.6 854.6L348.6 854.7L351.6 854.8L354.6 854.8L357.6 854.9L360.6 855.0L363.6 855.0L366.6 855.1L369.6 855.2L372.6 855.2L375.6 855.3L378.6 855.4L381.6 855.4L384.6 855.5L387.6 855.6L390.6 855.6L393.6 855.7L396.6 855.8L399.6 855.8L402.6 855.9L405.6 856.0L408.6 856.0L411.6 856.1L414.6 856.2L417.6 856.2L420.6 856.3L423.6 856.4L426.6 856.4L429.6 856.5L432.6 856.6L435.6 856.6L438.6 856.7L441.7 856.8L444.7 856.8L447.7 856.9L450.7 857.0L453.7 857.0L456.7 857.1L459.7 857.2L462.7 857.2L465.7 857.3L468.7 857.3L471.7 857.4L474.7 857.4L477.7 857.5L480.7 857.5L483.7 857.6L486.7 857.6L489.7 857.7L492.7 857.7L495.7 857.8L498.7 857.8L501.7 857.9L504.7 857.9L507.7 858.0L510.7 858.0L513.7 858.0L516.7 858.1L519.7 858.1L522.7 858.2L525.7 858.2L528.7 858.3L531.7 858.3L534.7 858.4L537.7 858.4L540.7 858.5L543.7 858.5L546.7 858.6L549.7 858.6L552.7 858.7L555.7 858.7L558.8 858.8L561.8 858.8L564.8 858.9L567.8 858.9L570.8 859.0L573.8 859.0L576.8 859.1L579.8 859.1L582.8 859.1L585.8 859.2L588.8 859.2L591.8 859.3L594.8 859.3L597.8 859.4L600.8 859.4L603.8 859.5L606.8 859.5L609.8 859.6L612.8 859.6L615.8 859.7L618.8 859.7L621.8 859.8L624.8 859.8L627.8 859.9L630.8 859.9L633.8 860.0L636.8 860.0L639.8 860.1L642.8 860.1L645.8 860.2L648.8 860.2L651.8 860.2L654.8 860.3L657.8 860.3L660.8 860.4L663.8 860.4L666.8 860.5L669.8 860.5L672.8 860.6L675.8 860.6L678.9 860.7L681.9 860.7L684.9 860.7L687.9 860.8L690.9 860.8L693.9 860.8L696.9 860.8L699.9 860.9L702.9 860.9L705.9 860.9L708.9 861.0L711.9 861.0L714.9 861.0L717.9 861.1L720.9 861.1L723.9 861.1L726.9 861.2L729.9 861.2L732.9 861.2L735.9 861.2L738.9 861.3L741.9 861.3L744.9 861.3L747.9 861.4L750.9 861.4L753.9 861.4L756.9 861.5L759.9 861.5L762.9 861.5L765.9 861.6L768.9 861.6L771.9 861.6L774.9 861.6L777.9 861.7L780.9 861.7L783.9 861.7L786.9 861.8L789.9 861.8L792.9 861.8L796.0 861.9L799.0 861.9L802.0 861.9L805.0 861.9L808.0 862.0L811.0 862.0L814.0 862.0L817.0 862.1L820.0 862.1L823.0 862.1L826.0 862.2L829.0 862.2L832.0 862.2L835.0 862.3L838.0 862.3L841.0 862.3L844.0 862.3L847.0 862.4L850.0 862.4L853.0 862.4L856.0 862.5L859.0 862.5L862.0 862.5L865.0 862.6L868.0 862.6L871.0 862.6L874.0 862.7L877.0 862.7L880.0 862.7L883.0 862.7L886.0 862.8L889.0 862.8L892.0 862.8L895.0 862.9L898.0 862.9L901.0 862.9L904.0 863.0L907.0 863.0L910.0 863.0L913.0 863.1L916.1 863.1L919.1 863.1L922.1 863.1L925.1 863.2L928.1 863.2L931.1 863.2L934.1 863.3L937.1 863.3L940.1 863.3L943.1 863.4L946.1 863.4L949.1 863.4L952.1 863.5L955.1 863.5L958.1 863.6L961.1 863.6L964.1 863.7L967.1 863.7L970.1 863.8L973.1 863.8L976.1 863.8L979.1 863.9L982.1 863.9L985.1 864.0L988.1 864.0L991.1 864.1L994.1 864.1L997.1 864.2L1000.1 864.2L1003.1 864.2L1006.1 864.3L1009.1 864.3L1012.1 864.4L1015.1 864.4L1018.1 864.5L1021.1 864.5L1024.1 864.6L1027.1 864.6L1030.1 864.6L1033.1 864.7L1036.2 864.7L1039.2 864.8L1042.2 864.8L1045.2 864.9L1048.2 864.9L1051.2 865.0L1054.2 865.0L1057.2 865.0L1060.2 865.1L1063.2 865.1L1066.2 865.2L1069.2 865.2L1072.2 865.3L1075.2 865.3L1078.2 865.4L1081.2 865.4L1084.2 865.5L1087.2 865.5L1090.2 865.5L1093.2 865.6L1096.2 865.6L1099.2 865.7L1102.2 865.7L1105.2 865.8L1108.2 865.9L1111.2 866.0L1114.2 866.1L1117.2 866.2L1120.2 866.3L1123.2 866.4L1126.2 866.5L1129.2 866.6L1132.2 866.7L1135.2 866.8L1138.2 866.9L1141.2 867.0L1144.2 867.1L1147.2 867.2L1150.2 867.3L1153.3 867.5L1156.3 867.6L1159.3 867.7L1162.3 867.8L1165.3 868.0L1168.3 868.4L1171.3 868.7L1174.3 869.0L1177.3 869.4L1180.3 869.7L1183.3 870.0L1186.3 870.6L1189.3 871.4L1192.3 872.1L1195.3 872.9L1198.3 873.7L1201.3 874.6L1204.3 876.1L1207.3 877.7L1210.3 879.2L1212.3 879.7V880.4z" fill="#f6e232"/>
</g>
<rect x="141.4" y="539.7" width="1070.9" height="340.7" fill="none" stroke="#222" stroke-width="1.6"/>
<text x="138.1" y="550.6" font-size="27.3" text-anchor="end">1.00</text>
<text x="138.1" y="634.0" font-size="27.3" text-anchor="end">0.75</text>
<text x="138.1" y="718.4" font-size="27.3" text-anchor="end">0.50</text>
<text x="138.1" y="805.0" font-size="27.3" text-anchor="end">0.25</text>
<text x="138.1" y="886.2" font-size="27.3" text-anchor="end">0.00</text>
<text x="62.5" y="684.0" font-size="29" text-anchor="middle" transform="rotate(-90 62.5 684.0)">Fraction of abundance</text>
<text x="0.3" y="520.5" font-size="33.5" font-weight="bold">b</text>
<rect x="1250.3" y="632.8" width="26.4" height="26.2" fill="#d9640f"/>
<text x="1281.5" y="658.9" font-size="29">SC</text>
<rect x="1250.3" y="666.6" width="26.4" height="26.2" fill="#cd7dab"/>
<text x="1281.5" y="692.7" font-size="29">SU</text>
<rect x="1250.3" y="700.4" width="26.4" height="26.2" fill="#f6e232"/>
<text x="1281.5" y="726.5" font-size="29">NH</text>
<rect x="1250.3" y="734.2" width="26.4" height="26.2" fill="#0c76b6"/>
<text x="1281.5" y="760.3" font-size="29">RH</text>
<path d="M1516.5 813.1H2045.6M1516.5 730.9H2045.6M1516.5 648.6H2045.6M1516.5 566.4H2045.6" stroke="#e3e3e3" stroke-width="1.3" fill="none"/>
<path d="M1615.1 509.5V870.3M1781.4 509.5V870.3M1947.0 509.5V870.3M1516.5 854.2H2045.6M1516.5 772.0H2045.6M1516.5 689.8H2045.6M1516.5 607.5H2045.6M1516.5 525.3H2045.6" stroke="#e3e3e3" stroke-width="2.4" fill="none"/>
<line x1="1562.0" y1="525.3" x2="1562.0" y2="581.6" stroke="#222" stroke-width="2.0"/>
<line x1="1562.0" y1="655.9" x2="1562.0" y2="766.7" stroke="#222" stroke-width="2.0"/>
<rect x="1548.8" y="581.6" width="26.3" height="74.4" fill="#d8620a" stroke="#222" stroke-width="2.0"/>
<line x1="1548.8" y1="620.9" x2="1575.1" y2="620.9" stroke="#222" stroke-width="2.6"/>
<line x1="1588.5" y1="525.3" x2="1588.5" y2="568.4" stroke="#222" stroke-width="2.0"/>
<line x1="1588.5" y1="627.3" x2="1588.5" y2="715.5" stroke="#222" stroke-width="2.0"/>
<rect x="1575.4" y="568.4" width="26.3" height="58.9" fill="#cd7cab" stroke="#222" stroke-width="2.0"/>
<line x1="1575.4" y1="600.1" x2="1601.7" y2="600.1" stroke="#222" stroke-width="2.6"/>
<line x1="1615.1" y1="525.3" x2="1615.1" y2="563.0" stroke="#222" stroke-width="2.0"/>
<line x1="1615.1" y1="612.2" x2="1615.1" y2="684.5" stroke="#222" stroke-width="2.0"/>
<rect x="1602.0" y="563.0" width="26.3" height="49.1" fill="#0b76b6" stroke="#222" stroke-width="2.0"/>
<line x1="1602.0" y1="587.9" x2="1628.3" y2="587.9" stroke="#222" stroke-width="2.6"/>
<line x1="1641.7" y1="525.3" x2="1641.7" y2="556.6" stroke="#222" stroke-width="2.0"/>
<line x1="1641.7" y1="602.4" x2="1641.7" y2="670.1" stroke="#222" stroke-width="2.0"/>
<rect x="1628.6" y="556.6" width="26.3" height="45.8" fill="#f6e232" stroke="#222" stroke-width="2.0"/>
<line x1="1628.6" y1="579.2" x2="1654.9" y2="579.2" stroke="#222" stroke-width="2.6"/>
<line x1="1668.3" y1="525.3" x2="1668.3" y2="528.7" stroke="#222" stroke-width="2.0"/>
<line x1="1668.3" y1="539.1" x2="1668.3" y2="552.9" stroke="#222" stroke-width="2.0"/>
<rect x="1655.2" y="528.7" width="26.3" height="10.4" fill="#cc935c" stroke="#222" stroke-width="2.0"/>
<line x1="1655.2" y1="533.1" x2="1681.5" y2="533.1" stroke="#222" stroke-width="2.6"/>
<line x1="1728.2" y1="570.1" x2="1728.2" y2="686.6" stroke="#222" stroke-width="2.0"/>
<line x1="1728.2" y1="765.0" x2="1728.2" y2="854.2" stroke="#222" stroke-width="2.0"/>
<rect x="1715.1" y="686.6" width="26.3" height="78.4" fill="#d8620a" stroke="#222" stroke-width="2.0"/>
<line x1="1715.1" y1="732.7" x2="1741.4" y2="732.7" stroke="#222" stroke-width="2.6"/>
<line x1="1754.8" y1="558.3" x2="1754.8" y2="682.9" stroke="#222" stroke-width="2.0"/>
<line x1="1754.8" y1="766.3" x2="1754.8" y2="854.2" stroke="#222" stroke-width="2.0"/>
<rect x="1741.7" y="682.9" width="26.3" height="83.5" fill="#cd7cab" stroke="#222" stroke-width="2.0"/>
<line x1="1741.7" y1="732.7" x2="1768.0" y2="732.7" stroke="#222" stroke-width="2.6"/>
<line x1="1781.4" y1="546.5" x2="1781.4" y2="667.7" stroke="#222" stroke-width="2.0"/>
<line x1="1781.4" y1="749.8" x2="1781.4" y2="854.2" stroke="#222" stroke-width="2.0"/>
<rect x="1768.3" y="667.7" width="26.3" height="82.1" fill="#0b76b6" stroke="#222" stroke-width="2.0"/>
<line x1="1768.3" y1="715.8" x2="1794.6" y2="715.8" stroke="#222" stroke-width="2.6"/>
<line x1="1808.0" y1="536.4" x2="1808.0" y2="656.6" stroke="#222" stroke-width="2.0"/>
<line x1="1808.0" y1="737.4" x2="1808.0" y2="854.2" stroke="#222" stroke-width="2.0"/>
<rect x="1794.8" y="656.6" width="26.3" height="80.8" fill="#f6e232" stroke="#222" stroke-width="2.0"/>
<line x1="1794.8" y1="702.7" x2="1821.1" y2="702.7" stroke="#222" stroke-width="2.6"/>
<line x1="1834.6" y1="525.3" x2="1834.6" y2="579.2" stroke="#222" stroke-width="2.0"/>
<line x1="1834.6" y1="656.6" x2="1834.6" y2="772.1" stroke="#222" stroke-width="2.0"/>
<rect x="1821.4" y="579.2" width="26.3" height="77.4" fill="#cc935c" stroke="#222" stroke-width="2.0"/>
<line x1="1821.4" y1="616.9" x2="1847.7" y2="616.9" stroke="#222" stroke-width="2.6"/>
<line x1="1893.8" y1="785.5" x2="1893.8" y2="795.3" stroke="#222" stroke-width="2.0"/>
<line x1="1893.8" y1="816.8" x2="1893.8" y2="828.9" stroke="#222" stroke-width="2.0"/>
<rect x="1880.7" y="795.3" width="26.3" height="21.5" fill="#d8620a" stroke="#222" stroke-width="2.0"/>
<line x1="1880.7" y1="805.7" x2="1907.0" y2="805.7" stroke="#222" stroke-width="2.6"/>
<line x1="1920.4" y1="765.3" x2="1920.4" y2="792.6" stroke="#222" stroke-width="2.0"/>
<line x1="1920.4" y1="814.5" x2="1920.4" y2="831.6" stroke="#222" stroke-width="2.0"/>
<rect x="1907.3" y="792.6" width="26.3" height="21.9" fill="#cd7cab" stroke="#222" stroke-width="2.0"/>
<line x1="1907.3" y1="804.7" x2="1933.6" y2="804.7" stroke="#222" stroke-width="2.6"/>
<line x1="1947.0" y1="755.9" x2="1947.0" y2="784.5" stroke="#222" stroke-width="2.0"/>
<line x1="1947.0" y1="810.4" x2="1947.0" y2="823.2" stroke="#222" stroke-width="2.0"/>
<rect x="1933.9" y="784.5" width="26.3" height="25.9" fill="#0b76b6" stroke="#222" stroke-width="2.0"/>
<line x1="1933.9" y1="792.3" x2="1960.2" y2="792.3" stroke="#222" stroke-width="2.6"/>
<line x1="1973.6" y1="727.3" x2="1973.6" y2="768.0" stroke="#222" stroke-width="2.0"/>
<line x1="1973.6" y1="802.4" x2="1973.6" y2="805.4" stroke="#222" stroke-width="2.0"/>
<rect x="1960.4" y="768.0" width="26.3" height="34.3" fill="#f6e232" stroke="#222" stroke-width="2.0"/>
<line x1="1960.4" y1="776.8" x2="1986.7" y2="776.8" stroke="#222" stroke-width="2.6"/>
<line x1="2000.2" y1="651.6" x2="2000.2" y2="708.4" stroke="#222" stroke-width="2.0"/>
<line x1="2000.2" y1="767.3" x2="2000.2" y2="854.2" stroke="#222" stroke-width="2.0"/>
<rect x="1987.0" y="708.4" width="26.3" height="58.9" fill="#cc935c" stroke="#222" stroke-width="2.0"/>
<line x1="1987.0" y1="734.7" x2="2013.3" y2="734.7" stroke="#222" stroke-width="2.6"/>
<rect x="1516.5" y="509.5" width="529.1" height="360.8" fill="none" stroke="#333" stroke-width="1.4"/>
<path d="M1615.1 870.3v4M1781.4 870.3v4M1947.0 870.3v4" stroke="#333" stroke-width="1.3" fill="none"/>
<path d="M1516.5 854.2h-4M1516.5 772.0h-4M1516.5 689.8h-4M1516.5 607.5h-4M1516.5 525.3h-4" stroke="#333" stroke-width="1.3" fill="none"/>
<text x="1512.0" y="535.5" font-size="27.5" text-anchor="end">1.00</text>
<text x="1512.0" y="617.7" font-size="27.5" text-anchor="end">0.75</text>
<text x="1512.0" y="700.0" font-size="27.5" text-anchor="end">0.50</text>
<text x="1512.0" y="782.2" font-size="27.5" text-anchor="end">0.25</text>
<text x="1512.0" y="864.4" font-size="27.5" text-anchor="end">0.00</text>
<text x="1437.5" y="688.0" font-size="29" text-anchor="middle" transform="rotate(-90 1437.5 688.0)">Bray-Curtis dissimilarity</text>
<text x="1378.0" y="520.6" font-size="33.5" font-weight="bold">c</text>
<text x="1615.3" y="900.0" font-size="29" text-anchor="middle">between</text>
<text x="1615.3" y="934.7" font-size="29" text-anchor="middle">subjects</text>
<text x="1790.0" y="900.0" font-size="29" text-anchor="middle">within</text>
<text x="1790.0" y="934.7" font-size="29" text-anchor="middle">subjects</text>
<text x="1954.0" y="900.0" font-size="29" text-anchor="middle">technical</text>
<text x="1954.0" y="934.7" font-size="29" text-anchor="middle">replicates</text>
<rect x="1615.3" y="962.0" width="26.4" height="25.5" fill="#cd925a"/>
<text x="1657.3" y="985.3" font-size="29">Strong homology to known</text>
<text x="1657.3" y="1020.0" font-size="29">characterized proteins (rare)</text>
<rect x="138.5" y="900.5" width="336.0" height="30.9" fill="#fff" stroke="#111" stroke-width="1.6"/>
<text x="300.5" y="927.2" font-size="29" text-anchor="middle">SC</text>
<clipPath id="cd0"><rect x="138.5" y="931.4" width="336.0" height="387.2"/></clipPath>
<g clip-path="url(#cd0)">
<path d="M190.7 931.4V1318.6M271.4 931.4V1318.6M352.1 931.4V1318.6M432.8 931.4V1318.6M138.5 1257.1H474.5M138.5 1169.1H474.5M138.5 1081.1H474.5M138.5 993.1H474.5" stroke="#e3e3e3" stroke-width="1.3" fill="none"/>
<path d="M150.3 931.4V1318.6M231.0 931.4V1318.6M311.7 931.4V1318.6M392.4 931.4V1318.6M473.1 931.4V1318.6M138.5 1301.1H474.5M138.5 1213.1H474.5M138.5 1125.1H474.5M138.5 1037.1H474.5M138.5 949.1H474.5" stroke="#e3e3e3" stroke-width="2.4" fill="none"/>
<path d="M154.3 1299.1L208.0 1298.0L187.4 1299.7L197.0 1297.6L212.8 1294.1L225.4 1288.8L237.1 1283.5L242.1 1276.5L249.6 1265.9L254.4 1248.3L259.6 1230.7L266.1 1213.1L275.4 1195.5L283.9 1177.9L291.9 1160.3L296.9 1146.2L297.7 1146.2L298.7 1160.3L298.1 1177.9L297.2 1195.5L295.5 1213.1L291.8 1230.7L286.7 1248.3L279.1 1265.9L272.6 1276.5L266.5 1283.5L260.1 1288.8L250.2 1294.1L237.9 1297.6L221.8 1299.7L256.4 1303.6L154.3 1303.6z" fill="#000" fill-opacity="0.93" stroke="#000" stroke-opacity="0.6" stroke-width="3" stroke-linejoin="round"/>
<g transform="translate(138.5 931.4) scale(.5)" fill="none" stroke="#000" stroke-width="15.2" stroke-linecap="round" opacity="1">
<path d="M295 646h0M388 150h0M235 687h0M253 610h0M263 530h0M184 720h0M281 561h0M466 48h0M428 35h0M556 41h0M199 718h0M433 122h0M342 499h0M282 591h0M342 320h0M352 284h0M366 281h0M48 739h0M299 555h0M446 59h0M356 319h0M225 629h0M314 631h0M305 706h0M400 263h0M154 724h0M326 507h0M321 486h0M291 671h0M193 728h0M376 147h0M274 584h0M184 715h0M301 569h0M328 582h0M357 349h0M344 470h0M356 367h0M330 611h0M311 532h0M253 597h0M111 737h0M292 642h0M460 71h0M241 694h0M266 678h0M283 581h0M374 116h0M439 254h0M258 636h0M103 737h0M300 492h0M224 674h0M298 684h0M347 470h0M303 476h0M328 515h0M289 664h0M447 41h0M157 731h0M362 454h0M325 549h0M317 429h0M337 448h0M307 589h0M320 550h0M321 298h0M220 670h0M336 363h0M330 270h0M277 661h0M224 704h0M434 41h0M271 696h0M263 576h0M158 726h0M267 556h0M420 54h0M364 380h0M326 331h0M303 595h0M152 739h0M339 539h0M235 664h0M402 143h0M312 606h0M467 45h0M199 716h0M261 501h0M137 733h0M427 49h0M308 604h0M210 701h0M293 566h0M309 515h0M318 643h0M114 738h0M281 596h0M308 560h0M544 52h0M240 642h0M368 115h0M239 611h0M326 423h0M432 541h0M269 517h0M373 324h0M286 606h0M290 563h0M345 387h0M340 420h0M462 54h0M311 519h0M365 299h0M287 605h0M337 246h0M305 426h0M293 639h0M300 669h0M276 567h0M341 686h0M204 730h0M455 47h0M308 549h0M275 575h0M324 519h0M261 704h0M283 669h0M259 593h0M76 739h0M335 668h0M258 663h0M422 174h0M271 545h0M265 561h0M348 340h0M214 730h0M346 644h0M313 523h0M408 89h0M298 695h0M456 68h0M204 689h0M303 392h0M242 701h0M233 630h0M327 631h0M256 687h0M247 637h0M274 715h0M337 575h0M456 47h0M430 137h0M381 393h0M405 345h0M300 536h0M476 77h0M405 50h0M381 309h0M478 58h0M342 543h0M35 737h0M303 434h0M221 702h0M247 614h0M133 739h0M427 85h0M303 601h0M365 106h0M224 702h0M409 212h0M328 515h0M329 515h0M130 727h0M215 713h0M386 412h0M273 524h0M402 308h0M509 69h0M267 665h0M61 739h0M464 42h0M308 597h0M75 739h0M400 112h0M307 575h0M400 72h0M176 712h0M280 552h0M309 506h0M339 302h0M34 739h0M330 524h0M287 545h0M425 97h0M526 513h0M364 524h0M256 561h0M293 559h0M352 616h0M75 737h0M503 53h0M267 698h0M258 656h0M213 696h0M504 65h0M460 51h0M293 608h0M252 738h0M239 597h0M360 117h0M417 60h0M264 679h0M286 594h0M260 634h0M314 568h0M337 658h0M272 686h0M274 629h0M385 209h0M343 343h0M409 76h0M519 140h0M289 681h0M364 297h0M293 538h0M490 43h0M359 489h0M339 470h0M414 531h0M105 735h0M321 213h0M221 707h0M387 299h0M254 627h0M426 45h0M340 389h0M216 703h0M284 701h0M324 493h0M385 200h0M322 367h0M444 98h0M196 715h0M195 706h0M354 506h0M248 591h0M334 332h0M212 730h0M272 657h0M260 701h0M354 651h0M469 61h0M127 731h0M246 675h0M208 723h0M443 48h0M412 102h0M227 723h0M150 728h0M276 607h0M425 77h0M350 654h0M265 600h0M321 432h0M226 642h0M319 608h0M313 546h0M290 598h0M365 458h0M42 739h0M330 408h0M317 468h0M266 688h0M411 50h0M493 46h0M300 681h0M306 521h0M453 72h0M354 610h0M276 688h0M174 723h0M325 530h0M329 261h0M282 646h0M214 701h0M346 214h0M289 512h0M288 632h0M372 190h0M281 541h0M338 417h0M208 678h0M402 58h0M200 731h0M389 165h0M334 234h0M375 50h0M298 521h0M338 427h0M295 536h0M395 506h0M370 298h0M355 363h0M393 170h0M331 424h0M316 535h0M229 679h0M388 490h0M395 534h0M311 462h0M346 561h0M251 711h0M170 731h0M262 681h0M271 697h0M355 475h0M222 685h0M259 732h0M262 683h0M134 736h0M353 463h0M305 527h0M311 545h0M259 539h0M233 613h0M440 82h0M270 713h0M299 564h0M294 682h0M244 661h0M487 352h0M498 44h0M477 108h0M298 669h0M248 738h0M275 570h0M346 471h0M252 586h0M412 49h0M433 551h0M403 54h0M386 257h0M314 514h0M283 578h0M331 538h0M295 585h0M425 35h0M210 728h0M136 735h0M465 80h0M182 721h0M40 737h0M176 728h0M248 601h0M333 567h0M320 410h0M453 53h0M264 631h0M273 545h0M299 656h0M350 248h0M306 572h0M327 357h0M154 719h0M283 623h0M270 688h0" stroke-opacity="0.42"/>
<path d="M373 138h0M322 559h0M466 52h0M473 83h0M285 642h0M383 486h0M279 610h0M155 736h0M258 665h0M217 686h0M302 448h0M303 358h0M322 422h0M351 359h0M222 698h0M297 570h0M355 321h0M312 642h0M298 615h0M320 534h0M156 725h0M191 729h0M285 636h0M333 489h0M368 367h0M489 113h0M426 55h0M301 610h0M414 71h0M322 380h0M285 557h0M312 586h0M333 396h0M311 591h0M127 734h0M242 698h0M135 730h0M253 580h0M289 383h0M272 624h0M316 559h0M296 674h0M308 517h0M60 739h0M311 536h0M277 562h0M82 739h0M255 607h0M385 263h0M272 599h0M260 692h0M311 432h0M111 737h0M124 735h0M419 101h0M290 602h0M140 732h0M342 253h0M292 534h0M298 455h0M412 44h0M309 590h0M321 482h0M468 46h0M410 236h0M293 373h0M350 467h0M337 371h0M309 351h0M415 54h0M218 672h0M330 476h0M374 472h0M276 603h0M340 672h0M469 55h0M223 717h0M137 738h0M237 637h0M280 515h0M223 641h0M314 644h0M290 498h0M372 580h0M248 707h0M134 738h0M466 61h0M250 705h0M243 675h0M371 163h0M241 667h0M261 689h0M367 50h0M148 730h0M347 489h0M203 723h0M234 672h0M349 320h0M86 738h0M394 135h0M261 585h0M398 145h0M304 642h0M474 64h0M374 115h0M339 406h0M279 571h0M327 537h0M292 534h0M262 602h0M448 77h0M542 57h0M155 735h0M171 718h0M376 302h0M312 530h0M319 575h0M338 536h0M460 35h0M332 669h0M404 84h0M426 57h0M358 268h0M328 412h0M201 730h0M456 48h0M233 618h0M300 476h0M370 274h0M312 481h0M247 659h0M337 379h0M140 736h0M291 552h0M380 472h0M341 643h0M296 537h0M318 466h0M359 148h0M265 555h0M343 682h0M228 689h0M361 347h0M450 61h0M300 446h0M335 296h0M399 362h0M385 537h0M255 680h0M110 738h0M403 109h0M83 737h0M331 605h0M272 624h0M312 672h0M539 54h0M255 653h0M277 615h0M283 656h0M437 66h0M249 612h0M284 570h0M112 734h0M283 599h0M408 96h0M392 45h0M44 737h0M338 214h0M298 564h0M299 480h0M472 468h0M243 620h0M314 628h0M279 570h0M357 271h0M256 603h0M230 673h0M317 556h0M216 710h0M230 712h0M269 536h0M130 738h0M337 628h0M340 607h0M400 61h0M171 710h0M256 606h0M388 445h0M58 738h0M323 445h0M423 666h0M262 519h0M306 377h0M400 333h0M327 625h0M363 314h0M287 529h0M324 297h0M209 683h0M175 731h0M323 283h0M456 63h0M227 699h0M367 166h0M153 730h0M74 737h0M382 204h0M316 517h0M74 739h0M265 684h0M470 307h0M349 564h0M301 516h0M131 733h0M374 508h0M388 153h0M328 432h0M357 547h0M336 483h0M334 356h0M410 142h0M51 737h0M329 621h0M295 432h0M376 457h0M211 719h0M84 737h0M358 589h0M444 54h0M354 211h0M390 446h0M142 726h0M417 514h0M316 390h0M306 530h0M59 739h0M237 604h0M235 680h0M408 253h0M164 728h0M308 578h0M246 606h0M417 91h0M256 617h0M267 715h0M288 507h0M350 531h0M334 668h0M222 713h0M289 667h0M273 636h0M310 492h0M415 35h0M334 466h0M227 659h0M262 703h0M292 562h0M220 713h0M178 703h0M327 460h0M303 508h0M91 737h0M293 557h0M290 707h0M328 639h0M399 173h0M310 538h0M275 593h0M224 713h0M274 666h0M434 135h0M379 538h0M302 561h0M346 469h0M406 76h0M260 569h0M404 157h0M318 535h0M73 737h0M316 269h0M328 614h0M147 729h0M460 46h0M226 729h0M411 82h0M367 323h0M172 738h0M226 692h0M258 635h0M387 481h0M343 566h0M302 576h0M312 688h0M160 722h0M397 180h0M208 716h0M395 119h0M194 722h0M154 733h0M368 383h0M310 501h0M509 35h0M287 665h0M350 678h0M513 44h0M334 523h0M439 53h0M300 564h0M337 541h0M459 44h0M320 559h0M445 42h0M182 710h0M220 703h0M99 738h0M303 628h0M294 691h0M352 478h0M201 696h0M445 51h0M253 711h0M404 314h0M358 401h0M485 62h0M304 570h0M314 433h0M329 424h0M328 315h0M327 145h0M48 738h0M323 467h0M261 552h0M270 635h0M452 51h0M240 600h0M272 696h0M297 549h0M253 606h0M336 431h0M438 77h0M334 538h0M277 541h0M467 57h0M398 145h0M419 264h0M429 47h0M294 513h0M85 738h0M402 158h0M399 682h0M342 590h0M328 227h0M317 534h0M331 309h0M252 686h0M315 430h0M145 736h0M278 584h0M200 728h0M317 527h0M405 48h0M323 354h0M292 550h0M278 567h0M411 110h0M338 377h0M114 738h0" stroke-opacity="0.42"/>
<path d="M427 70h0M410 181h0M358 122h0M266 591h0M378 542h0M459 87h0M335 526h0M405 73h0M450 56h0M264 656h0M182 722h0M243 603h0M308 358h0M335 259h0M287 565h0M250 577h0M166 718h0M287 607h0M425 74h0M231 654h0M213 696h0M202 694h0M288 526h0M275 653h0M326 626h0M391 491h0M74 738h0M350 639h0M418 311h0M144 727h0M249 677h0M250 682h0M279 617h0M158 730h0M363 471h0M435 94h0M295 506h0M266 674h0M348 672h0M314 605h0M425 35h0M354 582h0M355 472h0M56 738h0M302 604h0M345 362h0M282 550h0M152 734h0M352 441h0M401 166h0M442 68h0M307 451h0M377 275h0M129 738h0M273 607h0M395 201h0M66 738h0M261 672h0M333 569h0M322 450h0M277 586h0M331 238h0M321 389h0M350 507h0M358 597h0M330 509h0M288 579h0M374 192h0M221 695h0M330 446h0M411 48h0M296 656h0M307 478h0M151 724h0M230 672h0M408 67h0M373 131h0M299 319h0M184 731h0M306 648h0M280 664h0M236 683h0M281 561h0M241 722h0M306 361h0M278 672h0M367 645h0M432 312h0M330 533h0M552 58h0M336 279h0M456 44h0M385 207h0M273 662h0M309 467h0M248 591h0M411 551h0M202 729h0M55 739h0M430 250h0M321 553h0M114 738h0M346 213h0M290 621h0M254 656h0M241 608h0M392 253h0M314 473h0M374 242h0M287 507h0M296 582h0M387 593h0M273 668h0M455 44h0M372 114h0M306 533h0M455 50h0M259 619h0M268 587h0M469 67h0M407 125h0M352 273h0M360 603h0M155 732h0M336 629h0M229 703h0M500 49h0M249 613h0M357 466h0M379 330h0M402 127h0M306 539h0M414 83h0M275 645h0M301 545h0M388 600h0M287 715h0M260 688h0M391 337h0M376 494h0M258 580h0M319 541h0M308 285h0M420 114h0M262 652h0M143 733h0M216 714h0M417 89h0M407 114h0M402 53h0M31 739h0M387 502h0M548 41h0M312 525h0M370 441h0M404 161h0M370 219h0M283 634h0M340 374h0M248 641h0M326 489h0M341 232h0M318 537h0M314 655h0M336 304h0M311 665h0M304 688h0M366 488h0M111 737h0M329 525h0M352 418h0M426 44h0M275 500h0M215 678h0M416 51h0M323 475h0M329 179h0M158 736h0M170 733h0M347 355h0M339 363h0M430 44h0M234 668h0M339 301h0M456 406h0M298 631h0M361 562h0M98 735h0M347 201h0M338 388h0M208 688h0M302 529h0M526 566h0M359 371h0M354 595h0M271 573h0M306 618h0M305 578h0M292 507h0M491 41h0M253 603h0M259 550h0M297 538h0M320 429h0M366 71h0M141 726h0M299 596h0M226 693h0M261 617h0M329 642h0M277 528h0M287 573h0M390 581h0M302 534h0M405 97h0M260 607h0M262 535h0M282 589h0M354 490h0M461 348h0M379 522h0M461 44h0M361 230h0M308 389h0M290 708h0M331 266h0M371 340h0M366 193h0M474 53h0M141 736h0M278 541h0M399 47h0M228 647h0M101 735h0M480 108h0M283 661h0M397 193h0M258 608h0M349 552h0M398 196h0M306 457h0M261 560h0M270 511h0M502 47h0M292 640h0M441 104h0M282 533h0M409 78h0M352 425h0M200 725h0M217 718h0M538 46h0M266 666h0M368 447h0M240 726h0M227 652h0M485 35h0M411 154h0M442 88h0M329 544h0M246 700h0M98 739h0M137 737h0M218 731h0M328 531h0M342 651h0M335 240h0M277 668h0M297 384h0M264 547h0M438 50h0M429 52h0M433 35h0M314 417h0M300 684h0M326 565h0M285 519h0M390 185h0M272 563h0M164 721h0M449 479h0M320 713h0M316 610h0M236 714h0M332 711h0M361 329h0M407 93h0M168 727h0M53 737h0M474 75h0M229 721h0M182 731h0M387 491h0M315 540h0M353 417h0M394 397h0M209 702h0M347 194h0M255 649h0M444 66h0M249 603h0M285 583h0M499 45h0M257 617h0M101 735h0M457 52h0M335 338h0M292 551h0M379 201h0M303 377h0M298 578h0M315 588h0M272 677h0M230 696h0M324 408h0M448 89h0M544 45h0M283 655h0M433 58h0M271 588h0M364 254h0M289 700h0M388 66h0M234 703h0M400 53h0M307 478h0M326 519h0M380 617h0M87 739h0M339 476h0M305 535h0M216 735h0M196 704h0M377 307h0M312 399h0M291 518h0M320 576h0M280 511h0M143 736h0M301 559h0M407 124h0M349 327h0M254 692h0M270 694h0M323 241h0M469 61h0M208 714h0M108 734h0M363 455h0M402 76h0M270 468h0M367 527h0M352 440h0M322 525h0M347 288h0M89 738h0M324 390h0M305 671h0M274 611h0M239 704h0M287 616h0M238 640h0M412 103h0M336 700h0M355 402h0M310 560h0M32 739h0" stroke-opacity="0.42"/>
<path d="M196 691h0M368 539h0M297 511h0M159 739h0M393 134h0M36 738h0M311 722h0M248 610h0M195 704h0M357 276h0M246 667h0M244 564h0M258 601h0M186 716h0M352 536h0M329 379h0M307 700h0M390 256h0M208 725h0M282 569h0M286 630h0M385 526h0M284 545h0M338 583h0M122 733h0M222 735h0M199 706h0M353 350h0M305 580h0M171 730h0M297 485h0M299 546h0M342 398h0M275 687h0M244 655h0M364 287h0M346 577h0M292 553h0M326 487h0M141 727h0M147 731h0M468 58h0M186 720h0M205 714h0M82 737h0M274 697h0M299 354h0M221 672h0M378 566h0M353 569h0M275 631h0M424 78h0M282 691h0M337 463h0M287 464h0M260 507h0M367 325h0M392 181h0M324 423h0M373 277h0M254 603h0M453 48h0M322 638h0M294 608h0M441 44h0M250 614h0M354 550h0M304 494h0M283 511h0M369 492h0M423 139h0M341 521h0M211 694h0M262 514h0M270 662h0M423 48h0M526 344h0M432 60h0M289 510h0M145 726h0M115 738h0M265 534h0M64 739h0M241 707h0M306 441h0M372 211h0M427 272h0M197 731h0M405 35h0M325 419h0M303 443h0M417 128h0M403 115h0M225 611h0M398 195h0M440 76h0M126 729h0M276 511h0M246 708h0M85 738h0M308 469h0M377 265h0M273 657h0M320 526h0M364 503h0M290 549h0M251 617h0M246 594h0M289 525h0M309 420h0M418 107h0M238 682h0M448 76h0M489 50h0M301 549h0M318 218h0M172 724h0M459 61h0M401 284h0M331 551h0M88 738h0M372 257h0M86 737h0M370 542h0M277 567h0M420 62h0M343 460h0M223 635h0M203 700h0M424 58h0M81 737h0M149 723h0M288 664h0M166 738h0M305 470h0M330 409h0M144 732h0M218 714h0M369 475h0M217 689h0M262 526h0M369 322h0M368 165h0M486 57h0M229 670h0M303 430h0M172 714h0M382 204h0M269 543h0M444 47h0M328 375h0M193 734h0M301 547h0M308 533h0M315 588h0M334 403h0M398 140h0M182 720h0M158 737h0M333 358h0M373 629h0M222 712h0M390 372h0M301 410h0M357 486h0M390 54h0M405 541h0M235 621h0M419 113h0M240 714h0M161 726h0M157 728h0M388 253h0M281 512h0M323 481h0M301 555h0M277 585h0M324 355h0M231 709h0M256 707h0M242 681h0M403 54h0M217 669h0M157 737h0M283 513h0M471 46h0M291 631h0M307 513h0M259 657h0M190 722h0M299 565h0M275 457h0M317 580h0M371 217h0M368 329h0M401 171h0M277 546h0M254 634h0M290 645h0M333 446h0M241 640h0M281 637h0M326 392h0M325 511h0M354 158h0M295 565h0M295 491h0M417 70h0M327 431h0M313 468h0M277 513h0M312 443h0M392 145h0M297 710h0M322 554h0M283 667h0M285 572h0M334 314h0M440 51h0M179 718h0M363 339h0M322 558h0M72 737h0M364 154h0M315 484h0M344 423h0M268 680h0M167 719h0M232 697h0M332 518h0M43 737h0M360 453h0M148 739h0M149 729h0M283 704h0M375 172h0M418 60h0M337 507h0M184 699h0M313 436h0M334 652h0M305 518h0M245 602h0M455 198h0M177 725h0M475 56h0M300 528h0M210 729h0M206 707h0M282 732h0M261 652h0M265 671h0M333 462h0M177 713h0M107 735h0M321 328h0M437 88h0M194 701h0M250 555h0M385 512h0M361 253h0M315 335h0M438 85h0M300 631h0M316 497h0M407 43h0M162 735h0M284 545h0M287 500h0M309 519h0M265 530h0M260 664h0M454 77h0M313 234h0M297 514h0M356 123h0M459 35h0M318 370h0M246 731h0M432 157h0M360 167h0M294 550h0M421 468h0M316 596h0M321 514h0M395 477h0M258 644h0M253 674h0M390 176h0M230 640h0M249 731h0M443 85h0M194 700h0M258 711h0M365 269h0M374 206h0M294 675h0M423 43h0M202 694h0M318 358h0M296 605h0M306 489h0M123 736h0M332 443h0M235 667h0M442 42h0M99 736h0M347 512h0M450 55h0M249 649h0M348 271h0M437 35h0M153 737h0M387 497h0M412 97h0M242 702h0M227 667h0M476 77h0M351 212h0M226 688h0M475 43h0M52 739h0M443 35h0M243 709h0M299 573h0M265 682h0M296 518h0M73 739h0M457 67h0M196 731h0M289 658h0M327 524h0M149 731h0M309 568h0M325 504h0M331 239h0M35 737h0M318 394h0M316 323h0M351 435h0M292 507h0M293 620h0M375 233h0M334 542h0M435 371h0M301 400h0M439 52h0M249 615h0M344 278h0M178 735h0M297 502h0M268 523h0M300 420h0M256 651h0M414 35h0M447 57h0M333 512h0M329 547h0M296 547h0M314 487h0M273 546h0M379 478h0M446 42h0M305 404h0M307 588h0M308 648h0M60 739h0" stroke-opacity="0.42"/>
<path d="M45 737h0M221 734h0M313 430h0M401 54h0M238 649h0M344 668h0M278 675h0M371 305h0M305 414h0M366 132h0M400 76h0M330 564h0M291 501h0M341 547h0M360 147h0M351 498h0M328 517h0M105 737h0M271 640h0M416 52h0M280 586h0M409 222h0M233 637h0M436 58h0M331 518h0M371 163h0M304 370h0M304 487h0M373 303h0M373 457h0M337 562h0M213 709h0M258 563h0M502 42h0M133 734h0M398 221h0M173 734h0M258 705h0M352 404h0M123 734h0M405 71h0M301 710h0M245 636h0M193 733h0M306 672h0M182 734h0M320 607h0M335 371h0M191 733h0M411 66h0M286 683h0M86 737h0M64 738h0M344 202h0M225 701h0M226 700h0M270 595h0M287 550h0M424 83h0M307 514h0M317 711h0M445 84h0M336 409h0M147 736h0M218 726h0M52 738h0M351 441h0M251 621h0M378 42h0M333 648h0M238 654h0M238 609h0M303 446h0M382 485h0M342 536h0M332 356h0M400 73h0M327 697h0M187 735h0M454 50h0M274 703h0M308 330h0M209 737h0M292 562h0M407 65h0M464 93h0M70 738h0M287 631h0M311 657h0M321 413h0M212 701h0M216 712h0M298 542h0M135 738h0M302 534h0M358 559h0M439 48h0M338 384h0M128 734h0M45 739h0M487 65h0M239 660h0M229 635h0M399 42h0M271 564h0M234 686h0M84 737h0M220 726h0M313 552h0M480 343h0M373 202h0M458 97h0M441 224h0M449 42h0M242 621h0M462 62h0M271 701h0M291 564h0M318 351h0M282 615h0M273 659h0M360 519h0M377 229h0M301 487h0M109 738h0M155 738h0M393 158h0M273 550h0M203 713h0M214 691h0M156 724h0M146 731h0M319 559h0M176 730h0M89 739h0M347 314h0M305 595h0M254 703h0M259 729h0M267 685h0M340 135h0M399 72h0M180 733h0M310 310h0M240 705h0M351 641h0M400 75h0M427 99h0M328 414h0M84 737h0M431 103h0M318 403h0M507 74h0M267 536h0M261 640h0M109 734h0M165 731h0M329 455h0M361 210h0M419 140h0M315 669h0M316 555h0M336 399h0M338 281h0M138 738h0M341 696h0M250 649h0M326 503h0M285 715h0M40 738h0M209 711h0M262 615h0M364 194h0M259 631h0M271 669h0M270 552h0M411 56h0M454 52h0M315 527h0M346 483h0M348 419h0M418 61h0M359 490h0M366 312h0M354 158h0M376 473h0M450 56h0M315 546h0M298 599h0M259 662h0M273 667h0M314 512h0M180 738h0M224 719h0M100 739h0M163 725h0M303 552h0M163 720h0M448 53h0M323 630h0M142 724h0M238 661h0M493 35h0M224 736h0M462 76h0M353 260h0M300 666h0M133 733h0M359 182h0M225 683h0M283 633h0M425 44h0M363 365h0M349 441h0M366 662h0M313 481h0M212 655h0M359 218h0M282 577h0M292 646h0M268 686h0M512 42h0M269 657h0M270 622h0M275 503h0M48 738h0M411 433h0M312 671h0M342 496h0M342 542h0M326 513h0M440 54h0M279 536h0M339 308h0M339 580h0M263 689h0M309 379h0M273 673h0M319 314h0M303 614h0M217 642h0M337 491h0M351 491h0M257 601h0M376 645h0M188 715h0M337 599h0M419 239h0M308 457h0M274 566h0M375 249h0M323 509h0M223 681h0M279 514h0M428 76h0M210 703h0M358 332h0M335 457h0M300 531h0M158 738h0M474 46h0M222 712h0M394 496h0M222 666h0M401 487h0M373 478h0M405 35h0M234 646h0M469 231h0M259 673h0M234 691h0M436 79h0M459 62h0M315 498h0M251 674h0M353 254h0M366 148h0M443 100h0M234 623h0M186 735h0M139 727h0M136 730h0M382 527h0M215 692h0M455 431h0M240 608h0M253 588h0M281 585h0M406 533h0M239 705h0M453 57h0M147 724h0M336 547h0M406 50h0M317 503h0M377 209h0M323 508h0M309 508h0M259 534h0M344 554h0M318 291h0M401 46h0M288 508h0M219 726h0M207 727h0M286 503h0M205 688h0M311 592h0M72 738h0M258 548h0M185 726h0M478 61h0M277 567h0M351 475h0M278 553h0M308 413h0M298 491h0M239 592h0M308 413h0M301 427h0M323 228h0M249 557h0M306 506h0M229 687h0M435 48h0M500 51h0M328 514h0M447 74h0M201 717h0M295 575h0M326 619h0M431 194h0M273 630h0M257 565h0M316 376h0M219 704h0M299 545h0M330 549h0M378 131h0M343 524h0M282 504h0M321 324h0M344 508h0M271 633h0M209 709h0M340 242h0M339 359h0M284 644h0M296 616h0M230 702h0M243 657h0M397 212h0M432 74h0M500 48h0M152 736h0M298 606h0M317 594h0M381 584h0M183 725h0M404 553h0M363 644h0M260 640h0M373 521h0M323 454h0M401 52h0M372 458h0M573 46h0" stroke-opacity="0.42"/>
<path d="M227 715h0M388 50h0M159 720h0M445 60h0M63 739h0M333 355h0M337 378h0M349 651h0M329 409h0M312 513h0M383 190h0M309 581h0M237 659h0M124 739h0M310 410h0M382 529h0M346 113h0M340 304h0M246 581h0M257 694h0M177 712h0M432 79h0M293 489h0M294 501h0M254 564h0M355 175h0M224 690h0M338 704h0M251 673h0M300 690h0M352 299h0M351 213h0M412 66h0M363 224h0M294 387h0M67 739h0M177 722h0M202 688h0M264 553h0M296 582h0M389 157h0M322 402h0M331 577h0M294 571h0M306 574h0M396 504h0M302 590h0M218 711h0M246 713h0M342 297h0M378 60h0M77 737h0M453 47h0M352 122h0M307 510h0M385 602h0M251 646h0M212 718h0M268 461h0M297 615h0M328 564h0M444 56h0M298 510h0M311 446h0M331 608h0M441 90h0M255 729h0M321 444h0M354 529h0M211 651h0M392 542h0M352 209h0M243 722h0M239 693h0M411 42h0M263 629h0M321 239h0M153 721h0M374 295h0M408 77h0M206 669h0M354 529h0M207 692h0M421 78h0M73 738h0M251 661h0M401 51h0M308 619h0M281 629h0M320 357h0M281 412h0M300 622h0M274 540h0M403 497h0M455 208h0M315 573h0M172 734h0M330 532h0M345 487h0M353 308h0M63 738h0M365 354h0M311 598h0M240 674h0M137 733h0M478 340h0M91 737h0M76 738h0M172 725h0M264 664h0M215 705h0M444 67h0M334 386h0M347 595h0M187 735h0M358 375h0M347 483h0M288 567h0M308 570h0M341 418h0M381 131h0M217 697h0M339 292h0M392 261h0M460 48h0M412 119h0M346 260h0M388 292h0M226 703h0M295 609h0M386 156h0M154 727h0M323 578h0M265 664h0M120 737h0M321 623h0M317 540h0M354 250h0M346 485h0M513 48h0M328 552h0M87 737h0M477 53h0M242 614h0M375 54h0M315 550h0M437 44h0M318 411h0M436 71h0M351 531h0M360 498h0M255 590h0M437 49h0M385 530h0M399 47h0M342 568h0M272 507h0M355 367h0M266 580h0M358 398h0M181 710h0M359 446h0M251 613h0M220 705h0M365 326h0M363 199h0M219 706h0M481 47h0M370 217h0M294 531h0M220 700h0M372 268h0M256 569h0M295 543h0M237 640h0M175 734h0M317 615h0M367 463h0M161 717h0M160 725h0M296 542h0M316 511h0M374 529h0M309 560h0M279 440h0M108 737h0M290 632h0M280 550h0M317 518h0M249 661h0M115 737h0M264 682h0M405 142h0M277 594h0M375 155h0M337 307h0M302 626h0M172 737h0M291 596h0M178 728h0M226 654h0M247 684h0M389 54h0M395 153h0M248 679h0M310 588h0M288 555h0M331 666h0M262 542h0M257 706h0M381 244h0M399 142h0M76 739h0M168 729h0M128 736h0M380 124h0M230 724h0M401 44h0M242 653h0M301 635h0M339 296h0M407 35h0M220 707h0M471 165h0M105 739h0M230 695h0M211 697h0M446 35h0M454 58h0M261 628h0M263 687h0M330 676h0M358 313h0M368 481h0M198 731h0M314 426h0M343 287h0M120 735h0M440 70h0M213 722h0M218 695h0M424 47h0M296 631h0M220 734h0M237 717h0M362 402h0M397 113h0M261 577h0M304 479h0M473 44h0M361 576h0M365 652h0M255 648h0M256 614h0M312 578h0M406 43h0M350 218h0M396 130h0M304 486h0M283 673h0M271 608h0M315 485h0M410 87h0M309 444h0M409 52h0M200 711h0M83 737h0M437 63h0M338 358h0M214 673h0M316 557h0M211 724h0M437 73h0M314 531h0M251 579h0M331 568h0M279 629h0M444 41h0M273 557h0M237 665h0M546 53h0M298 541h0M343 419h0M345 213h0M234 686h0M237 648h0M290 650h0M258 538h0M306 334h0M463 311h0M260 671h0M340 472h0M320 342h0M278 655h0M263 529h0M372 489h0M212 706h0M135 736h0M42 739h0M313 596h0M309 347h0M276 513h0M425 60h0M260 704h0M323 544h0M252 552h0M269 511h0M77 737h0M415 65h0M41 739h0M357 358h0M202 730h0M114 736h0M356 601h0M292 632h0M336 635h0M88 738h0M275 533h0M258 539h0M188 723h0M320 520h0M275 609h0M319 417h0M245 695h0M314 533h0M303 549h0M322 696h0M134 734h0M303 476h0M303 607h0M139 739h0M402 146h0M326 539h0M291 666h0M274 529h0M309 613h0M238 658h0M214 723h0M338 427h0M329 588h0M348 378h0M355 601h0M313 501h0M305 606h0M226 672h0M303 544h0M265 670h0M423 89h0M286 666h0M239 643h0M434 60h0M282 575h0M450 35h0M255 689h0M331 578h0M318 599h0M309 683h0M379 124h0M411 57h0M309 536h0M333 442h0M287 410h0M455 35h0M370 536h0M271 540h0M218 644h0M553 42h0" stroke-opacity="0.42"/>
<path d="M222 628h0M284 653h0M464 97h0M400 76h0M294 656h0M245 584h0M288 561h0M204 733h0M199 726h0M115 737h0M414 58h0M281 571h0M200 695h0M116 733h0M297 535h0M331 187h0M461 53h0M325 545h0M83 737h0M342 674h0M335 652h0M313 403h0M264 654h0M337 282h0M330 502h0M190 717h0M254 659h0M328 579h0M260 581h0M340 433h0M237 665h0M353 550h0M274 688h0M148 735h0M174 734h0M298 649h0M207 718h0M298 616h0M293 562h0M469 159h0M195 717h0M294 551h0M357 189h0M127 730h0M373 275h0M263 703h0M422 140h0M245 578h0M362 208h0M262 643h0M255 535h0M279 670h0M319 416h0M217 717h0M269 563h0M341 284h0M274 671h0M311 527h0M257 707h0M334 437h0M86 738h0M477 35h0M94 738h0M226 672h0M330 351h0M275 692h0M272 707h0M272 504h0M314 496h0M324 399h0M408 227h0M411 353h0M408 490h0M399 129h0M311 548h0M402 400h0M431 102h0M222 710h0M193 697h0M433 61h0M401 570h0M194 717h0M149 736h0M349 287h0M307 522h0M315 546h0M266 528h0M283 581h0M440 217h0M139 727h0M307 515h0M240 713h0M353 512h0M308 480h0M316 723h0M123 733h0M257 602h0M242 670h0M238 693h0M442 35h0M321 391h0M299 414h0M348 611h0M270 529h0M400 144h0M353 541h0M243 656h0M343 186h0M97 737h0M210 692h0M344 460h0M283 654h0M148 727h0M317 466h0M396 548h0M301 532h0M470 95h0M289 632h0M217 714h0M440 71h0M529 48h0M276 560h0M291 581h0M434 59h0M142 729h0M453 174h0M332 346h0M241 693h0M274 595h0M40 738h0M301 639h0M364 505h0M178 732h0M286 666h0M172 716h0M254 685h0M314 407h0M320 520h0M213 702h0M364 176h0M271 653h0M380 121h0M275 518h0M343 638h0M406 56h0M252 607h0M426 44h0M390 281h0M92 735h0M312 551h0M386 565h0M417 465h0M317 436h0M550 62h0M68 738h0M341 149h0M314 385h0M212 730h0M231 640h0M275 597h0M282 537h0M373 70h0M328 287h0M262 693h0M331 617h0M428 435h0M470 42h0M331 455h0M163 724h0M232 726h0M337 469h0M447 80h0M342 287h0M252 636h0M348 402h0M306 619h0M287 584h0M324 540h0M483 84h0M273 591h0M310 513h0M304 465h0M323 506h0M333 404h0M298 581h0M364 310h0M354 615h0M369 508h0M177 719h0M269 554h0M121 734h0M349 248h0M345 521h0M134 734h0M317 551h0M349 468h0M286 697h0M275 526h0M431 50h0M271 576h0M234 719h0M389 166h0M365 364h0M275 507h0M312 433h0M305 467h0M224 636h0M285 607h0M351 618h0M291 530h0M464 100h0M408 42h0M50 738h0M339 626h0M207 724h0M274 642h0M344 670h0M347 228h0M417 90h0M367 62h0M252 682h0M327 372h0M410 43h0M414 44h0M268 686h0M408 82h0M153 727h0M274 653h0M292 631h0M322 284h0M379 152h0M291 640h0M280 580h0M315 660h0M255 611h0M484 61h0M454 66h0M128 735h0M298 632h0M153 731h0M438 49h0M255 696h0M407 51h0M185 715h0M251 616h0M348 703h0M474 45h0M341 471h0M346 487h0M246 655h0M265 629h0M358 200h0M271 505h0M406 136h0M265 596h0M311 581h0M161 724h0M139 728h0M413 57h0M289 571h0M376 527h0M365 106h0M344 348h0M135 738h0M336 463h0M103 736h0M202 725h0M240 598h0M315 701h0M441 44h0M235 719h0M571 42h0M264 529h0M206 723h0M414 129h0M201 728h0M437 71h0M318 559h0M373 411h0M298 584h0M371 304h0M220 649h0M254 596h0M285 614h0M260 516h0M304 514h0M176 734h0M252 705h0M249 604h0M390 187h0M273 585h0M287 525h0M139 726h0M310 510h0M351 536h0M435 535h0M224 682h0M177 731h0M283 588h0M296 480h0M291 534h0M339 567h0M280 576h0M277 562h0M417 51h0M240 696h0M293 540h0M111 737h0M113 734h0M263 503h0M447 74h0M308 707h0M318 533h0M446 41h0M312 503h0M309 475h0M362 555h0M325 374h0M463 54h0M113 737h0M443 75h0M504 43h0M258 667h0M305 521h0M49 739h0M327 652h0M241 685h0M319 554h0M276 549h0M392 201h0M329 703h0M276 595h0M460 43h0M351 238h0M483 50h0M325 360h0M315 536h0M457 35h0M429 57h0M247 667h0M250 661h0M321 519h0M351 334h0M446 60h0M263 714h0M323 530h0M372 514h0M311 519h0M367 248h0M234 723h0M275 507h0M327 684h0M206 696h0M283 571h0M320 295h0M304 559h0M294 484h0M71 739h0M354 350h0M435 135h0M326 229h0M315 432h0M207 687h0M407 59h0M227 688h0M227 654h0" stroke-opacity="0.42"/>
<path d="M194 710h0M438 73h0M419 42h0M256 567h0M176 726h0M289 573h0M448 76h0M340 307h0M387 339h0M218 684h0M400 134h0M377 112h0M302 543h0M360 499h0M265 538h0M271 556h0M369 144h0M297 708h0M405 143h0M390 320h0M220 693h0M194 732h0M288 558h0M45 737h0M226 685h0M322 412h0M437 317h0M172 719h0M305 577h0M363 604h0M354 491h0M244 691h0M457 64h0M226 644h0M281 712h0M255 698h0M279 675h0M229 674h0M344 392h0M375 192h0M177 730h0M310 590h0M311 692h0M297 544h0M268 640h0M194 736h0M310 534h0M116 738h0M288 524h0M476 50h0M243 686h0M314 518h0M356 444h0M326 254h0M351 169h0M281 528h0M288 568h0M262 665h0M107 734h0M319 439h0M513 61h0M229 699h0M48 737h0M330 599h0M424 67h0M410 64h0M338 475h0M231 653h0M339 396h0M306 574h0M321 386h0M140 730h0M235 649h0M281 504h0M385 646h0M254 723h0M260 533h0M295 554h0M244 636h0M502 127h0M518 45h0M289 647h0M343 467h0M388 159h0M345 165h0M360 168h0M295 631h0M300 503h0M300 605h0M347 123h0M382 227h0M345 599h0M312 574h0M226 697h0M355 500h0M321 533h0M314 453h0M284 575h0M395 637h0M351 293h0M281 597h0M326 542h0M320 572h0M363 287h0M441 79h0M309 719h0M241 650h0M405 47h0M284 638h0M404 71h0M414 42h0M379 326h0M180 723h0M286 662h0M414 88h0M90 739h0M276 641h0M315 295h0M269 716h0M496 72h0M431 64h0M307 563h0M237 598h0M128 730h0M262 538h0M324 600h0M286 597h0M455 73h0M325 601h0M327 568h0M409 69h0M268 518h0M328 521h0M245 582h0M220 681h0M383 323h0M356 636h0M252 666h0M309 441h0M114 738h0M293 545h0M435 148h0M365 511h0M340 158h0M327 523h0M226 714h0M329 430h0M290 602h0M277 670h0M240 642h0M291 538h0M366 398h0M254 699h0M167 723h0M432 52h0M500 62h0M109 735h0M369 171h0M306 564h0M344 472h0M168 735h0M393 533h0M284 717h0M432 35h0M402 62h0M240 660h0M201 707h0M283 670h0M322 549h0M441 77h0M269 647h0M432 63h0M239 711h0M320 368h0M448 75h0M301 476h0M362 548h0M424 553h0M311 412h0M340 419h0M287 645h0M303 520h0M255 633h0M411 56h0M246 564h0M241 601h0M289 529h0M502 47h0M373 132h0M261 584h0M226 738h0M344 367h0M68 738h0M275 673h0M286 571h0M300 623h0M205 705h0M293 502h0M366 413h0M353 471h0M253 552h0M67 737h0M411 98h0M293 538h0M390 297h0M309 547h0M274 633h0M312 428h0M275 523h0M166 719h0M437 91h0M354 633h0M216 680h0M237 647h0M328 680h0M317 657h0M388 578h0M259 623h0M285 638h0M296 488h0M323 690h0M356 565h0M230 698h0M328 285h0M257 560h0M308 540h0M293 654h0M179 713h0M170 721h0M345 495h0M512 43h0M360 184h0M295 537h0M348 696h0M366 131h0M378 473h0M276 576h0M302 625h0M398 185h0M238 674h0M226 672h0M311 418h0M313 557h0M481 65h0M72 737h0M259 547h0M392 606h0M315 496h0M229 646h0M260 550h0M408 144h0M151 735h0M374 279h0M250 671h0M113 737h0M257 618h0M380 659h0M345 574h0M330 184h0M414 105h0M296 410h0M251 724h0M299 524h0M324 493h0M238 720h0M352 482h0M367 516h0M350 227h0M482 66h0M342 305h0M149 734h0M346 529h0M345 136h0M469 74h0M422 108h0M450 57h0M129 733h0M221 669h0M292 560h0M288 596h0M276 584h0M230 632h0M519 44h0M307 465h0M334 547h0M322 696h0M308 560h0M325 566h0M366 109h0M345 309h0M335 175h0M228 721h0M306 374h0M271 510h0M229 679h0M449 43h0M270 730h0M290 555h0M442 194h0M279 598h0M280 615h0M206 729h0M520 42h0M329 548h0M273 613h0M330 309h0M317 335h0M328 553h0M169 739h0M129 733h0M271 593h0M294 558h0M298 566h0M355 517h0M220 698h0M388 208h0M194 719h0M481 84h0M448 97h0M399 48h0M414 58h0M304 469h0M242 640h0M320 527h0M280 508h0M56 737h0M353 569h0M300 578h0M443 58h0M313 558h0M332 482h0M429 57h0M401 386h0M254 619h0M291 657h0M286 578h0M290 591h0M342 211h0M394 495h0M55 739h0M287 484h0M293 676h0M274 623h0M140 729h0M202 696h0M264 534h0M361 385h0M525 66h0M257 631h0M326 343h0M310 516h0M309 558h0M400 43h0M363 337h0M463 180h0M358 366h0M209 719h0M295 542h0M292 528h0M293 670h0M383 448h0M345 559h0M424 239h0M344 494h0M462 46h0M179 718h0" stroke-opacity="0.42"/>
</g>
<path d="M154.3 1301.1L156.0 1301.1L157.7 1301.1L159.4 1301.1L161.1 1301.1L162.7 1301.1L164.4 1301.0L166.1 1301.0L167.8 1301.0L169.5 1301.0L171.1 1301.0L172.8 1301.0L174.5 1301.0L176.2 1301.0L177.8 1301.0L179.5 1301.0L181.2 1301.0L182.9 1301.0L184.6 1300.9L186.2 1300.9L187.9 1300.9L189.6 1300.9L191.3 1300.9L193.0 1300.8L194.6 1300.8L196.3 1300.8L198.0 1300.8L199.7 1300.7L201.4 1300.7L203.0 1300.6L204.7 1300.6L206.4 1300.5L208.1 1300.5L209.8 1300.4L211.4 1300.4L213.1 1300.3L214.8 1300.2L216.5 1300.1L218.2 1300.0L219.8 1299.9L221.5 1299.8L223.2 1299.6L224.9 1299.5L226.6 1299.3L228.2 1299.2L229.9 1299.0L231.6 1298.8L233.3 1298.5L235.0 1298.3L236.6 1298.0L238.3 1297.7L240.0 1297.3L241.7 1296.9L243.4 1296.5L245.0 1296.1L246.7 1295.6L248.4 1295.0L250.1 1294.4L251.7 1293.7L253.4 1293.0L255.1 1292.2L256.8 1291.3L258.5 1290.4L260.1 1289.3L261.8 1288.1L263.5 1286.8L265.2 1285.4L266.9 1283.9L268.5 1282.2L270.2 1280.4L271.9 1278.4L273.6 1276.2L275.3 1273.8L276.9 1271.1L278.6 1268.3L280.3 1265.1L282.0 1261.7L283.7 1258.0L285.3 1254.0L287.0 1249.6L288.7 1244.9L290.4 1239.7L292.1 1234.2L293.7 1228.2L295.4 1221.8L297.1 1214.8L298.8 1207.4L300.5 1199.5L302.1 1191.1L303.8 1182.1L305.5 1172.7L307.2 1162.7L308.9 1152.2L310.5 1141.3L312.2 1129.9L313.9 1118.2L315.6 1106.2L317.3 1094.0L318.9 1081.6L320.6 1069.2L322.3 1056.9L324.0 1044.8L325.7 1033.0L327.3 1021.7L329.0 1011.1L330.7 1001.1L332.4 992.0L334.0 983.9L335.7 976.6L337.4 970.4L339.1 965.2L340.8 960.9L342.4 957.5L344.1 954.8L345.8 952.9L347.5 951.5L349.2 950.6L350.8 949.9L352.5 949.6L354.2 949.3L355.9 949.2L357.6 949.2L359.2 949.1L360.9 949.1L362.6 949.1L364.3 949.1L366.0 949.1L367.6 949.1L369.3 949.1L371.0 949.1L372.7 949.1L374.4 949.1L376.0 949.1L377.7 949.1L379.4 949.1L381.1 949.1L382.8 949.1L384.4 949.1L386.1 949.1L387.8 949.1L389.5 949.1L391.2 949.1L392.8 949.1L394.5 949.1L396.2 949.1L397.9 949.1L399.6 949.1L401.2 949.1L402.9 949.1L404.6 949.1L406.3 949.1L407.9 949.1L409.6 949.1L411.3 949.1L413.0 949.1L414.7 949.1L416.3 949.1L418.0 949.1L419.7 949.1L421.4 949.1L423.1 949.1" fill="none" stroke="#e0151b" stroke-width="2.3" stroke-linejoin="round"/>
</g>
<rect x="138.5" y="931.4" width="336.0" height="387.2" fill="none" stroke="#333" stroke-width="1.4"/>
<path d="M150.3 1318.6v4M231.0 1318.6v4M311.7 1318.6v4M392.4 1318.6v4M473.1 1318.6v4" stroke="#333" stroke-width="1.3" fill="none"/>
<rect x="478.2" y="900.5" width="336.0" height="30.9" fill="#fff" stroke="#111" stroke-width="1.6"/>
<text x="646.7" y="927.2" font-size="29" text-anchor="middle">SU</text>
<clipPath id="cd1"><rect x="478.2" y="931.4" width="336.0" height="387.2"/></clipPath>
<g clip-path="url(#cd1)">
<path d="M530.4 931.4V1318.6M611.0 931.4V1318.6M691.8 931.4V1318.6M772.5 931.4V1318.6M478.2 1257.1H814.2M478.2 1169.1H814.2M478.2 1081.1H814.2M478.2 993.1H814.2" stroke="#e3e3e3" stroke-width="1.3" fill="none"/>
<path d="M490.0 931.4V1318.6M570.7 931.4V1318.6M651.4 931.4V1318.6M732.1 931.4V1318.6M812.8 931.4V1318.6M478.2 1301.1H814.2M478.2 1213.1H814.2M478.2 1125.1H814.2M478.2 1037.1H814.2M478.2 949.1H814.2" stroke="#e3e3e3" stroke-width="2.4" fill="none"/>
<path d="M502.5 1299.1L554.6 1298.0L534.0 1299.7L543.5 1297.6L559.4 1294.1L571.9 1288.8L583.6 1283.5L588.6 1276.5L596.1 1265.9L601.0 1248.3L606.2 1230.7L611.0 1213.1L617.5 1195.5L624.6 1174.4L632.8 1153.3L641.4 1132.1L647.6 1118.1L648.4 1118.1L649.6 1132.1L648.8 1153.3L647.7 1174.4L645.8 1195.5L642.9 1213.1L638.8 1230.7L633.2 1248.3L625.7 1265.9L619.1 1276.5L613.0 1283.5L606.7 1288.8L596.7 1294.1L584.5 1297.6L568.4 1299.7L603.0 1303.6L502.5 1303.6z" fill="#000" fill-opacity="0.93" stroke="#000" stroke-opacity="0.6" stroke-width="3" stroke-linejoin="round"/>
<g transform="translate(478.2 931.4) scale(.5)" fill="none" stroke="#000" stroke-width="15.2" stroke-linecap="round" opacity="1">
<path d="M326 601h0M101 738h0M421 67h0M279 536h0M416 59h0M365 206h0M241 726h0M350 341h0M290 576h0M265 600h0M88 737h0M352 313h0M302 578h0M450 80h0M282 656h0M261 673h0M254 735h0M209 701h0M345 403h0M215 719h0M342 503h0M305 696h0M342 639h0M284 596h0M354 547h0M254 620h0M151 728h0M459 94h0M100 737h0M224 712h0M333 459h0M223 701h0M433 97h0M321 429h0M287 657h0M328 417h0M390 73h0M478 733h0M230 694h0M372 473h0M336 564h0M351 489h0M373 124h0M443 64h0M326 625h0M356 192h0M361 363h0M228 717h0M184 723h0M335 413h0M298 602h0M308 551h0M493 35h0M400 216h0M382 523h0M341 519h0M305 568h0M153 738h0M366 622h0M387 280h0M329 269h0M370 387h0M199 698h0M370 230h0M315 576h0M491 46h0M289 552h0M109 736h0M364 568h0M330 531h0M330 423h0M342 514h0M288 592h0M283 670h0M416 322h0M236 688h0M390 330h0M295 578h0M330 696h0M293 560h0M416 474h0M318 467h0M352 682h0M295 634h0M259 582h0M337 537h0M471 63h0M387 292h0M342 155h0M241 718h0M482 65h0M344 394h0M409 506h0M218 735h0M326 436h0M358 537h0M387 241h0M262 568h0M229 671h0M319 474h0M493 42h0M318 641h0M238 663h0M393 53h0M179 739h0M342 300h0M384 214h0M325 449h0M398 304h0M340 551h0M273 629h0M358 533h0M371 517h0M397 331h0M306 652h0M360 492h0M300 643h0M360 465h0M348 286h0M371 279h0M468 53h0M209 709h0M111 738h0M305 533h0M160 726h0M251 702h0M390 418h0M371 540h0M304 636h0M470 42h0M307 567h0M343 323h0M175 729h0M368 200h0M320 556h0M436 67h0M226 708h0M497 55h0M359 475h0M146 735h0M374 288h0M445 62h0M324 530h0M388 152h0M447 35h0M460 152h0M229 714h0M72 739h0M377 575h0M324 444h0M305 662h0M370 194h0M151 727h0M303 544h0M416 191h0M246 688h0M107 739h0M242 659h0M328 399h0M316 605h0M350 480h0M219 692h0M230 668h0M270 664h0M58 739h0M268 676h0M436 77h0M246 628h0M257 603h0M343 392h0M427 47h0M469 44h0M303 646h0M74 737h0M271 629h0M248 702h0M326 568h0M476 547h0M310 630h0M182 730h0M324 439h0M331 577h0M353 179h0M240 663h0M220 735h0M302 651h0M326 472h0M230 707h0M433 75h0M313 444h0M363 174h0M426 263h0M186 725h0M325 552h0M272 572h0M375 376h0M429 35h0M383 270h0M367 327h0M268 602h0M354 462h0M145 733h0M242 631h0M380 357h0M258 647h0M174 739h0M341 424h0M345 513h0M348 571h0M427 44h0M278 571h0M255 724h0M118 735h0M293 542h0M345 418h0M273 591h0M275 532h0M323 548h0M309 549h0M432 117h0M309 587h0M268 636h0M412 493h0M277 675h0M340 330h0M339 656h0M197 711h0M263 679h0M292 653h0M328 697h0M398 175h0M363 145h0M374 303h0M418 46h0M287 693h0M437 464h0M231 638h0M526 62h0M334 538h0M400 540h0M311 656h0M394 344h0M170 735h0M75 738h0M473 381h0M295 664h0M309 578h0M288 559h0M439 48h0M203 715h0M226 713h0M186 709h0M316 701h0M308 622h0M267 570h0M289 610h0M150 732h0M286 694h0M135 737h0M84 739h0M301 513h0M413 107h0M434 52h0M432 92h0M493 76h0M350 316h0M358 300h0M288 610h0M289 731h0M459 118h0M388 535h0M186 718h0M420 123h0M365 639h0M333 547h0M295 529h0M311 512h0M371 587h0M452 71h0M260 625h0M540 246h0M380 397h0M226 729h0M490 47h0M336 547h0M210 704h0M201 711h0M332 527h0M431 42h0M167 721h0M248 621h0M458 86h0M366 581h0M492 61h0M330 536h0M350 440h0M196 713h0M366 217h0M241 643h0M277 719h0M155 730h0M373 615h0M314 577h0M383 183h0M355 601h0M385 518h0M349 245h0M269 622h0M328 521h0M349 594h0M205 729h0M362 457h0M477 388h0M316 540h0M377 492h0M242 647h0M366 560h0M266 580h0M347 544h0M151 736h0M342 524h0M505 45h0M392 49h0M303 653h0M308 649h0M100 737h0M292 599h0M438 198h0M325 553h0M316 447h0M250 625h0M420 68h0M445 43h0M284 503h0M417 482h0M320 561h0M446 74h0M250 664h0M58 738h0M404 614h0M247 635h0M453 108h0M299 690h0M286 533h0M269 584h0M334 413h0M451 89h0M567 42h0" stroke-opacity="0.42"/>
<path d="M239 693h0M236 655h0M218 692h0M277 567h0M246 718h0M206 704h0M363 182h0M63 739h0M352 648h0M389 187h0M282 694h0M326 552h0M208 722h0M371 583h0M297 546h0M62 737h0M223 724h0M272 631h0M452 86h0M373 177h0M384 216h0M275 697h0M290 534h0M374 462h0M458 98h0M268 540h0M256 642h0M377 143h0M362 182h0M266 589h0M177 715h0M84 737h0M292 631h0M320 535h0M370 402h0M301 660h0M337 578h0M367 282h0M292 652h0M318 630h0M340 569h0M315 524h0M327 496h0M434 119h0M130 738h0M235 722h0M317 607h0M283 696h0M445 470h0M371 542h0M290 592h0M338 471h0M164 726h0M293 558h0M327 506h0M300 571h0M265 543h0M139 739h0M333 420h0M179 733h0M496 60h0M373 433h0M298 556h0M394 197h0M468 55h0M372 545h0M308 569h0M390 265h0M276 610h0M338 438h0M333 492h0M332 383h0M337 392h0M382 326h0M286 580h0M368 241h0M297 457h0M421 41h0M266 587h0M240 675h0M285 688h0M274 636h0M305 506h0M360 462h0M304 570h0M324 554h0M174 723h0M311 329h0M388 505h0M404 321h0M120 734h0M350 638h0M185 727h0M404 372h0M376 159h0M155 737h0M391 153h0M306 584h0M278 573h0M312 574h0M277 545h0M262 578h0M96 738h0M278 624h0M141 739h0M325 528h0M303 528h0M255 616h0M355 143h0M275 600h0M490 46h0M307 643h0M471 59h0M399 349h0M309 637h0M221 703h0M183 731h0M218 703h0M391 88h0M361 483h0M170 730h0M431 95h0M392 516h0M329 588h0M216 730h0M366 428h0M107 738h0M328 681h0M318 575h0M299 622h0M286 693h0M273 542h0M281 613h0M356 425h0M505 54h0M324 353h0M440 54h0M339 392h0M422 60h0M483 48h0M184 731h0M172 737h0M243 629h0M280 641h0M274 654h0M409 540h0M263 667h0M451 44h0M384 314h0M520 35h0M370 324h0M421 65h0M354 258h0M450 121h0M467 49h0M448 62h0M322 598h0M303 534h0M400 56h0M331 447h0M343 611h0M192 719h0M331 666h0M399 273h0M217 737h0M350 386h0M343 453h0M86 739h0M126 731h0M51 738h0M125 738h0M247 690h0M324 208h0M442 73h0M390 297h0M313 524h0M513 42h0M317 622h0M257 715h0M350 284h0M416 452h0M283 617h0M387 110h0M541 57h0M335 531h0M366 275h0M361 608h0M349 549h0M397 244h0M407 141h0M264 632h0M419 117h0M407 706h0M410 128h0M350 483h0M226 733h0M347 497h0M314 374h0M356 210h0M348 530h0M275 698h0M388 577h0M413 479h0M306 635h0M352 482h0M455 211h0M366 598h0M349 529h0M447 42h0M360 466h0M273 582h0M331 573h0M274 708h0M225 687h0M374 268h0M286 659h0M367 302h0M279 521h0M420 70h0M331 494h0M496 70h0M250 720h0M246 667h0M336 420h0M216 710h0M314 638h0M432 155h0M176 727h0M386 171h0M494 88h0M370 494h0M258 714h0M291 578h0M222 697h0M527 48h0M452 300h0M188 714h0M501 49h0M303 540h0M346 332h0M345 468h0M316 497h0M307 549h0M299 599h0M296 639h0M363 281h0M83 737h0M292 654h0M315 448h0M122 738h0M189 727h0M446 44h0M255 717h0M329 514h0M291 557h0M477 51h0M575 42h0M295 475h0M387 386h0M326 276h0M320 544h0M430 69h0M349 594h0M279 522h0M276 663h0M344 520h0M450 49h0M393 233h0M188 731h0M342 363h0M442 35h0M377 416h0M440 76h0M293 541h0M267 574h0M268 569h0M262 605h0M361 575h0M403 506h0M295 592h0M260 633h0M256 685h0M228 680h0M496 57h0M312 477h0M312 507h0M317 653h0M330 536h0M354 150h0M452 96h0M327 568h0M270 551h0M293 525h0M323 616h0M97 737h0M397 275h0M209 714h0M284 628h0M401 280h0M190 739h0M398 202h0M269 678h0M304 585h0M441 59h0M213 722h0M197 712h0M276 507h0M261 661h0M428 70h0M457 47h0M231 656h0M356 684h0M228 702h0M405 561h0M314 597h0M194 739h0M362 133h0M441 61h0M467 42h0M366 703h0M310 565h0M171 736h0M282 659h0M352 317h0M298 515h0M331 390h0M180 737h0M340 594h0M327 504h0M337 658h0M360 433h0M431 51h0M412 570h0M257 654h0M345 175h0M397 154h0M547 62h0M82 738h0M298 586h0M355 579h0M256 587h0M319 590h0M338 399h0M416 152h0M342 380h0M337 441h0M425 51h0" stroke-opacity="0.42"/>
<path d="M319 608h0M285 520h0M369 382h0M338 320h0M342 534h0M322 551h0M323 387h0M331 441h0M322 458h0M431 447h0M355 558h0M142 738h0M317 318h0M340 366h0M432 44h0M295 525h0M425 50h0M326 548h0M257 590h0M281 553h0M266 670h0M248 647h0M438 52h0M267 591h0M361 672h0M281 648h0M352 418h0M274 534h0M416 421h0M373 494h0M320 567h0M383 397h0M313 511h0M321 614h0M247 645h0M332 417h0M466 69h0M240 644h0M243 680h0M216 728h0M370 470h0M318 512h0M377 182h0M345 544h0M299 375h0M74 739h0M350 475h0M373 230h0M206 710h0M339 555h0M342 598h0M210 704h0M254 673h0M313 654h0M321 501h0M302 531h0M292 523h0M290 653h0M219 688h0M445 92h0M381 552h0M348 251h0M163 736h0M301 613h0M293 514h0M341 232h0M358 502h0M337 519h0M168 732h0M409 554h0M192 725h0M320 507h0M378 233h0M200 718h0M277 623h0M376 267h0M336 509h0M362 122h0M208 706h0M344 459h0M288 483h0M336 453h0M472 61h0M178 719h0M433 50h0M359 580h0M308 528h0M286 522h0M246 719h0M413 532h0M93 739h0M308 632h0M402 254h0M324 459h0M358 461h0M390 353h0M223 729h0M272 701h0M430 48h0M263 599h0M393 268h0M431 50h0M180 728h0M92 739h0M360 192h0M539 44h0M391 374h0M310 621h0M370 534h0M199 726h0M321 558h0M483 51h0M348 610h0M311 622h0M246 647h0M196 735h0M375 212h0M330 549h0M283 658h0M327 348h0M266 682h0M243 702h0M266 660h0M310 424h0M381 593h0M269 712h0M317 699h0M492 44h0M259 626h0M195 735h0M257 701h0M337 371h0M276 585h0M388 266h0M235 727h0M300 623h0M367 109h0M507 49h0M526 60h0M278 502h0M273 620h0M121 739h0M49 739h0M270 678h0M341 363h0M324 547h0M198 737h0M315 628h0M366 573h0M246 674h0M466 57h0M334 616h0M349 528h0M371 363h0M277 677h0M215 709h0M379 468h0M169 731h0M226 719h0M398 190h0M185 713h0M107 739h0M263 625h0M449 78h0M476 35h0M243 642h0M394 466h0M418 48h0M358 437h0M281 705h0M277 722h0M309 534h0M299 551h0M367 338h0M391 247h0M284 558h0M411 273h0M267 547h0M325 598h0M335 552h0M294 559h0M396 311h0M264 632h0M369 467h0M399 382h0M399 545h0M281 632h0M328 583h0M463 76h0M223 729h0M437 101h0M372 567h0M203 730h0M278 673h0M284 645h0M289 590h0M126 734h0M293 646h0M441 240h0M323 496h0M335 695h0M140 733h0M315 535h0M361 559h0M303 577h0M216 699h0M89 737h0M313 526h0M323 574h0M284 567h0M295 647h0M393 243h0M371 479h0M317 532h0M298 500h0M265 581h0M282 639h0M288 636h0M203 695h0M317 650h0M414 73h0M314 519h0M266 645h0M289 684h0M469 49h0M266 585h0M393 215h0M237 661h0M278 644h0M81 738h0M318 435h0M333 346h0M373 358h0M257 690h0M348 225h0M207 706h0M303 627h0M426 89h0M153 734h0M217 737h0M333 541h0M305 570h0M485 47h0M324 470h0M291 542h0M263 612h0M284 618h0M325 519h0M289 653h0M489 51h0M254 633h0M336 265h0M301 525h0M347 593h0M357 479h0M405 331h0M395 547h0M248 603h0M285 666h0M390 606h0M483 53h0M356 520h0M381 358h0M362 448h0M274 659h0M464 97h0M324 579h0M309 581h0M433 75h0M378 280h0M322 559h0M177 728h0M381 368h0M64 739h0M261 602h0M95 737h0M434 78h0M240 724h0M314 569h0M276 667h0M352 330h0M302 674h0M374 353h0M345 511h0M277 663h0M278 527h0M342 518h0M141 734h0M321 565h0M367 461h0M371 413h0M422 133h0M180 720h0M174 737h0M375 154h0M140 738h0M357 284h0M377 212h0M361 221h0M267 557h0M460 127h0M132 737h0M286 566h0M331 603h0M356 360h0M291 611h0M389 355h0M429 96h0M326 439h0M375 432h0M333 433h0M380 492h0M336 637h0M250 680h0M329 463h0M346 350h0M315 639h0M272 680h0M273 682h0M71 739h0M351 253h0M268 688h0M310 607h0M113 737h0M370 146h0M232 711h0M346 537h0M305 711h0M168 728h0M256 664h0M260 647h0M228 699h0M256 721h0M364 189h0M304 535h0M421 119h0M256 666h0M412 199h0M102 739h0M294 623h0M373 133h0M366 614h0M318 494h0M253 676h0M352 234h0M424 309h0M282 678h0" stroke-opacity="0.42"/>
<path d="M436 90h0M297 652h0M465 54h0M326 507h0M341 363h0M342 413h0M341 534h0M110 738h0M150 732h0M382 463h0M116 735h0M281 661h0M325 385h0M322 521h0M305 508h0M157 733h0M360 347h0M257 707h0M304 582h0M292 704h0M337 607h0M348 509h0M337 686h0M353 589h0M446 51h0M341 505h0M332 554h0M366 383h0M418 49h0M366 472h0M104 737h0M340 355h0M365 342h0M392 210h0M312 529h0M231 700h0M291 523h0M299 662h0M165 739h0M199 696h0M320 588h0M332 572h0M249 651h0M320 553h0M368 528h0M414 171h0M351 498h0M245 704h0M267 533h0M355 343h0M417 542h0M304 707h0M282 620h0M317 559h0M340 390h0M308 562h0M296 595h0M402 113h0M96 739h0M321 560h0M209 738h0M295 685h0M400 287h0M267 575h0M398 472h0M452 492h0M331 712h0M389 242h0M392 555h0M368 281h0M225 686h0M362 292h0M419 73h0M319 552h0M306 522h0M272 520h0M371 518h0M500 237h0M260 672h0M363 111h0M324 512h0M200 730h0M294 596h0M249 707h0M67 739h0M452 51h0M312 473h0M422 398h0M433 89h0M261 623h0M164 733h0M433 43h0M458 41h0M399 263h0M244 657h0M338 466h0M388 327h0M348 358h0M305 600h0M272 571h0M248 724h0M203 723h0M334 270h0M166 735h0M368 585h0M371 490h0M425 63h0M222 690h0M297 674h0M319 666h0M341 372h0M270 609h0M378 329h0M55 738h0M223 690h0M106 736h0M431 72h0M339 439h0M357 332h0M463 100h0M207 735h0M317 590h0M371 366h0M193 712h0M339 510h0M366 559h0M296 620h0M164 735h0M227 729h0M315 539h0M252 729h0M371 130h0M338 387h0M350 577h0M401 235h0M268 567h0M402 74h0M307 642h0M203 711h0M357 218h0M434 491h0M299 625h0M307 392h0M259 606h0M311 577h0M248 674h0M369 142h0M259 700h0M293 613h0M49 739h0M366 165h0M262 622h0M463 99h0M315 566h0M308 654h0M444 89h0M319 316h0M275 650h0M328 475h0M159 734h0M226 678h0M258 692h0M278 517h0M242 671h0M96 739h0M355 441h0M349 510h0M211 737h0M329 554h0M192 720h0M314 634h0M272 667h0M272 685h0M365 448h0M307 628h0M355 292h0M302 477h0M247 672h0M352 518h0M448 170h0M295 656h0M335 307h0M357 163h0M323 437h0M365 511h0M457 52h0M298 521h0M348 484h0M353 160h0M304 635h0M276 668h0M174 723h0M251 699h0M157 734h0M544 44h0M374 199h0M338 502h0M395 66h0M393 662h0M306 561h0M363 271h0M218 705h0M369 106h0M351 411h0M264 717h0M343 633h0M326 454h0M364 198h0M238 661h0M315 539h0M325 448h0M174 739h0M331 538h0M330 373h0M352 185h0M428 52h0M231 654h0M277 672h0M277 675h0M276 509h0M143 730h0M391 326h0M259 614h0M352 508h0M156 739h0M181 720h0M376 505h0M370 368h0M168 739h0M306 375h0M192 716h0M433 66h0M220 732h0M354 483h0M347 585h0M239 671h0M354 545h0M464 461h0M284 548h0M340 494h0M410 185h0M331 505h0M351 216h0M252 717h0M191 710h0M320 575h0M340 518h0M370 560h0M378 158h0M254 591h0M416 123h0M413 113h0M215 716h0M307 572h0M120 736h0M303 600h0M303 663h0M253 689h0M153 735h0M303 518h0M310 656h0M273 592h0M304 553h0M371 514h0M316 599h0M314 584h0M420 381h0M420 53h0M327 477h0M293 573h0M435 100h0M186 726h0M358 297h0M322 541h0M345 316h0M290 673h0M429 164h0M352 401h0M341 326h0M286 545h0M271 541h0M86 738h0M293 605h0M266 608h0M72 737h0M402 211h0M320 556h0M263 644h0M281 654h0M257 599h0M368 198h0M299 654h0M310 666h0M395 118h0M218 710h0M368 452h0M321 582h0M411 214h0M293 646h0M327 486h0M213 677h0M419 500h0M284 648h0M298 572h0M336 213h0M176 715h0M462 44h0M460 35h0M428 163h0M300 553h0M232 716h0M402 318h0M274 641h0M293 601h0M501 43h0M336 470h0M311 471h0M349 419h0M339 533h0M275 690h0M318 609h0M292 645h0M283 523h0M263 738h0M336 646h0M285 680h0M391 210h0M332 427h0M340 519h0M360 465h0M261 677h0M378 393h0M338 535h0M254 655h0M473 61h0M271 573h0M367 451h0M177 733h0M334 200h0M378 511h0M334 501h0M533 59h0M286 556h0M196 730h0M362 483h0M276 708h0M273 558h0" stroke-opacity="0.42"/>
<path d="M386 229h0M357 478h0M389 48h0M409 649h0M68 738h0M424 57h0M342 473h0M353 408h0M319 488h0M322 595h0M374 145h0M456 89h0M363 628h0M360 452h0M234 682h0M386 472h0M375 456h0M326 416h0M238 707h0M291 562h0M243 657h0M328 718h0M367 554h0M372 581h0M352 377h0M350 505h0M340 518h0M410 243h0M263 683h0M405 432h0M258 697h0M344 556h0M321 519h0M307 573h0M369 586h0M205 701h0M281 555h0M256 572h0M412 229h0M284 550h0M244 651h0M482 42h0M321 557h0M425 35h0M253 653h0M310 556h0M229 688h0M463 47h0M281 567h0M203 725h0M107 737h0M275 688h0M343 515h0M461 238h0M335 580h0M448 108h0M357 322h0M283 632h0M417 67h0M198 724h0M417 121h0M351 248h0M343 564h0M357 725h0M309 490h0M261 593h0M377 134h0M275 597h0M382 279h0M492 52h0M397 46h0M324 584h0M284 681h0M313 477h0M320 660h0M356 531h0M426 94h0M345 343h0M415 42h0M328 376h0M398 188h0M295 660h0M457 51h0M329 329h0M233 706h0M354 120h0M411 154h0M323 432h0M338 489h0M154 739h0M379 589h0M325 584h0M355 588h0M325 585h0M293 611h0M343 543h0M361 408h0M214 722h0M333 467h0M285 568h0M306 688h0M310 532h0M311 545h0M389 315h0M109 737h0M311 567h0M242 683h0M338 284h0M214 713h0M228 706h0M320 514h0M360 482h0M399 272h0M498 62h0M312 583h0M274 570h0M337 540h0M354 277h0M249 717h0M68 738h0M265 685h0M99 737h0M427 43h0M326 511h0M370 181h0M55 737h0M327 512h0M387 180h0M340 196h0M356 264h0M408 167h0M325 513h0M437 98h0M262 601h0M258 613h0M315 529h0M244 697h0M247 715h0M307 582h0M479 53h0M344 256h0M268 527h0M411 532h0M73 739h0M347 270h0M428 100h0M248 705h0M330 585h0M310 718h0M239 641h0M425 43h0M321 493h0M368 468h0M402 35h0M347 377h0M353 308h0M348 468h0M311 450h0M349 375h0M296 602h0M302 504h0M316 504h0M306 521h0M406 474h0M371 546h0M327 553h0M61 739h0M375 392h0M341 412h0M291 606h0M356 132h0M368 484h0M369 119h0M214 703h0M375 344h0M291 614h0M535 52h0M306 623h0M326 554h0M168 725h0M91 739h0M269 729h0M357 282h0M381 164h0M395 247h0M295 656h0M197 709h0M152 732h0M265 679h0M315 670h0M412 351h0M481 62h0M334 437h0M306 580h0M333 541h0M324 475h0M386 281h0M326 612h0M265 612h0M370 662h0M267 595h0M306 549h0M268 678h0M343 289h0M377 433h0M249 612h0M439 168h0M434 250h0M278 645h0M320 518h0M323 514h0M293 633h0M372 400h0M385 310h0M324 507h0M328 371h0M445 46h0M321 539h0M302 533h0M330 546h0M345 261h0M291 587h0M261 605h0M468 46h0M332 502h0M281 688h0M310 599h0M266 645h0M261 665h0M417 168h0M392 691h0M448 43h0M364 305h0M356 554h0M362 603h0M344 504h0M319 558h0M358 494h0M439 35h0M337 311h0M287 671h0M523 54h0M126 739h0M376 542h0M326 580h0M398 322h0M362 615h0M278 720h0M380 256h0M398 89h0M52 738h0M302 491h0M265 695h0M370 634h0M218 676h0M314 448h0M332 375h0M253 694h0M410 127h0M386 170h0M336 590h0M290 580h0M295 625h0M288 642h0M451 191h0M258 698h0M458 59h0M288 549h0M529 47h0M336 687h0M340 530h0M164 732h0M260 632h0M391 468h0M288 631h0M281 522h0M299 561h0M321 433h0M406 430h0M328 513h0M350 558h0M363 288h0M247 718h0M556 46h0M277 559h0M415 57h0M374 465h0M329 501h0M323 332h0M266 650h0M269 705h0M366 647h0M309 609h0M323 447h0M471 68h0M301 561h0M203 711h0M416 55h0M343 432h0M358 470h0M330 650h0M262 585h0M416 172h0M279 719h0M239 684h0M359 462h0M213 691h0M318 452h0M281 545h0M301 573h0M416 85h0M406 241h0M389 497h0M235 684h0M313 646h0M406 281h0M390 292h0M442 72h0M307 686h0M406 527h0M196 715h0M348 397h0M392 232h0M425 64h0M364 466h0M363 551h0M308 526h0M257 698h0M337 545h0M306 663h0M436 44h0M304 637h0M301 598h0M205 708h0M290 609h0M237 713h0M278 512h0M352 254h0M258 670h0M277 649h0M266 648h0M213 701h0M327 555h0M200 733h0M333 456h0M363 478h0M297 601h0" stroke-opacity="0.42"/>
<path d="M338 239h0M385 372h0M239 658h0M305 577h0M401 231h0M419 476h0M489 74h0M299 547h0M415 179h0M245 714h0M336 452h0M531 44h0M414 524h0M90 738h0M297 554h0M114 739h0M372 225h0M379 630h0M312 497h0M253 705h0M229 731h0M395 195h0M323 489h0M330 255h0M292 561h0M328 520h0M332 528h0M400 532h0M446 62h0M343 368h0M265 707h0M420 77h0M323 535h0M107 738h0M334 390h0M347 671h0M357 521h0M366 236h0M318 655h0M291 673h0M264 605h0M227 706h0M303 623h0M145 730h0M415 124h0M441 47h0M441 56h0M464 58h0M313 573h0M330 657h0M207 708h0M319 557h0M290 705h0M156 727h0M155 728h0M418 63h0M290 601h0M292 582h0M301 695h0M348 226h0M421 551h0M356 520h0M364 436h0M246 663h0M262 604h0M283 610h0M359 527h0M426 81h0M319 547h0M355 378h0M419 61h0M402 272h0M308 550h0M331 548h0M373 640h0M285 597h0M461 51h0M282 605h0M456 95h0M483 69h0M292 596h0M332 385h0M258 668h0M267 702h0M270 687h0M240 723h0M168 730h0M400 524h0M529 55h0M266 697h0M412 160h0M327 512h0M370 525h0M267 660h0M276 546h0M357 505h0M487 43h0M298 684h0M367 119h0M478 54h0M371 234h0M171 733h0M425 70h0M149 728h0M460 85h0M263 664h0M204 717h0M149 729h0M372 585h0M373 130h0M390 44h0M374 640h0M297 507h0M300 509h0M340 547h0M338 421h0M125 736h0M312 477h0M335 539h0M379 452h0M392 619h0M392 460h0M482 49h0M311 597h0M276 631h0M395 383h0M452 44h0M383 495h0M222 684h0M314 647h0M392 494h0M286 630h0M274 560h0M202 730h0M341 137h0M279 693h0M268 613h0M370 464h0M231 680h0M243 646h0M472 47h0M230 681h0M299 542h0M454 42h0M346 581h0M482 61h0M239 643h0M357 623h0M264 693h0M272 696h0M314 725h0M390 248h0M184 724h0M315 496h0M200 736h0M397 377h0M289 659h0M336 505h0M333 545h0M340 541h0M358 520h0M315 572h0M235 704h0M326 588h0M451 80h0M348 128h0M318 701h0M129 738h0M369 439h0M282 568h0M324 472h0M368 165h0M375 153h0M414 50h0M173 738h0M195 722h0M274 616h0M274 593h0M345 646h0M366 392h0M281 508h0M117 738h0M432 63h0M295 547h0M151 738h0M406 56h0M410 143h0M223 699h0M393 374h0M308 653h0M217 690h0M279 702h0M371 413h0M331 408h0M235 694h0M293 590h0M322 558h0M345 567h0M114 737h0M358 185h0M366 399h0M227 711h0M316 543h0M331 536h0M413 175h0M319 534h0M340 503h0M375 331h0M364 236h0M261 619h0M203 726h0M356 289h0M201 697h0M254 668h0M350 533h0M321 563h0M388 372h0M269 646h0M312 582h0M372 240h0M390 413h0M328 652h0M381 416h0M237 646h0M268 570h0M241 650h0M288 675h0M122 736h0M328 521h0M293 624h0M303 540h0M77 739h0M375 443h0M330 545h0M379 552h0M386 262h0M194 719h0M326 548h0M494 53h0M485 48h0M263 655h0M358 214h0M148 733h0M304 480h0M353 412h0M293 541h0M452 71h0M467 62h0M128 735h0M270 533h0M442 76h0M308 525h0M340 641h0M322 518h0M332 494h0M293 435h0M465 74h0M327 435h0M369 344h0M309 539h0M362 291h0M344 666h0M50 737h0M399 471h0M271 673h0M292 556h0M383 639h0M264 669h0M363 465h0M52 738h0M470 43h0M335 526h0M350 417h0M381 401h0M290 577h0M405 174h0M264 636h0M225 719h0M377 481h0M288 584h0M143 733h0M348 150h0M305 608h0M283 663h0M369 458h0M501 57h0M377 352h0M278 554h0M286 662h0M178 727h0M298 629h0M71 737h0M399 167h0M119 738h0M281 570h0M206 700h0M255 715h0M406 140h0M330 509h0M370 166h0M276 669h0M256 682h0M315 563h0M356 644h0M376 568h0M273 651h0M337 448h0M279 600h0M343 462h0M299 552h0M317 582h0M261 679h0M292 525h0M399 225h0M324 403h0M308 649h0M289 553h0M324 570h0M426 35h0M388 528h0M310 501h0M305 535h0M309 565h0M249 649h0M291 628h0M311 628h0M337 622h0M353 410h0M306 534h0M88 737h0M380 261h0M334 445h0M334 517h0M321 479h0M421 133h0M305 581h0M384 308h0M326 459h0M329 586h0M392 247h0M169 732h0M335 636h0M284 682h0M235 691h0M304 583h0M312 655h0M49 739h0" stroke-opacity="0.42"/>
<path d="M209 702h0M342 511h0M496 51h0M324 561h0M323 460h0M360 309h0M319 386h0M319 458h0M357 553h0M173 726h0M397 504h0M376 196h0M478 51h0M234 725h0M291 542h0M499 57h0M399 345h0M301 654h0M338 508h0M350 541h0M183 726h0M318 594h0M292 617h0M377 290h0M228 670h0M317 514h0M305 560h0M369 572h0M422 103h0M247 672h0M325 529h0M297 515h0M306 682h0M281 561h0M321 565h0M366 221h0M224 706h0M278 504h0M446 70h0M315 662h0M317 459h0M374 363h0M281 534h0M209 726h0M356 510h0M351 422h0M281 672h0M326 387h0M249 656h0M297 551h0M416 48h0M381 404h0M370 485h0M412 247h0M403 135h0M410 464h0M108 738h0M410 206h0M276 696h0M335 409h0M319 501h0M391 563h0M314 580h0M340 482h0M423 35h0M413 91h0M413 118h0M241 685h0M273 599h0M117 739h0M298 658h0M404 425h0M154 736h0M432 110h0M373 285h0M301 525h0M390 472h0M313 636h0M421 71h0M398 191h0M391 206h0M305 647h0M386 51h0M399 212h0M353 559h0M102 738h0M335 177h0M331 335h0M328 450h0M424 79h0M188 724h0M257 673h0M396 246h0M304 682h0M433 75h0M260 706h0M241 721h0M321 326h0M318 598h0M272 646h0M323 530h0M262 575h0M113 739h0M346 329h0M288 576h0M416 366h0M203 722h0M281 552h0M262 599h0M287 685h0M283 507h0M321 636h0M355 413h0M154 734h0M260 668h0M181 738h0M517 45h0M228 700h0M275 692h0M209 732h0M373 362h0M241 688h0M200 724h0M329 457h0M332 555h0M446 41h0M343 262h0M271 588h0M263 574h0M363 502h0M349 317h0M296 564h0M344 318h0M278 630h0M243 698h0M203 737h0M327 540h0M364 587h0M281 687h0M299 582h0M418 43h0M290 667h0M338 520h0M352 507h0M192 721h0M268 695h0M273 700h0M389 392h0M229 697h0M182 725h0M141 737h0M566 35h0M343 492h0M80 738h0M313 564h0M231 679h0M237 651h0M347 600h0M345 672h0M146 737h0M274 538h0M341 324h0M173 726h0M441 35h0M392 254h0M342 408h0M362 266h0M316 571h0M274 532h0M343 540h0M312 579h0M392 302h0M333 525h0M216 716h0M271 651h0M249 697h0M287 554h0M409 189h0M230 673h0M478 45h0M409 61h0M278 504h0M351 313h0M344 367h0M199 709h0M304 547h0M322 616h0M275 574h0M340 569h0M324 368h0M439 71h0M412 350h0M310 472h0M372 565h0M160 727h0M151 736h0M286 661h0M191 722h0M348 633h0M367 408h0M238 670h0M333 570h0M420 64h0M314 545h0M326 432h0M229 716h0M303 723h0M326 549h0M268 557h0M362 210h0M264 691h0M295 654h0M444 460h0M279 668h0M260 611h0M368 190h0M368 346h0M333 495h0M503 70h0M290 665h0M409 48h0M350 528h0M241 697h0M304 604h0M261 597h0M315 489h0M333 664h0M307 548h0M328 505h0M363 467h0M308 511h0M300 527h0M392 155h0M255 672h0M493 82h0M304 434h0M455 65h0M304 551h0M265 692h0M202 731h0M321 418h0M334 370h0M302 576h0M369 395h0M347 374h0M359 585h0M395 585h0M242 687h0M77 738h0M319 511h0M407 209h0M235 640h0M133 736h0M390 570h0M212 730h0M432 43h0M300 663h0M269 664h0M310 647h0M235 688h0M63 738h0M463 71h0M434 72h0M155 729h0M326 591h0M337 279h0M335 509h0M289 477h0M297 562h0M275 596h0M165 739h0M273 618h0M346 412h0M390 255h0M259 670h0M343 546h0M347 631h0M379 184h0M417 540h0M50 739h0M414 472h0M343 455h0M380 225h0M436 86h0M454 35h0M342 527h0M170 728h0M331 584h0M402 574h0M433 83h0M292 518h0M309 586h0M280 701h0M335 505h0M303 710h0M515 44h0M233 718h0M411 556h0M311 623h0M388 52h0M409 170h0M111 739h0M287 588h0M452 61h0M317 607h0M349 370h0M372 355h0M332 524h0M164 726h0M207 731h0M380 466h0M242 684h0M272 634h0M316 504h0M242 722h0M253 707h0M214 725h0M156 733h0M365 231h0M353 436h0M218 693h0M351 194h0M374 460h0M369 474h0M355 499h0M312 516h0M404 259h0M338 583h0M325 269h0M324 428h0M223 664h0M382 470h0M291 416h0M117 739h0M275 501h0M350 663h0M367 306h0M387 486h0M394 291h0M292 576h0M345 371h0M322 564h0M266 666h0M270 681h0M352 399h0M331 360h0M77 739h0" stroke-opacity="0.42"/>
<path d="M413 57h0M396 183h0M475 304h0M421 73h0M301 489h0M245 634h0M93 737h0M297 587h0M489 60h0M340 272h0M379 532h0M234 650h0M316 654h0M534 63h0M287 585h0M301 632h0M312 520h0M317 513h0M144 734h0M248 607h0M373 487h0M299 618h0M129 734h0M482 64h0M362 429h0M414 399h0M335 424h0M316 452h0M464 224h0M360 611h0M347 581h0M292 588h0M261 643h0M329 570h0M273 691h0M397 534h0M306 673h0M286 552h0M272 638h0M340 685h0M211 699h0M392 231h0M409 75h0M265 713h0M325 247h0M173 736h0M310 545h0M325 434h0M249 624h0M383 694h0M392 511h0M310 517h0M342 515h0M97 738h0M373 480h0M370 298h0M279 531h0M302 530h0M375 477h0M329 389h0M316 574h0M300 659h0M364 438h0M342 637h0M227 705h0M333 363h0M99 739h0M397 197h0M439 54h0M264 702h0M338 230h0M128 738h0M319 499h0M281 595h0M358 502h0M414 73h0M441 245h0M325 577h0M331 542h0M460 68h0M266 679h0M87 737h0M385 123h0M327 692h0M397 117h0M104 737h0M263 671h0M417 52h0M71 738h0M494 62h0M285 663h0M195 738h0M138 730h0M217 729h0M433 57h0M139 736h0M318 669h0M236 672h0M463 55h0M293 546h0M243 641h0M380 382h0M326 510h0M342 546h0M427 155h0M418 173h0M367 325h0M229 706h0M319 483h0M204 698h0M275 570h0M456 92h0M346 523h0M405 355h0M201 720h0M387 253h0M399 269h0M456 83h0M356 395h0M336 530h0M374 548h0M295 680h0M166 725h0M301 549h0M283 560h0M319 662h0M341 559h0M237 698h0M360 509h0M291 554h0M322 529h0M361 412h0M573 44h0M405 210h0M156 731h0M261 611h0M141 736h0M437 54h0M310 569h0M263 606h0M266 607h0M232 709h0M278 644h0M334 470h0M303 493h0M220 732h0M316 650h0M423 114h0M472 59h0M290 619h0M383 193h0M250 705h0M340 246h0M397 201h0M361 317h0M299 546h0M503 41h0M319 361h0M328 542h0M240 676h0M330 398h0M391 253h0M380 331h0M462 63h0M289 581h0M342 419h0M320 522h0M342 488h0M352 406h0M324 529h0M422 45h0M294 503h0M319 652h0M121 736h0M266 567h0M328 584h0M322 599h0M310 598h0M108 737h0M277 589h0M268 568h0M158 732h0M454 46h0M106 736h0M412 460h0M291 641h0M272 574h0M399 253h0M99 737h0M341 528h0M377 411h0M459 46h0M329 651h0M316 526h0M392 589h0M215 714h0M312 598h0M326 595h0M373 662h0M260 668h0M238 704h0M317 662h0M444 70h0M209 719h0M253 661h0M331 561h0M311 574h0M335 369h0M400 168h0M326 397h0M355 274h0M524 58h0M256 694h0M313 694h0M429 70h0M235 735h0M289 689h0M435 481h0M372 541h0M302 592h0M331 571h0M282 715h0M556 42h0M325 508h0M357 411h0M403 177h0M362 489h0M317 482h0M503 243h0M438 53h0M307 654h0M60 739h0M216 735h0M454 56h0M199 708h0M347 172h0M264 722h0M256 591h0M326 579h0M137 730h0M92 737h0M354 333h0M439 69h0M244 685h0M176 732h0M368 628h0M287 439h0M249 626h0M327 595h0M233 649h0M293 677h0M431 43h0M311 560h0M305 663h0M368 492h0M357 476h0M395 335h0M149 736h0M294 656h0M274 635h0M346 367h0M385 353h0M338 501h0M178 728h0M510 52h0M346 333h0M347 235h0M294 600h0M281 579h0M297 529h0M511 47h0M245 635h0M302 534h0M424 59h0M405 334h0M237 660h0M248 675h0M332 455h0M326 507h0M324 483h0M287 654h0M429 66h0M323 506h0M356 273h0M306 396h0M470 49h0M277 552h0M368 677h0M393 385h0M257 628h0M404 138h0M304 504h0M343 415h0M342 293h0M158 728h0M275 660h0M293 567h0M332 668h0M442 116h0M309 564h0M261 644h0M328 551h0M320 517h0M323 458h0M128 733h0M210 708h0M267 689h0M302 582h0M365 504h0M301 627h0M58 737h0M206 738h0M93 739h0M380 386h0M287 641h0M284 644h0M353 680h0M294 528h0M295 581h0M350 136h0M366 404h0M390 432h0M302 584h0M193 704h0M396 131h0M235 719h0M432 85h0M332 709h0M331 269h0M233 678h0M70 737h0M97 737h0M309 633h0M85 737h0M363 616h0M115 736h0M285 559h0M253 668h0M322 531h0M411 459h0M271 619h0M227 695h0M223 707h0M290 538h0M272 540h0M278 548h0M587 46h0" stroke-opacity="0.42"/>
</g>
<path d="M502.5 1301.1L504.2 1301.1L505.8 1301.1L507.5 1301.1L509.2 1301.1L510.9 1301.0L512.5 1301.0L514.2 1301.0L515.9 1301.0L517.5 1301.0L519.2 1301.0L520.9 1301.0L522.5 1301.0L524.2 1301.0L525.9 1301.0L527.6 1301.0L529.2 1301.0L530.9 1300.9L532.6 1300.9L534.2 1300.9L535.9 1300.9L537.6 1300.9L539.2 1300.8L540.9 1300.8L542.6 1300.8L544.2 1300.8L545.9 1300.7L547.6 1300.7L549.3 1300.6L550.9 1300.6L552.6 1300.6L554.3 1300.5L555.9 1300.4L557.6 1300.4L559.3 1300.3L560.9 1300.2L562.6 1300.1L564.3 1300.0L565.9 1299.9L567.6 1299.8L569.3 1299.7L571.0 1299.5L572.6 1299.4L574.3 1299.2L576.0 1299.0L577.6 1298.8L579.3 1298.6L581.0 1298.3L582.6 1298.1L584.3 1297.8L586.0 1297.4L587.7 1297.1L589.3 1296.7L591.0 1296.2L592.7 1295.8L594.3 1295.2L596.0 1294.6L597.7 1294.0L599.3 1293.3L601.0 1292.5L602.7 1291.7L604.3 1290.8L606.0 1289.7L607.7 1288.6L609.4 1287.4L611.0 1286.1L612.7 1284.6L614.4 1283.0L616.0 1281.2L617.7 1279.3L619.4 1277.2L621.0 1274.9L622.7 1272.4L624.4 1269.7L626.1 1266.7L627.7 1263.4L629.4 1259.9L631.1 1256.0L632.7 1251.9L634.4 1247.3L636.1 1242.4L637.7 1237.1L639.4 1231.4L641.1 1225.3L642.7 1218.7L644.4 1211.6L646.1 1204.0L647.8 1195.9L649.4 1187.3L651.1 1178.2L652.8 1168.5L654.4 1158.4L656.1 1147.8L657.8 1136.8L659.4 1125.3L661.1 1113.6L662.8 1101.5L664.4 1089.3L666.1 1077.0L667.8 1064.6L669.5 1052.5L671.1 1040.6L672.8 1029.0L674.5 1018.0L676.1 1007.7L677.8 998.0L679.5 989.3L681.1 981.4L682.8 974.6L684.5 968.7L686.2 963.8L687.8 959.8L689.5 956.6L691.2 954.2L692.8 952.5L694.5 951.2L696.2 950.4L697.8 949.8L699.5 949.5L701.2 949.3L702.8 949.2L704.5 949.1L706.2 949.1L707.9 949.1L709.5 949.1L711.2 949.1L712.9 949.1L714.5 949.1L716.2 949.1L717.9 949.1L719.5 949.1L721.2 949.1L722.9 949.1L724.5 949.1L726.2 949.1L727.9 949.1L729.6 949.1L731.2 949.1L732.9 949.1L734.6 949.1L736.2 949.1L737.9 949.1L739.6 949.1L741.2 949.1L742.9 949.1L744.6 949.1L746.3 949.1L747.9 949.1L749.6 949.1L751.3 949.1L752.9 949.1L754.6 949.1L756.3 949.1L757.9 949.1L759.6 949.1L761.3 949.1L762.9 949.1L764.6 949.1L766.3 949.1L768.0 949.1L769.6 949.1" fill="none" stroke="#e0151b" stroke-width="2.3" stroke-linejoin="round"/>
</g>
<rect x="478.2" y="931.4" width="336.0" height="387.2" fill="none" stroke="#333" stroke-width="1.4"/>
<path d="M490.0 1318.6v4M570.7 1318.6v4M651.4 1318.6v4M732.1 1318.6v4M812.8 1318.6v4" stroke="#333" stroke-width="1.3" fill="none"/>
<rect x="817.7" y="900.5" width="336.0" height="30.9" fill="#fff" stroke="#111" stroke-width="1.6"/>
<text x="996.2" y="927.2" font-size="29" text-anchor="middle">RH</text>
<clipPath id="cd2"><rect x="817.7" y="931.4" width="336.0" height="387.2"/></clipPath>
<g clip-path="url(#cd2)">
<path d="M869.9 931.4V1318.6M950.5 931.4V1318.6M1031.2 931.4V1318.6M1112.0 931.4V1318.6M817.7 1257.1H1153.7M817.7 1169.1H1153.7M817.7 1081.1H1153.7M817.7 993.1H1153.7" stroke="#e3e3e3" stroke-width="1.3" fill="none"/>
<path d="M829.5 931.4V1318.6M910.2 931.4V1318.6M990.9 931.4V1318.6M1071.6 931.4V1318.6M1152.3 931.4V1318.6M817.7 1301.1H1153.7M817.7 1213.1H1153.7M817.7 1125.1H1153.7M817.7 1037.1H1153.7M817.7 949.1H1153.7" stroke="#e3e3e3" stroke-width="2.4" fill="none"/>
<g transform="translate(817.7 931.4) scale(.5)" fill="none" stroke="#000" stroke-width="15.2" stroke-linecap="round" opacity="1">
<path d="M235 713h0M451 69h0M401 413h0M481 66h0M301 503h0M393 407h0M257 727h0M433 105h0M368 327h0M455 142h0M293 526h0M311 676h0M177 738h0M229 732h0M215 732h0M462 49h0M416 156h0M318 603h0M298 702h0M408 351h0M368 209h0M198 728h0M408 171h0M189 728h0M403 429h0M423 169h0M237 739h0M285 721h0M321 732h0M329 737h0M254 676h0M278 650h0M394 340h0M360 537h0M614 35h0" stroke-opacity="0.42"/>
<path d="M354 553h0M358 389h0M286 678h0M265 733h0M369 582h0M178 732h0M387 484h0M317 529h0M387 402h0M241 693h0M404 374h0M318 628h0M417 237h0M402 79h0M389 554h0M464 144h0M213 716h0M361 516h0M243 737h0M327 729h0M344 544h0M431 129h0M327 259h0M158 737h0M313 670h0M277 709h0M350 513h0M365 324h0M199 692h0M312 673h0M480 62h0M274 729h0M371 336h0M375 396h0" stroke-opacity="0.42"/>
<path d="M351 663h0M316 698h0M306 681h0M445 119h0M312 528h0M456 42h0M317 677h0M372 513h0M205 718h0M321 594h0M287 601h0M218 708h0M421 164h0M309 738h0M339 601h0M323 531h0M231 525h0M284 735h0M520 38h0M388 496h0M251 726h0M325 517h0M313 735h0M274 544h0M335 673h0M457 58h0M320 607h0M442 176h0M350 678h0M448 199h0M484 40h0M392 268h0M221 738h0M311 696h0" stroke-opacity="0.42"/>
<path d="M368 299h0M307 738h0M345 529h0M493 58h0M362 670h0M323 644h0M453 80h0M336 545h0M341 626h0M294 636h0M330 598h0M448 74h0M234 724h0M482 64h0M388 133h0M357 604h0M348 669h0M430 182h0M305 698h0M299 667h0M329 556h0M283 663h0M384 402h0M320 739h0M501 50h0M341 540h0M268 733h0M305 724h0M428 144h0M322 685h0M414 154h0M401 405h0M390 301h0M438 132h0" stroke-opacity="0.42"/>
<path d="M266 622h0M347 521h0M342 693h0M337 558h0M461 37h0M387 450h0M333 534h0M421 99h0M311 734h0M386 231h0M305 579h0M366 574h0M415 434h0M363 435h0M178 737h0M396 79h0M394 241h0M233 738h0M231 736h0M386 537h0M395 152h0M378 299h0M342 721h0M198 737h0M265 734h0M380 578h0M393 422h0M450 51h0M386 368h0M329 585h0M211 724h0M318 733h0M433 122h0M359 256h0" stroke-opacity="0.42"/>
<path d="M306 730h0M446 57h0M327 516h0M392 548h0M326 517h0M256 594h0M298 736h0M313 539h0M384 389h0M237 735h0M365 532h0M406 411h0M400 290h0M255 717h0M241 737h0M183 736h0M362 531h0M357 503h0M308 713h0M309 698h0M478 41h0M400 247h0M308 729h0M414 186h0M133 738h0M213 717h0M257 622h0M294 705h0M393 267h0M372 511h0M421 517h0M206 725h0M383 554h0M394 240h0" stroke-opacity="0.42"/>
<path d="M277 674h0M227 713h0M400 311h0M368 303h0M228 733h0M371 395h0M300 665h0M399 351h0M404 495h0M484 63h0M390 493h0M308 736h0M428 136h0M411 329h0M353 429h0M278 586h0M391 372h0M384 429h0M239 737h0M259 663h0M322 594h0M274 739h0M309 652h0M350 733h0M297 670h0M221 722h0M223 730h0M396 366h0M290 727h0M438 110h0M338 583h0M381 430h0M403 173h0M112 739h0" stroke-opacity="0.42"/>
<path d="M415 141h0M288 739h0M220 739h0M315 655h0M294 714h0M299 652h0M342 552h0M329 563h0M294 731h0M282 508h0M416 166h0M184 739h0M358 592h0M280 639h0M394 202h0M403 320h0M448 44h0M390 200h0M337 733h0M258 704h0M291 727h0M457 54h0M340 538h0M363 427h0M273 685h0M217 713h0M315 738h0M278 673h0M331 688h0M362 556h0M236 702h0M390 301h0M285 736h0M636 35h0" stroke-opacity="0.42"/>
</g>
<path d="M990.5 1279.7l4.4 7.6h-8.8zM967.3 1292.6l4.4 7.6h-8.8zM966.6 1288.7l4.4 7.6h-8.8zM1003.5 1281.4l4.4 7.6h-8.8zM989.4 1252.9l4.4 7.6h-8.8zM1003.5 1245.8l4.4 7.6h-8.8zM988.3 1258.3l4.4 7.6h-8.8zM985.5 1282.2l4.4 7.6h-8.8zM994.6 1247.7l4.4 7.6h-8.8zM985.4 1274.0l4.4 7.6h-8.8zM975.3 1238.9l4.4 7.6h-8.8zM989.1 1273.6l4.4 7.6h-8.8zM998.3 1255.1l4.4 7.6h-8.8zM998.6 1279.9l4.4 7.6h-8.8zM988.7 1282.3l4.4 7.6h-8.8zM1013.4 1270.7l4.4 7.6h-8.8zM1001.3 1260.6l4.4 7.6h-8.8zM978.1 1286.1l4.4 7.6h-8.8zM1002.2 1284.0l4.4 7.6h-8.8zM972.6 1288.7l4.4 7.6h-8.8zM1006.8 1278.5l4.4 7.6h-8.8zM976.0 1293.0l4.4 7.6h-8.8zM995.4 1226.2l4.4 7.6h-8.8zM995.6 1260.6l4.4 7.6h-8.8zM997.3 1264.8l4.4 7.6h-8.8zM984.6 1258.6l4.4 7.6h-8.8zM1004.3 1274.3l4.4 7.6h-8.8zM981.4 1285.3l4.4 7.6h-8.8zM964.3 1287.3l4.4 7.6h-8.8zM1010.0 1277.9l4.4 7.6h-8.8zM959.0 1286.1l4.4 7.6h-8.8zM999.8 1277.6l4.4 7.6h-8.8zM966.7 1194.4l4.4 7.6h-8.8zM990.9 1197.9l4.4 7.6h-8.8zM999.8 1155.7l4.4 7.6h-8.8z" fill="#3d3df5" fill-opacity="0.62"/>
<path d="M873.9 1301.0L875.5 1301.0L877.2 1301.0L878.8 1301.0L880.4 1301.0L882.1 1301.0L883.7 1300.9L885.3 1300.9L887.0 1300.9L888.6 1300.9L890.3 1300.9L891.9 1300.8L893.5 1300.8L895.2 1300.8L896.8 1300.8L898.4 1300.7L900.1 1300.7L901.7 1300.7L903.3 1300.6L905.0 1300.6L906.6 1300.5L908.3 1300.5L909.9 1300.4L911.5 1300.3L913.2 1300.2L914.8 1300.2L916.4 1300.1L918.1 1300.0L919.7 1299.9L921.3 1299.7L923.0 1299.6L924.6 1299.5L926.3 1299.3L927.9 1299.1L929.5 1298.9L931.2 1298.7L932.8 1298.5L934.4 1298.2L936.1 1298.0L937.7 1297.7L939.4 1297.3L941.0 1297.0L942.6 1296.5L944.3 1296.1L945.9 1295.6L947.5 1295.1L949.2 1294.5L950.8 1293.9L952.4 1293.2L954.1 1292.4L955.7 1291.6L957.4 1290.6L959.0 1289.6L960.6 1288.5L962.3 1287.3L963.9 1286.0L965.5 1284.6L967.2 1283.0L968.8 1281.3L970.5 1279.4L972.1 1277.3L973.7 1275.1L975.4 1272.7L977.0 1270.0L978.6 1267.1L980.3 1264.0L981.9 1260.5L983.5 1256.8L985.2 1252.8L986.8 1248.5L988.5 1243.7L990.1 1238.7L991.7 1233.2L993.4 1227.3L995.0 1220.9L996.6 1214.1L998.3 1206.9L999.9 1199.1L1001.5 1190.9L1003.2 1182.2L1004.8 1173.0L1006.5 1163.3L1008.1 1153.1L1009.7 1142.5L1011.4 1131.5L1013.0 1120.1L1014.6 1108.4L1016.3 1096.5L1017.9 1084.5L1019.6 1072.4L1021.2 1060.4L1022.8 1048.5L1024.5 1036.9L1026.1 1025.8L1027.7 1015.1L1029.4 1005.2L1031.0 995.9L1032.6 987.5L1034.3 980.0L1035.9 973.5L1037.6 967.9L1039.2 963.2L1040.8 959.4L1042.5 956.4L1044.1 954.1L1045.7 952.4L1047.4 951.2L1049.0 950.4L1050.6 949.8L1052.3 949.5L1053.9 949.3L1055.6 949.2L1057.2 949.1L1058.8 949.1L1060.5 949.1L1062.1 949.1L1063.7 949.1L1065.4 949.1L1067.0 949.1L1068.7 949.1L1070.3 949.1L1071.9 949.1L1073.6 949.1L1075.2 949.1L1076.8 949.1L1078.5 949.1L1080.1 949.1L1081.7 949.1L1083.4 949.1L1085.0 949.1L1086.7 949.1L1088.3 949.1L1089.9 949.1L1091.6 949.1L1093.2 949.1L1094.8 949.1L1096.5 949.1L1098.1 949.1L1099.7 949.1L1101.4 949.1L1103.0 949.1L1104.7 949.1L1106.3 949.1L1107.9 949.1L1109.6 949.1L1111.2 949.1L1112.8 949.1L1114.5 949.1L1116.1 949.1L1117.8 949.1L1119.4 949.1L1121.0 949.1L1122.7 949.1L1124.3 949.1L1125.9 949.1L1127.6 949.1L1129.2 949.1L1130.8 949.1L1132.5 949.1L1134.1 949.1L1135.8 949.1" fill="none" stroke="#e0151b" stroke-width="2.3" stroke-linejoin="round"/>
</g>
<rect x="817.7" y="931.4" width="336.0" height="387.2" fill="none" stroke="#333" stroke-width="1.4"/>
<path d="M829.5 1318.6v4M910.2 1318.6v4M990.9 1318.6v4M1071.6 1318.6v4M1152.3 1318.6v4" stroke="#333" stroke-width="1.3" fill="none"/>
<rect x="1157.0" y="900.5" width="336.0" height="30.9" fill="#fff" stroke="#111" stroke-width="1.6"/>
<text x="1339.0" y="927.2" font-size="29" text-anchor="middle">NH</text>
<clipPath id="cd3"><rect x="1157.0" y="931.4" width="336.0" height="387.2"/></clipPath>
<g clip-path="url(#cd3)">
<path d="M1209.1 931.4V1318.6M1289.8 931.4V1318.6M1370.5 931.4V1318.6M1451.2 931.4V1318.6M1157.0 1257.1H1493.0M1157.0 1169.1H1493.0M1157.0 1081.1H1493.0M1157.0 993.1H1493.0" stroke="#e3e3e3" stroke-width="1.3" fill="none"/>
<path d="M1168.8 931.4V1318.6M1249.5 931.4V1318.6M1330.2 931.4V1318.6M1410.9 931.4V1318.6M1491.6 931.4V1318.6M1157.0 1301.1H1493.0M1157.0 1213.1H1493.0M1157.0 1125.1H1493.0M1157.0 1037.1H1493.0M1157.0 949.1H1493.0" stroke="#e3e3e3" stroke-width="2.4" fill="none"/>
<g transform="translate(1157.0 931.4) scale(.5)" fill="none" stroke="#000" stroke-width="15.2" stroke-linecap="round" opacity="1">
<path d="M194 733h0M191 737h0M523 39h0M334 677h0M360 556h0M419 384h0M436 190h0M415 443h0M368 689h0M386 460h0M278 735h0M172 736h0M439 267h0M309 733h0M180 738h0M492 38h0M387 586h0M394 340h0M423 456h0M361 618h0M490 48h0M411 451h0M340 495h0M220 736h0M467 233h0M285 659h0M308 631h0M490 76h0M365 408h0M402 592h0M309 662h0M541 37h0M411 257h0M338 686h0M358 635h0M137 739h0" stroke-opacity="0.42"/>
<path d="M496 36h0M358 552h0M317 735h0M226 709h0M401 376h0M193 736h0M348 729h0M410 378h0M223 711h0M304 673h0M376 733h0M265 738h0M394 466h0M329 621h0M377 438h0M403 442h0M288 726h0M500 37h0M327 631h0M254 739h0M386 371h0M418 287h0M471 100h0M390 537h0M436 150h0M314 728h0M342 497h0M481 225h0M255 729h0M382 441h0M329 612h0M307 632h0M331 703h0M395 718h0M460 287h0M643 35h0" stroke-opacity="0.42"/>
<path d="M363 601h0M345 734h0M265 707h0M493 57h0M452 65h0M432 249h0M366 536h0M325 700h0M368 598h0M250 738h0M284 739h0M154 738h0M335 669h0M189 736h0M361 587h0M363 738h0M216 733h0M324 642h0M412 454h0M288 735h0M396 322h0M267 735h0M387 735h0M449 252h0M383 342h0M240 710h0M425 461h0M521 38h0M175 738h0M311 689h0M333 737h0M349 726h0M264 714h0M509 41h0M422 569h0M620 35h0" stroke-opacity="0.42"/>
<path d="M202 732h0M287 612h0M422 294h0M373 501h0M324 734h0M239 733h0M496 71h0M267 719h0M457 203h0M458 184h0M282 700h0M379 417h0M243 738h0M421 521h0M225 701h0M340 524h0M455 71h0M363 732h0M439 118h0M224 738h0M345 726h0M445 188h0M292 700h0M212 738h0M464 126h0M314 655h0M508 40h0M179 737h0M347 591h0M252 735h0M278 739h0M374 591h0M219 739h0M316 661h0M330 566h0" stroke-opacity="0.42"/>
<path d="M339 546h0M321 703h0M305 655h0M291 637h0M332 551h0M476 333h0M393 733h0M143 738h0M469 82h0M390 726h0M247 735h0M276 732h0M362 730h0M415 374h0M408 294h0M424 444h0M438 82h0M321 735h0M230 720h0M272 737h0M524 44h0M504 58h0M225 732h0M314 561h0M354 512h0M400 354h0M305 732h0M361 509h0M385 523h0M456 146h0M229 716h0M295 697h0M490 42h0M345 548h0M349 596h0" stroke-opacity="0.42"/>
<path d="M371 594h0M504 41h0M463 320h0M379 491h0M279 739h0M468 226h0M325 722h0M379 433h0M390 401h0M400 466h0M496 44h0M514 106h0M381 463h0M491 70h0M160 738h0M384 732h0M259 631h0M138 737h0M467 70h0M554 50h0M349 543h0M386 278h0M350 734h0M267 731h0M380 373h0M278 672h0M402 569h0M441 203h0M164 737h0M466 129h0M416 484h0M436 338h0M290 725h0M490 37h0M461 251h0" stroke-opacity="0.42"/>
<path d="M338 682h0M323 608h0M419 365h0M441 313h0M334 568h0M264 715h0M503 64h0M527 39h0M346 556h0M434 371h0M309 729h0M368 372h0M492 54h0M370 652h0M414 164h0M330 708h0M508 41h0M444 317h0M238 733h0M301 602h0M430 182h0M452 162h0M415 161h0M328 598h0M462 93h0M238 730h0M293 721h0M294 688h0M363 520h0M310 727h0M303 657h0M520 40h0M396 494h0M279 643h0M220 717h0" stroke-opacity="0.42"/>
<path d="M311 703h0M244 716h0M146 736h0M200 736h0M302 736h0M442 292h0M222 722h0M411 578h0M308 692h0M153 738h0M468 92h0M150 739h0M279 732h0M252 739h0M365 512h0M372 731h0M373 738h0M349 563h0M382 512h0M533 47h0M521 40h0M400 448h0M401 532h0M196 734h0M315 726h0M422 142h0M399 549h0M379 586h0M365 555h0M361 496h0M305 583h0M265 738h0M364 590h0M375 592h0M371 495h0" stroke-opacity="0.42"/>
</g>
<path d="M1343.3 1290.7l4.4 7.6h-8.8zM1318.6 1296.1l4.4 7.6h-8.8zM1372.2 1222.9l4.4 7.6h-8.8zM1341.4 1294.2l4.4 7.6h-8.8zM1375.0 1245.9l4.4 7.6h-8.8zM1338.0 1294.7l4.4 7.6h-8.8zM1372.9 1281.5l4.4 7.6h-8.8zM1378.8 1275.3l4.4 7.6h-8.8zM1347.8 1294.9l4.4 7.6h-8.8zM1353.6 1293.1l4.4 7.6h-8.8zM1316.6 1288.3l4.4 7.6h-8.8zM1345.1 1292.2l4.4 7.6h-8.8zM1353.1 1285.9l4.4 7.6h-8.8zM1333.9 1285.5l4.4 7.6h-8.8zM1349.6 1296.2l4.4 7.6h-8.8zM1373.1 1270.9l4.4 7.6h-8.8zM1330.5 1292.0l4.4 7.6h-8.8zM1374.1 1234.3l4.4 7.6h-8.8zM1342.4 1295.7l4.4 7.6h-8.8zM1349.1 1296.0l4.4 7.6h-8.8zM1325.9 1295.7l4.4 7.6h-8.8zM1324.1 1290.1l4.4 7.6h-8.8zM1341.7 1295.3l4.4 7.6h-8.8zM1318.2 1296.1l4.4 7.6h-8.8zM1387.9 1233.2l4.4 7.6h-8.8zM1340.6 1287.3l4.4 7.6h-8.8zM1354.9 1292.5l4.4 7.6h-8.8zM1354.3 1288.1l4.4 7.6h-8.8zM1366.2 1253.1l4.4 7.6h-8.8zM1386.3 1274.7l4.4 7.6h-8.8zM1374.1 1257.4l4.4 7.6h-8.8zM1334.0 1295.8l4.4 7.6h-8.8zM1332.4 1291.6l4.4 7.6h-8.8zM1336.4 1289.2l4.4 7.6h-8.8zM1346.0 1292.3l4.4 7.6h-8.8zM1340.7 1289.9l4.4 7.6h-8.8zM1365.1 1296.2l4.4 7.6h-8.8zM1366.0 1286.4l4.4 7.6h-8.8zM1338.3 1292.3l4.4 7.6h-8.8zM1331.9 1289.0l4.4 7.6h-8.8zM1332.2 1196.2l4.4 7.6h-8.8zM1350.4 1101.1l4.4 7.6h-8.8z" fill="#3d3df5" fill-opacity="0.62"/>
<path d="M1225.7 1301.0L1227.3 1301.0L1228.9 1301.0L1230.4 1301.0L1232.0 1301.0L1233.6 1301.0L1235.2 1301.0L1236.7 1301.0L1238.3 1301.0L1239.9 1301.0L1241.5 1301.0L1243.1 1301.0L1244.6 1300.9L1246.2 1300.9L1247.8 1300.9L1249.4 1300.9L1251.0 1300.9L1252.5 1300.9L1254.1 1300.8L1255.7 1300.8L1257.3 1300.8L1258.8 1300.7L1260.4 1300.7L1262.0 1300.7L1263.6 1300.6L1265.2 1300.6L1266.7 1300.5L1268.3 1300.5L1269.9 1300.4L1271.5 1300.4L1273.1 1300.3L1274.6 1300.2L1276.2 1300.1L1277.8 1300.1L1279.4 1300.0L1280.9 1299.9L1282.5 1299.7L1284.1 1299.6L1285.7 1299.5L1287.3 1299.3L1288.8 1299.1L1290.4 1299.0L1292.0 1298.8L1293.6 1298.5L1295.2 1298.3L1296.7 1298.0L1298.3 1297.8L1299.9 1297.4L1301.5 1297.1L1303.0 1296.7L1304.6 1296.3L1306.2 1295.9L1307.8 1295.4L1309.4 1294.8L1310.9 1294.2L1312.5 1293.6L1314.1 1292.9L1315.7 1292.2L1317.3 1291.3L1318.8 1290.4L1320.4 1289.4L1322.0 1288.3L1323.6 1287.2L1325.2 1285.9L1326.7 1284.5L1328.3 1282.9L1329.9 1281.3L1331.5 1279.5L1333.0 1277.5L1334.6 1275.4L1336.2 1273.0L1337.8 1270.5L1339.4 1267.8L1340.9 1264.8L1342.5 1261.6L1344.1 1258.1L1345.7 1254.3L1347.3 1250.2L1348.8 1245.8L1350.4 1241.1L1352.0 1236.0L1353.6 1230.5L1355.1 1224.6L1356.7 1218.4L1358.3 1211.6L1359.9 1204.5L1361.5 1196.9L1363.0 1188.8L1364.6 1180.3L1366.2 1171.3L1367.8 1161.9L1369.4 1152.0L1370.9 1141.7L1372.5 1131.1L1374.1 1120.1L1375.7 1108.9L1377.2 1097.4L1378.8 1085.8L1380.4 1074.1L1382.0 1062.5L1383.6 1051.0L1385.1 1039.8L1386.7 1028.9L1388.3 1018.5L1389.9 1008.6L1391.5 999.4L1393.0 991.0L1394.6 983.4L1396.2 976.6L1397.8 970.8L1399.3 965.7L1400.9 961.6L1402.5 958.2L1404.1 955.6L1405.7 953.5L1407.2 952.0L1408.8 951.0L1410.4 950.2L1412.0 949.8L1413.6 949.5L1415.1 949.3L1416.7 949.2L1418.3 949.1L1419.9 949.1L1421.5 949.1L1423.0 949.1L1424.6 949.1L1426.2 949.1L1427.8 949.1L1429.3 949.1L1430.9 949.1L1432.5 949.1L1434.1 949.1L1435.7 949.1L1437.2 949.1L1438.8 949.1L1440.4 949.1L1442.0 949.1L1443.6 949.1L1445.1 949.1L1446.7 949.1L1448.3 949.1L1449.9 949.1L1451.4 949.1L1453.0 949.1L1454.6 949.1L1456.2 949.1L1457.8 949.1L1459.3 949.1L1460.9 949.1L1462.5 949.1L1464.1 949.1L1465.7 949.1L1467.2 949.1L1468.8 949.1L1470.4 949.1L1472.0 949.1L1473.5 949.1L1475.1 949.1L1476.7 949.1L1478.3 949.1" fill="none" stroke="#e0151b" stroke-width="2.3" stroke-linejoin="round"/>
</g>
<rect x="1157.0" y="931.4" width="336.0" height="387.2" fill="none" stroke="#333" stroke-width="1.4"/>
<path d="M1168.8 1318.6v4M1249.5 1318.6v4M1330.2 1318.6v4M1410.9 1318.6v4M1491.6 1318.6v4" stroke="#333" stroke-width="1.3" fill="none"/>
<path d="M138.5 1301.1h-4M138.5 1213.1h-4M138.5 1125.1h-4M138.5 1037.1h-4M138.5 949.1h-4" stroke="#333" stroke-width="1.3" fill="none"/>
<text x="133.2" y="959.3" font-size="27.5" text-anchor="end">1.00</text>
<text x="133.2" y="1047.3" font-size="27.5" text-anchor="end">0.75</text>
<text x="133.2" y="1135.3" font-size="27.5" text-anchor="end">0.50</text>
<text x="133.2" y="1223.3" font-size="27.5" text-anchor="end">0.25</text>
<text x="133.2" y="1311.3" font-size="27.5" text-anchor="end">0.00</text>
<text x="150.3" y="1346.0" font-size="28" text-anchor="middle">−8</text>
<text x="231.5" y="1346.0" font-size="28" text-anchor="middle">−6</text>
<text x="308.9" y="1346.0" font-size="28" text-anchor="middle">−4</text>
<text x="386.6" y="1346.0" font-size="28" text-anchor="middle">−2</text>
<text x="471.0" y="1346.0" font-size="28" text-anchor="middle">0</text>
<text x="501.3" y="1346.0" font-size="28" text-anchor="middle">−8</text>
<text x="563.4" y="1346.0" font-size="28" text-anchor="middle">−6</text>
<text x="642.8" y="1346.0" font-size="28" text-anchor="middle">−4</text>
<text x="723.0" y="1346.0" font-size="28" text-anchor="middle">−2</text>
<text x="810.7" y="1346.0" font-size="28" text-anchor="middle">0</text>
<text x="847.1" y="1346.0" font-size="28" text-anchor="middle">−8</text>
<text x="912.0" y="1346.0" font-size="28" text-anchor="middle">−6</text>
<text x="990.4" y="1346.0" font-size="28" text-anchor="middle">−4</text>
<text x="1068.8" y="1346.0" font-size="28" text-anchor="middle">−2</text>
<text x="1149.4" y="1346.0" font-size="28" text-anchor="middle">0</text>
<text x="1183.6" y="1346.0" font-size="28" text-anchor="middle">−8</text>
<text x="1251.4" y="1346.0" font-size="28" text-anchor="middle">−6</text>
<text x="1324.7" y="1346.0" font-size="28" text-anchor="middle">−4</text>
<text x="1403.2" y="1346.0" font-size="28" text-anchor="middle">−2</text>
<text x="1489.7" y="1346.0" font-size="28" text-anchor="middle">0</text>
<text x="60.8" y="1116.7" font-size="29" text-anchor="middle" transform="rotate(-90 60.8 1116.7)">Prevalence</text>
<text x="853.8" y="1377.4" font-size="29" text-anchor="middle">log10(relative abundance)</text>
<text x="0.8" y="931.3" font-size="33.5" font-weight="bold">d</text>
<circle cx="1518.8" cy="1120.4" r="6.4" fill="#000" fill-opacity="0.5"/>
<path d="M1518.8 1141.4l8 14.2h-16z" fill="#3d3df5" fill-opacity="0.62"/>
<text x="1533.3" y="1128.6" font-size="29">classified taxon</text>
<text x="1533.3" y="1159.3" font-size="29">unclassified taxon</text>
<rect x="132.9" y="1401.0" width="350.7" height="337.5" fill="#fff"/>
<path d="M177.1 1401.0V1738.5M243.7 1401.0V1738.5M310.2 1401.0V1738.5M376.8 1401.0V1738.5M443.4 1401.0V1738.5M132.9 1669.0H483.6M132.9 1559.2H483.6M132.9 1449.2H483.6" stroke="#e3e3e3" stroke-width="1.3" fill="none"/>
<path d="M143.8 1401.0V1738.5M210.4 1401.0V1738.5M277.0 1401.0V1738.5M343.5 1401.0V1738.5M410.1 1401.0V1738.5M476.7 1401.0V1738.5M132.9 1724.0H483.6M132.9 1614.1H483.6M132.9 1504.2H483.6" stroke="#e3e3e3" stroke-width="2.4" fill="none"/>
<path d="M147.5 1724.1C148.8 1724.0 153.3 1724.4 155.3 1723.7C157.2 1723.0 157.9 1722.0 159.2 1719.8C160.5 1717.5 161.4 1714.6 163.1 1710.1C164.7 1705.5 167.0 1697.7 168.9 1692.5C170.8 1687.4 172.8 1683.8 174.7 1678.9C176.7 1674.1 178.6 1669.9 180.6 1663.4C182.5 1656.9 184.5 1648.5 186.4 1640.0C188.3 1631.6 190.3 1622.5 192.2 1612.8C194.2 1603.1 196.1 1592.1 198.1 1581.7C200.0 1571.3 202.0 1561.6 203.9 1550.6C205.8 1539.6 207.8 1527.2 209.7 1515.6C211.7 1503.9 213.6 1491.3 215.6 1480.6C217.5 1469.9 219.8 1459.2 221.4 1451.4C223.0 1443.6 224.0 1438.4 225.3 1433.9C226.6 1429.4 227.7 1426.9 229.2 1424.2C230.6 1421.4 232.4 1418.9 234.0 1417.4C235.7 1415.8 237.4 1415.0 238.9 1415.0C240.4 1415.0 241.5 1415.8 242.8 1417.4C244.1 1418.9 245.1 1420.9 246.7 1424.2C248.3 1427.4 250.9 1432.9 252.5 1436.8C254.1 1440.7 255.1 1443.3 256.4 1447.5C257.7 1451.7 259.0 1456.9 260.3 1462.1C261.6 1467.3 262.6 1471.7 264.2 1478.6C265.8 1485.6 268.1 1495.5 270.0 1503.9C272.0 1512.3 273.9 1521.1 275.9 1529.2C277.8 1537.3 279.7 1545.1 281.7 1552.5C283.6 1560.0 285.3 1566.1 287.5 1573.9C289.8 1581.7 292.7 1591.1 295.3 1599.2C297.9 1607.3 300.5 1615.4 303.1 1622.5C305.7 1629.7 308.6 1637.1 310.9 1642.0C313.1 1646.8 314.4 1648.6 316.7 1651.7C319.0 1654.8 321.6 1657.2 324.5 1660.5C327.4 1663.7 331.0 1667.8 334.2 1671.2C337.4 1674.6 341.0 1677.8 343.9 1680.9C346.8 1684.0 349.1 1686.9 351.7 1689.6C354.3 1692.4 357.2 1695.8 359.5 1697.4C361.8 1699.0 363.0 1698.2 365.3 1699.4C367.6 1700.5 370.2 1702.3 373.1 1704.2C376.0 1706.2 379.6 1709.1 382.8 1711.0C386.1 1713.0 389.3 1714.5 392.5 1715.9C395.8 1717.3 399.0 1718.4 402.3 1719.4C405.5 1720.4 408.1 1721.0 412.0 1721.7C415.9 1722.4 416.2 1723.1 425.6 1723.5C435.0 1723.9 461.3 1724.0 468.4 1724.1z" fill="#d55e00" fill-opacity="0.4" stroke="#000" stroke-width="2.4" stroke-linejoin="round"/>
<path d="M147.5 1724.1C148.5 1723.9 151.7 1724.3 153.3 1723.3C155.0 1722.2 156.1 1721.3 157.2 1717.8C158.4 1714.3 159.2 1709.4 160.1 1702.3C161.1 1695.1 162.1 1684.8 163.1 1675.0C164.0 1665.3 165.0 1653.3 166.0 1643.9C167.0 1634.5 167.8 1627.4 168.9 1618.6C170.0 1609.9 171.5 1599.5 172.8 1591.4C174.1 1583.3 175.4 1576.8 176.7 1570.0C178.0 1563.2 179.3 1556.7 180.6 1550.6C181.9 1544.4 183.2 1538.6 184.5 1533.1C185.8 1527.6 187.0 1522.1 188.3 1517.5C189.6 1513.0 190.6 1510.1 192.2 1505.9C193.9 1501.6 196.1 1496.5 198.1 1492.2C200.0 1488.0 202.0 1484.3 203.9 1480.6C205.8 1476.8 207.8 1473.3 209.7 1469.9C211.7 1466.5 213.8 1462.9 215.6 1460.1C217.4 1457.4 218.8 1454.9 220.4 1453.3C222.1 1451.8 223.8 1451.0 225.3 1450.8C226.8 1450.7 227.9 1451.3 229.2 1452.4C230.5 1453.4 231.5 1454.5 233.1 1457.2C234.7 1460.0 237.0 1465.0 238.9 1468.9C240.9 1472.8 242.8 1475.7 244.7 1480.6C246.7 1485.4 248.6 1491.9 250.6 1498.1C252.5 1504.2 254.5 1510.7 256.4 1517.5C258.4 1524.3 260.3 1531.8 262.2 1538.9C264.2 1546.0 266.1 1553.5 268.1 1560.3C270.0 1567.1 271.6 1572.9 273.9 1579.8C276.2 1586.6 279.1 1594.3 281.7 1601.1C284.3 1608.0 286.9 1614.8 289.5 1620.6C292.1 1626.4 294.7 1631.3 297.3 1636.2C299.8 1641.0 302.1 1645.2 305.0 1649.8C307.9 1654.3 311.5 1659.2 314.8 1663.4C318.0 1667.6 321.2 1671.5 324.5 1675.0C327.7 1678.6 331.0 1681.9 334.2 1684.8C337.4 1687.7 340.7 1690.1 343.9 1692.5C347.2 1695.0 350.4 1697.2 353.6 1699.4C356.9 1701.6 360.1 1703.8 363.4 1705.8C366.6 1707.7 369.9 1709.4 373.1 1711.0C376.3 1712.6 379.6 1714.2 382.8 1715.5C386.1 1716.8 389.3 1717.8 392.5 1718.8C395.8 1719.8 399.0 1720.7 402.3 1721.3C405.5 1722.0 408.1 1722.5 412.0 1722.9C415.9 1723.3 416.2 1723.5 425.6 1723.7C435.0 1723.9 461.3 1724.0 468.4 1724.1z" fill="#0072b2" fill-opacity="0.4" stroke="#000" stroke-width="2.4" stroke-linejoin="round"/>
<rect x="132.9" y="1401.0" width="350.7" height="337.5" fill="none" stroke="#333" stroke-width="1.4"/>
<path d="M143.8 1738.5v4M210.4 1738.5v4M277.0 1738.5v4M343.5 1738.5v4M410.1 1738.5v4M476.7 1738.5v4" stroke="#333" stroke-width="1.3" fill="none"/>
<path d="M132.9 1724.0h-4M132.9 1614.1h-4M132.9 1504.2h-4" stroke="#333" stroke-width="1.3" fill="none"/>
<text x="149.8" y="1765.8" font-size="29" text-anchor="middle">7.5</text>
<text x="203.4" y="1765.8" font-size="29" text-anchor="middle">10</text>
<text x="272.6" y="1765.8" font-size="29" text-anchor="middle">12.5</text>
<text x="342.5" y="1765.8" font-size="29" text-anchor="middle">15</text>
<text x="410.1" y="1765.8" font-size="29" text-anchor="middle">17.5</text>
<text x="472.7" y="1765.8" font-size="29" text-anchor="middle">20</text>
<text x="127.9" y="1733.6" font-size="28" text-anchor="end">0.0</text>
<text x="127.9" y="1623.7" font-size="28" text-anchor="end">0.1</text>
<text x="127.9" y="1513.8" font-size="28" text-anchor="end">0.2</text>
<text x="291.0" y="1799.0" font-size="29" text-anchor="middle">log2(contig length)</text>
<text x="71.5" y="1552.6" font-size="29" text-anchor="middle" transform="rotate(-90 71.5 1552.6)">Density</text>
<text x="0.4" y="1403.4" font-size="33.5" font-weight="bold">e</text>
<rect x="697.0" y="1401.0" width="361.6" height="337.5" fill="#fff"/>
<path d="M718.3 1401.0V1738.5M793.5 1401.0V1738.5M868.7 1401.0V1738.5M943.9 1401.0V1738.5M1019.1 1401.0V1738.5M697.0 1694.2H1058.6M697.0 1634.5H1058.6M697.0 1574.8H1058.6M697.0 1515.0H1058.6M697.0 1455.3H1058.6" stroke="#e3e3e3" stroke-width="1.3" fill="none"/>
<path d="M755.9 1401.0V1738.5M831.1 1401.0V1738.5M906.3 1401.0V1738.5M981.5 1401.0V1738.5M1056.7 1401.0V1738.5M697.0 1724.0H1058.6M697.0 1664.3H1058.6M697.0 1604.6H1058.6M697.0 1544.9H1058.6M697.0 1485.2H1058.6M697.0 1425.5H1058.6" stroke="#e3e3e3" stroke-width="2.4" fill="none"/>
<path d="M712.5 1724.0C714.4 1723.9 720.9 1723.8 724.2 1723.2C727.4 1722.7 729.4 1721.9 731.9 1720.7C734.5 1719.5 737.3 1717.6 739.7 1715.8C742.2 1714.0 744.7 1712.6 746.5 1710.0C748.3 1707.4 749.3 1703.5 750.4 1700.3C751.5 1697.0 752.2 1693.8 753.3 1690.5C754.5 1687.3 755.9 1684.1 757.2 1680.8C758.5 1677.6 759.3 1672.9 761.1 1671.1C762.9 1669.3 766.1 1671.6 767.9 1670.1C769.7 1668.7 770.3 1665.1 771.8 1662.4C773.3 1659.6 775.2 1656.4 776.7 1653.6C778.1 1650.8 779.1 1648.7 780.6 1645.8C782.0 1642.9 783.8 1640.0 785.4 1636.1C787.0 1632.2 788.8 1625.7 790.3 1622.5C791.7 1619.3 793.0 1620.2 794.2 1616.7C795.3 1613.1 796.1 1606.6 797.1 1601.1C798.1 1595.6 798.9 1589.4 800.0 1583.6C801.1 1577.8 802.6 1571.0 803.9 1566.1C805.2 1561.2 806.5 1558.0 807.8 1554.4C809.1 1550.9 810.4 1548.0 811.7 1544.7C813.0 1541.5 814.3 1539.2 815.6 1535.0C816.8 1530.8 818.1 1525.3 819.4 1519.4C820.7 1513.6 822.0 1506.5 823.3 1500.0C824.6 1493.5 826.1 1485.7 827.2 1480.6C828.4 1475.4 829.2 1471.5 830.1 1468.9C831.1 1466.3 832.2 1467.6 833.1 1465.0C833.9 1462.4 834.3 1458.5 835.0 1453.3C835.6 1448.1 836.4 1439.4 836.9 1433.9C837.5 1428.4 838.0 1423.4 838.5 1420.3C839.0 1417.2 839.4 1415.6 839.9 1415.4C840.3 1415.3 840.7 1416.9 841.2 1419.3C841.8 1421.7 842.4 1426.3 843.2 1430.0C843.9 1433.7 844.8 1437.8 845.7 1441.7C846.6 1445.6 847.8 1449.8 848.6 1453.3C849.4 1456.9 849.9 1461.8 850.6 1463.1C851.2 1464.3 851.8 1461.8 852.5 1461.1C853.1 1460.4 853.6 1458.9 854.4 1458.8C855.3 1458.6 856.4 1460.2 857.4 1460.1C858.3 1460.0 859.1 1458.0 859.9 1458.2C860.6 1458.4 861.2 1458.0 861.8 1461.1C862.5 1464.2 863.1 1470.8 863.8 1476.7C864.4 1482.5 865.1 1489.0 865.7 1496.1C866.4 1503.2 866.9 1511.7 867.7 1519.4C868.4 1527.2 869.2 1535.3 870.0 1542.8C870.8 1550.2 871.5 1558.0 872.3 1564.2C873.1 1570.3 873.9 1574.9 874.9 1579.7C875.8 1584.6 876.6 1588.1 877.8 1593.3C878.9 1598.5 880.4 1605.0 881.7 1610.8C883.0 1616.7 884.3 1622.8 885.6 1628.3C886.8 1633.8 888.1 1639.3 889.4 1643.9C890.7 1648.4 892.0 1651.0 893.3 1655.5C894.6 1660.1 895.9 1665.9 897.2 1671.1C898.5 1676.3 900.0 1682.8 901.1 1686.7C902.2 1690.5 903.0 1693.8 904.0 1694.4C905.0 1695.1 906.1 1690.5 906.9 1690.5C907.7 1690.5 908.1 1692.2 908.9 1694.4C909.7 1696.7 910.7 1701.2 911.8 1704.2C912.9 1707.1 914.2 1710.0 915.7 1711.9C917.1 1713.9 918.9 1714.5 920.5 1715.8C922.2 1717.2 923.5 1719.0 925.4 1720.1C927.4 1721.2 928.5 1722.0 932.2 1722.6C935.9 1723.2 929.3 1723.4 947.8 1723.6C966.2 1723.8 1027.2 1723.9 1043.0 1724.0z" fill="#d55e00" fill-opacity="0.4" stroke="#000" stroke-width="2.4" stroke-linejoin="round"/>
<path d="M712.5 1724.0C712.5 1721.0 712.0 1710.1 712.5 1706.1C713.0 1702.1 714.1 1702.2 715.4 1700.3C716.7 1698.3 718.5 1696.7 720.3 1694.4C722.1 1692.2 724.2 1689.9 726.1 1686.7C728.1 1683.4 730.0 1679.5 731.9 1675.0C733.9 1670.5 735.8 1665.3 737.8 1659.4C739.7 1653.6 741.8 1646.8 743.6 1640.0C745.4 1633.2 746.9 1626.1 748.5 1618.6C750.1 1611.2 751.9 1602.1 753.3 1595.3C754.8 1588.5 755.9 1582.3 757.2 1577.8C758.5 1573.2 759.7 1570.5 761.1 1568.1C762.6 1565.6 764.3 1564.3 766.0 1563.2C767.6 1562.1 769.4 1561.1 770.8 1561.2C772.3 1561.4 773.4 1563.2 774.7 1564.2C776.0 1565.1 777.3 1567.1 778.6 1567.1C779.9 1567.1 780.9 1565.8 782.5 1564.2C784.1 1562.5 786.4 1559.9 788.3 1557.4C790.3 1554.8 792.5 1551.4 794.2 1548.6C795.8 1545.9 797.1 1542.5 798.1 1540.8C799.0 1539.1 799.2 1538.2 800.0 1538.5C800.8 1538.8 801.6 1540.8 802.9 1542.8C804.2 1544.8 806.0 1548.4 807.8 1550.6C809.6 1552.7 811.7 1554.2 813.6 1555.4C815.6 1556.6 817.5 1557.4 819.4 1557.9C821.4 1558.5 823.3 1559.0 825.3 1558.7C827.2 1558.5 829.5 1557.6 831.1 1556.4C832.7 1555.2 833.7 1553.1 835.0 1551.5C836.3 1549.9 837.8 1547.0 838.9 1546.7C840.0 1546.3 840.5 1547.3 841.8 1549.6C843.1 1551.8 844.6 1556.2 846.7 1560.3C848.8 1564.3 852.2 1568.4 854.4 1573.9C856.7 1579.4 858.3 1586.2 860.3 1593.3C862.2 1600.5 864.2 1608.9 866.1 1616.7C868.1 1624.4 870.0 1632.5 871.9 1640.0C873.9 1647.4 875.8 1655.2 877.8 1661.4C879.7 1667.5 881.7 1672.1 883.6 1676.9C885.6 1681.8 887.5 1686.7 889.4 1690.5C891.4 1694.4 893.3 1697.4 895.3 1700.3C897.2 1703.2 899.6 1706.5 901.1 1708.0C902.6 1709.6 903.0 1709.6 904.0 1709.6C905.0 1709.6 905.8 1707.5 906.9 1708.0C908.1 1708.6 909.2 1711.3 910.8 1712.9C912.4 1714.5 914.4 1716.3 916.7 1717.8C918.9 1719.2 921.5 1720.8 924.4 1721.7C927.4 1722.6 930.3 1722.9 934.2 1723.2C938.0 1723.6 929.6 1723.7 947.8 1723.8C965.9 1723.9 1027.2 1724.0 1043.0 1724.0z" fill="#0072b2" fill-opacity="0.4" stroke="#000" stroke-width="2.4" stroke-linejoin="round"/>
<rect x="697.0" y="1401.0" width="361.6" height="337.5" fill="none" stroke="#333" stroke-width="1.4"/>
<path d="M755.9 1738.5v4M831.1 1738.5v4M906.3 1738.5v4M981.5 1738.5v4M1056.7 1738.5v4" stroke="#333" stroke-width="1.3" fill="none"/>
<path d="M697.0 1724.0h-4M697.0 1664.3h-4M697.0 1604.6h-4M697.0 1544.9h-4M697.0 1485.2h-4M697.0 1425.5h-4" stroke="#333" stroke-width="1.3" fill="none"/>
<text x="751.9" y="1765.8" font-size="29" text-anchor="middle">6</text>
<text x="832.7" y="1765.8" font-size="29" text-anchor="middle">8</text>
<text x="904.3" y="1765.8" font-size="29" text-anchor="middle">10</text>
<text x="979.9" y="1765.8" font-size="29" text-anchor="middle">12</text>
<text x="1050.7" y="1765.8" font-size="29" text-anchor="middle">14</text>
<text x="692.0" y="1733.6" font-size="28" text-anchor="end">0.0</text>
<text x="692.0" y="1673.9" font-size="28" text-anchor="end">0.1</text>
<text x="692.0" y="1614.2" font-size="28" text-anchor="end">0.2</text>
<text x="692.0" y="1554.5" font-size="28" text-anchor="end">0.3</text>
<text x="692.0" y="1494.8" font-size="28" text-anchor="end">0.4</text>
<text x="692.0" y="1435.1" font-size="28" text-anchor="end">0.5</text>
<text x="863.0" y="1798.0" font-size="29" text-anchor="middle">log2(protein length)</text>
<text x="632.5" y="1552.6" font-size="29" text-anchor="middle" transform="rotate(-90 632.5 1552.6)">Density</text>
<text x="576.3" y="1403.4" font-size="33.5" font-weight="bold">f</text>
<rect x="1298.6" y="1401.0" width="358.4" height="337.5" fill="#fff"/>
<path d="M1318.5 1401.0V1738.5M1405.9 1401.0V1738.5M1493.2 1401.0V1738.5M1580.5 1401.0V1738.5M1298.6 1688.2H1657.0M1298.6 1616.7H1657.0M1298.6 1545.2H1657.0M1298.6 1473.7H1657.0" stroke="#e3e3e3" stroke-width="1.3" fill="none"/>
<path d="M1362.2 1401.0V1738.5M1449.5 1401.0V1738.5M1536.8 1401.0V1738.5M1624.1 1401.0V1738.5M1298.6 1724.0H1657.0M1298.6 1652.5H1657.0M1298.6 1581.0H1657.0M1298.6 1509.4H1657.0M1298.6 1437.9H1657.0" stroke="#e3e3e3" stroke-width="2.4" fill="none"/>
<path d="M1313.5 1724.0C1318.5 1723.9 1336.3 1723.8 1343.6 1723.2C1350.9 1722.7 1353.3 1721.9 1357.2 1720.7C1361.1 1719.5 1364.0 1717.9 1366.9 1715.8C1369.9 1713.7 1372.1 1711.6 1374.7 1708.0C1377.3 1704.5 1379.9 1699.9 1382.5 1694.4C1385.1 1688.9 1387.7 1682.4 1390.3 1675.0C1392.9 1667.5 1395.5 1658.8 1398.1 1649.7C1400.6 1640.6 1403.2 1630.6 1405.8 1620.5C1408.4 1610.5 1411.0 1599.8 1413.6 1589.4C1416.2 1579.1 1418.8 1568.7 1421.4 1558.3C1424.0 1548.0 1426.6 1537.3 1429.2 1527.2C1431.8 1517.2 1434.3 1507.5 1436.9 1498.1C1439.5 1488.7 1442.4 1478.3 1444.7 1470.8C1447.0 1463.4 1448.9 1458.5 1450.6 1453.3C1452.2 1448.1 1453.0 1444.3 1454.4 1439.7C1455.9 1435.2 1457.8 1429.7 1459.3 1426.1C1460.8 1422.5 1461.9 1420.1 1463.2 1418.3C1464.5 1416.6 1465.8 1415.5 1467.1 1415.4C1468.4 1415.4 1469.7 1416.2 1471.0 1417.9C1472.3 1419.7 1473.6 1422.8 1474.9 1426.1C1476.2 1429.4 1477.4 1433.6 1478.7 1437.8C1480.0 1442.0 1481.3 1446.7 1482.6 1451.4C1483.9 1456.1 1485.2 1461.1 1486.5 1466.0C1487.8 1470.8 1489.0 1475.9 1490.4 1480.6C1491.9 1485.3 1493.5 1489.6 1495.3 1494.2C1497.1 1498.7 1499.2 1502.9 1501.1 1507.8C1503.0 1512.6 1505.0 1518.0 1506.9 1523.3C1508.9 1528.7 1510.8 1534.3 1512.8 1539.9C1514.7 1545.4 1516.8 1551.4 1518.6 1556.4C1520.4 1561.4 1522.0 1566.1 1523.5 1570.0C1524.9 1573.9 1525.9 1577.3 1527.4 1579.7C1528.8 1582.1 1530.6 1583.0 1532.2 1584.6C1533.8 1586.2 1535.5 1587.3 1537.1 1589.4C1538.7 1591.5 1540.5 1594.3 1541.9 1597.2C1543.4 1600.1 1544.5 1603.0 1545.8 1606.9C1547.1 1610.8 1548.4 1615.4 1549.7 1620.5C1551.0 1625.7 1552.3 1632.5 1553.6 1638.0C1554.9 1643.6 1556.2 1648.7 1557.5 1653.6C1558.8 1658.5 1559.8 1662.0 1561.4 1667.2C1563.0 1672.4 1565.3 1679.2 1567.2 1684.7C1569.2 1690.2 1571.1 1695.9 1573.0 1700.3C1575.0 1704.6 1576.9 1708.0 1578.9 1711.0C1580.8 1713.9 1582.4 1715.9 1584.7 1717.8C1587.0 1719.6 1589.6 1721.1 1592.5 1722.0C1595.4 1723.0 1594.1 1723.3 1602.2 1723.6C1610.3 1723.9 1634.6 1723.9 1641.1 1724.0z" fill="#d55e00" fill-opacity="0.4" stroke="#000" stroke-width="2.4" stroke-linejoin="round"/>
<path d="M1313.5 1724.0C1317.8 1723.9 1333.1 1723.8 1339.7 1723.2C1346.4 1722.7 1349.4 1721.9 1353.3 1720.7C1357.2 1719.5 1360.1 1717.9 1363.1 1715.8C1366.0 1713.7 1368.2 1711.6 1370.8 1708.0C1373.4 1704.5 1376.0 1700.3 1378.6 1694.4C1381.2 1688.6 1383.8 1681.1 1386.4 1673.0C1389.0 1664.9 1391.6 1655.9 1394.2 1645.8C1396.8 1635.8 1399.3 1624.1 1401.9 1612.8C1404.5 1601.4 1407.5 1588.1 1409.7 1577.8C1412.0 1567.4 1413.6 1559.3 1415.6 1550.6C1417.5 1541.8 1419.4 1533.1 1421.4 1525.3C1423.3 1517.5 1425.3 1510.4 1427.2 1503.9C1429.2 1497.4 1431.1 1491.6 1433.1 1486.4C1435.0 1481.2 1436.9 1476.7 1438.9 1472.8C1440.8 1468.9 1442.8 1465.5 1444.7 1463.1C1446.7 1460.6 1448.4 1459.3 1450.6 1458.2C1452.7 1457.1 1455.4 1456.1 1457.4 1456.2C1459.3 1456.4 1460.4 1457.4 1462.2 1459.2C1464.0 1460.9 1466.1 1464.0 1468.1 1466.9C1470.0 1469.9 1471.9 1473.1 1473.9 1476.7C1475.8 1480.2 1477.4 1483.5 1479.7 1488.3C1482.0 1493.2 1484.9 1500.0 1487.5 1505.8C1490.1 1511.7 1492.7 1517.5 1495.3 1523.3C1497.9 1529.2 1500.5 1534.7 1503.0 1540.8C1505.6 1547.0 1508.2 1553.8 1510.8 1560.3C1513.4 1566.8 1516.0 1573.6 1518.6 1579.7C1521.2 1585.9 1523.8 1591.4 1526.4 1597.2C1529.0 1603.0 1531.6 1609.2 1534.2 1614.7C1536.8 1620.2 1539.7 1625.4 1541.9 1630.3C1544.2 1635.1 1545.8 1638.7 1547.8 1643.9C1549.7 1649.1 1551.7 1655.9 1553.6 1661.4C1555.5 1666.9 1557.5 1672.1 1559.4 1676.9C1561.4 1681.8 1563.3 1686.3 1565.3 1690.5C1567.2 1694.8 1569.2 1698.6 1571.1 1702.2C1573.0 1705.8 1575.0 1709.3 1576.9 1711.9C1578.9 1714.5 1580.5 1716.1 1582.8 1717.8C1585.0 1719.5 1587.3 1721.1 1590.5 1722.0C1593.8 1723.0 1593.8 1723.3 1602.2 1723.6C1610.6 1723.9 1634.6 1723.9 1641.1 1724.0z" fill="#0072b2" fill-opacity="0.4" stroke="#000" stroke-width="2.4" stroke-linejoin="round"/>
<rect x="1298.6" y="1401.0" width="358.4" height="337.5" fill="none" stroke="#333" stroke-width="1.4"/>
<path d="M1362.2 1738.5v4M1449.5 1738.5v4M1536.8 1738.5v4M1624.1 1738.5v4" stroke="#333" stroke-width="1.3" fill="none"/>
<path d="M1298.6 1724.0h-4M1298.6 1652.5h-4M1298.6 1581.0h-4M1298.6 1509.4h-4M1298.6 1437.9h-4" stroke="#333" stroke-width="1.3" fill="none"/>
<text x="1362.2" y="1765.8" font-size="29" text-anchor="middle">20</text>
<text x="1449.5" y="1765.8" font-size="29" text-anchor="middle">40</text>
<text x="1536.8" y="1765.8" font-size="29" text-anchor="middle">60</text>
<text x="1624.1" y="1765.8" font-size="29" text-anchor="middle">80</text>
<text x="1293.6" y="1733.6" font-size="28" text-anchor="end">0.00</text>
<text x="1293.6" y="1662.1" font-size="28" text-anchor="end">0.01</text>
<text x="1293.6" y="1590.6" font-size="28" text-anchor="end">0.02</text>
<text x="1293.6" y="1519.0" font-size="28" text-anchor="end">0.03</text>
<text x="1293.6" y="1447.5" font-size="28" text-anchor="end">0.04</text>
<text x="1486.0" y="1799.0" font-size="29" text-anchor="middle">% GC content</text>
<text x="1223.8" y="1552.6" font-size="29" text-anchor="middle" transform="rotate(-90 1223.8 1552.6)">Density</text>
<text x="1165.3" y="1403.4" font-size="33.5" font-weight="bold">g</text>
<rect x="1705.0" y="1532.8" width="13.8" height="23.1" fill="#eebf99" stroke="#222" stroke-width="1.3"/>
<rect x="1705.0" y="1562.0" width="13.8" height="23.0" fill="#99c7e0" stroke="#222" stroke-width="1.3"/>
<text x="1724.5" y="1550.2" font-size="29">characterized protein</text>
<text x="1724.5" y="1579.7" font-size="29">uncharacterized protein</text>
</svg>
</body></html>
